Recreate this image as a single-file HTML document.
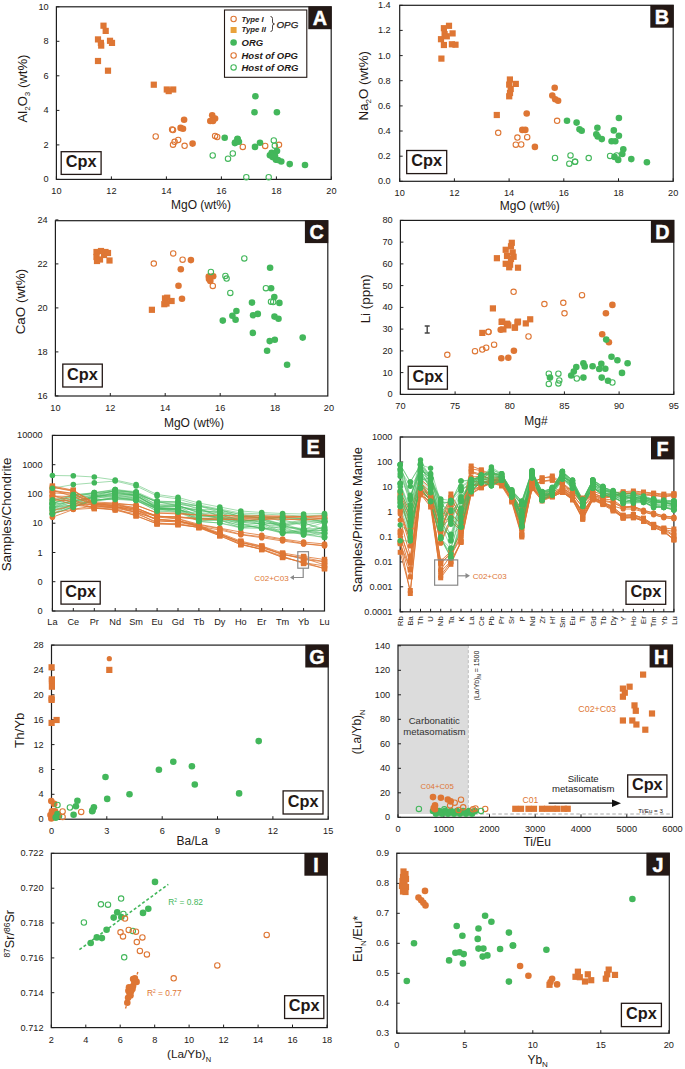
<!DOCTYPE html>
<html><head><meta charset="utf-8"><style>html,body{margin:0;padding:0;background:#fff;}svg{display:block;}</style></head>
<body><svg width="685" height="1069" viewBox="0 0 685 1069" font-family='"Liberation Sans", sans-serif'><rect width="685" height="1069" fill="#fff"/><rect x="56.4" y="6.8" width="274.8" height="172.6" fill="none" stroke="#1e1e1e" stroke-width="1.2"/><line x1="56.4" y1="179.4" x2="56.4" y2="176.4" stroke="#1e1e1e" stroke-width="1"/><text transform="translate(56.4,194.3) scale(1,1.08)" font-size="9.2" text-anchor="middle" fill="#231815">10</text><line x1="111.4" y1="179.4" x2="111.4" y2="176.4" stroke="#1e1e1e" stroke-width="1"/><text transform="translate(111.4,194.3) scale(1,1.08)" font-size="9.2" text-anchor="middle" fill="#231815">12</text><line x1="166.4" y1="179.4" x2="166.4" y2="176.4" stroke="#1e1e1e" stroke-width="1"/><text transform="translate(166.4,194.3) scale(1,1.08)" font-size="9.2" text-anchor="middle" fill="#231815">14</text><line x1="221.4" y1="179.4" x2="221.4" y2="176.4" stroke="#1e1e1e" stroke-width="1"/><text transform="translate(221.4,194.3) scale(1,1.08)" font-size="9.2" text-anchor="middle" fill="#231815">16</text><line x1="276.4" y1="179.4" x2="276.4" y2="176.4" stroke="#1e1e1e" stroke-width="1"/><text transform="translate(276.4,194.3) scale(1,1.08)" font-size="9.2" text-anchor="middle" fill="#231815">18</text><line x1="331.4" y1="179.4" x2="331.4" y2="176.4" stroke="#1e1e1e" stroke-width="1"/><text transform="translate(331.4,194.3) scale(1,1.08)" font-size="9.2" text-anchor="middle" fill="#231815">20</text><line x1="56.4" y1="179.4" x2="59.4" y2="179.4" stroke="#1e1e1e" stroke-width="1"/><text transform="translate(48.6,182.4) scale(1,1.08)" font-size="9.2" text-anchor="end" fill="#231815">0</text><line x1="56.4" y1="144.9" x2="59.4" y2="144.9" stroke="#1e1e1e" stroke-width="1"/><text transform="translate(48.6,147.9) scale(1,1.08)" font-size="9.2" text-anchor="end" fill="#231815">2</text><line x1="56.4" y1="110.4" x2="59.4" y2="110.4" stroke="#1e1e1e" stroke-width="1"/><text transform="translate(48.6,113.4) scale(1,1.08)" font-size="9.2" text-anchor="end" fill="#231815">4</text><line x1="56.4" y1="75.8" x2="59.4" y2="75.8" stroke="#1e1e1e" stroke-width="1"/><text transform="translate(48.6,78.8) scale(1,1.08)" font-size="9.2" text-anchor="end" fill="#231815">6</text><line x1="56.4" y1="41.3" x2="59.4" y2="41.3" stroke="#1e1e1e" stroke-width="1"/><text transform="translate(48.6,44.3) scale(1,1.08)" font-size="9.2" text-anchor="end" fill="#231815">8</text><line x1="56.4" y1="6.8" x2="59.4" y2="6.8" stroke="#1e1e1e" stroke-width="1"/><text transform="translate(48.6,9.8) scale(1,1.08)" font-size="9.2" text-anchor="end" fill="#231815">10</text><text transform="translate(26.5,88.5) rotate(-90)" font-size="13.1" text-anchor="middle" fill="#231815">Al<tspan font-size="8" dy="3">2</tspan><tspan dy="-3">O</tspan><tspan font-size="8" dy="3">3</tspan><tspan dy="-3"> (wt%)</tspan></text><text x="201.0" y="208.8" font-size="12" text-anchor="middle" font-weight="normal" fill="#231815" >MgO (wt%)</text><rect x="100.4" y="22.6" width="6.2" height="6.2" fill="#DE7634"/><rect x="102.6" y="27.8" width="6.2" height="6.2" fill="#DE7634"/><rect x="94.9" y="36.3" width="6.2" height="6.2" fill="#DE7634"/><rect x="97.8" y="39.8" width="6.2" height="6.2" fill="#DE7634"/><rect x="98.1" y="42.5" width="6.2" height="6.2" fill="#DE7634"/><rect x="106.9" y="37.7" width="6.2" height="6.2" fill="#DE7634"/><rect x="108.9" y="39.8" width="6.2" height="6.2" fill="#DE7634"/><rect x="94.9" y="57.9" width="6.2" height="6.2" fill="#DE7634"/><rect x="104.9" y="67.6" width="6.2" height="6.2" fill="#DE7634"/><rect x="150.7" y="81.6" width="6.2" height="6.2" fill="#DE7634"/><rect x="163.7" y="86.4" width="6.2" height="6.2" fill="#DE7634"/><rect x="170.1" y="86.4" width="6.2" height="6.2" fill="#DE7634"/><rect x="165.6" y="88.0" width="6.2" height="6.2" fill="#DE7634"/><circle cx="184.1" cy="119.7" r="3.3" fill="#DE7634"/><circle cx="180.6" cy="127.9" r="3.3" fill="#DE7634"/><circle cx="183.0" cy="128.7" r="3.3" fill="#DE7634"/><circle cx="192.6" cy="143.6" r="3.3" fill="#DE7634"/><circle cx="212.2" cy="115.3" r="3.3" fill="#DE7634"/><circle cx="215.1" cy="118.5" r="3.3" fill="#DE7634"/><circle cx="210.3" cy="121.0" r="3.3" fill="#DE7634"/><circle cx="213.0" cy="121.0" r="3.3" fill="#DE7634"/><circle cx="155.7" cy="136.5" r="2.7" fill="none" stroke="#DE7634" stroke-width="1.1"/><circle cx="172.1" cy="129.5" r="2.7" fill="none" stroke="#DE7634" stroke-width="1.1"/><circle cx="173.0" cy="130.0" r="2.7" fill="none" stroke="#DE7634" stroke-width="1.1"/><circle cx="178.2" cy="139.9" r="2.7" fill="none" stroke="#DE7634" stroke-width="1.1"/><circle cx="174.6" cy="141.8" r="2.7" fill="none" stroke="#DE7634" stroke-width="1.1"/><circle cx="173.0" cy="144.7" r="2.7" fill="none" stroke="#DE7634" stroke-width="1.1"/><circle cx="184.6" cy="145.8" r="2.7" fill="none" stroke="#DE7634" stroke-width="1.1"/><circle cx="215.1" cy="135.9" r="2.7" fill="none" stroke="#DE7634" stroke-width="1.1"/><circle cx="217.2" cy="137.0" r="2.7" fill="none" stroke="#DE7634" stroke-width="1.1"/><circle cx="242.8" cy="146.9" r="2.7" fill="none" stroke="#DE7634" stroke-width="1.1"/><circle cx="265.2" cy="145.9" r="2.7" fill="none" stroke="#DE7634" stroke-width="1.1"/><circle cx="279.0" cy="144.8" r="2.7" fill="none" stroke="#DE7634" stroke-width="1.1"/><circle cx="224.7" cy="137.8" r="3.3" fill="#43B75B"/><circle cx="235.2" cy="142.6" r="3.3" fill="#43B75B"/><circle cx="237.6" cy="139.4" r="3.3" fill="#43B75B"/><circle cx="255.4" cy="96.3" r="3.3" fill="#43B75B"/><circle cx="254.5" cy="112.2" r="3.3" fill="#43B75B"/><circle cx="276.9" cy="112.2" r="3.3" fill="#43B75B"/><circle cx="237.5" cy="138.7" r="3.3" fill="#43B75B"/><circle cx="234.9" cy="143.1" r="3.3" fill="#43B75B"/><circle cx="238.9" cy="141.7" r="3.3" fill="#43B75B"/><circle cx="255.0" cy="146.9" r="3.3" fill="#43B75B"/><circle cx="260.0" cy="142.7" r="3.3" fill="#43B75B"/><circle cx="271.7" cy="152.7" r="3.3" fill="#43B75B"/><circle cx="269.9" cy="155.3" r="3.3" fill="#43B75B"/><circle cx="272.6" cy="157.1" r="3.3" fill="#43B75B"/><circle cx="277.0" cy="151.0" r="3.3" fill="#43B75B"/><circle cx="276.0" cy="159.7" r="3.3" fill="#43B75B"/><circle cx="281.3" cy="161.5" r="3.3" fill="#43B75B"/><circle cx="289.7" cy="164.1" r="3.3" fill="#43B75B"/><circle cx="305.0" cy="165.0" r="3.3" fill="#43B75B"/><circle cx="274.0" cy="154.0" r="3.3" fill="#43B75B"/><circle cx="275.0" cy="156.0" r="3.3" fill="#43B75B"/><circle cx="278.0" cy="160.0" r="3.3" fill="#43B75B"/><circle cx="212.7" cy="155.5" r="2.7" fill="none" stroke="#43B75B" stroke-width="1.1"/><circle cx="228.0" cy="158.7" r="2.7" fill="none" stroke="#43B75B" stroke-width="1.1"/><circle cx="232.8" cy="153.5" r="2.7" fill="none" stroke="#43B75B" stroke-width="1.1"/><circle cx="273.8" cy="140.4" r="2.7" fill="none" stroke="#43B75B" stroke-width="1.1"/><circle cx="274.8" cy="145.7" r="2.7" fill="none" stroke="#43B75B" stroke-width="1.1"/><circle cx="246.3" cy="177.2" r="2.7" fill="none" stroke="#43B75B" stroke-width="1.1"/><circle cx="268.7" cy="177.2" r="2.7" fill="none" stroke="#43B75B" stroke-width="1.1"/><rect x="61.2" y="151.7" width="39.89999999999999" height="22.700000000000017" fill="#fff" stroke="#231815" stroke-width="1.3"/><text x="81.2" y="167.4" font-size="16.3" text-anchor="middle" font-weight="bold" fill="#231815" >Cpx</text><rect x="308.3" y="6.4" width="23.3" height="22.8" fill="#231815"/><text x="319.9" y="25.3" font-size="19.8" text-anchor="middle" font-weight="bold" fill="#fff" stroke="#fff" stroke-width="0.45">A</text><rect x="224.5" y="10" width="82.3" height="67.3" fill="#fff" stroke="#231815" stroke-width="1.1"/><circle cx="233.6" cy="19.0" r="2.7" fill="none" stroke="#DE7634" stroke-width="1.1"/><rect x="230.6" y="27" width="6" height="6" fill="#E9A23B"/><circle cx="233.6" cy="42.5" r="3.3" fill="#43B75B"/><circle cx="233.6" cy="55.5" r="2.7" fill="none" stroke="#DE7634" stroke-width="1.1"/><circle cx="233.6" cy="67.4" r="2.7" fill="none" stroke="#43B75B" stroke-width="1.1"/><text x="241.5" y="22.4" font-size="7.8" text-anchor="start" font-weight="bold" fill="#231815" font-style="italic" >Type I</text><text x="241.5" y="32.0" font-size="7.8" text-anchor="start" font-weight="bold" fill="#231815" font-style="italic" >Type II</text><text x="276.5" y="27.6" font-size="9.8" text-anchor="start" font-weight="normal" fill="#231815" font-style="italic" stroke="#231815" stroke-width="0.25">OPG</text><path d="M270.5,16.5 q2,0 2,2 v3.5 q0,2 2,2 q-2,0 -2,2 v3.5 q0,2 -2,2" fill="none" stroke="#231815" stroke-width="0.8"/><text x="241.5" y="46.0" font-size="9.5" text-anchor="start" font-weight="bold" fill="#231815" font-style="italic" >ORG</text><text x="241.5" y="59.0" font-size="9.5" text-anchor="start" font-weight="bold" fill="#231815" font-style="italic" >Host of OPG</text><text x="241.5" y="71.0" font-size="9.5" text-anchor="start" font-weight="bold" fill="#231815" font-style="italic" >Host of ORG</text><rect x="399.7" y="5.3" width="273.50000000000006" height="176.0" fill="none" stroke="#1e1e1e" stroke-width="1.2"/><line x1="399.7" y1="181.3" x2="399.7" y2="178.3" stroke="#1e1e1e" stroke-width="1"/><text transform="translate(399.7,196.2) scale(1,1.08)" font-size="9.2" text-anchor="middle" fill="#231815">10</text><line x1="454.4" y1="181.3" x2="454.4" y2="178.3" stroke="#1e1e1e" stroke-width="1"/><text transform="translate(454.4,196.2) scale(1,1.08)" font-size="9.2" text-anchor="middle" fill="#231815">12</text><line x1="509.1" y1="181.3" x2="509.1" y2="178.3" stroke="#1e1e1e" stroke-width="1"/><text transform="translate(509.1,196.2) scale(1,1.08)" font-size="9.2" text-anchor="middle" fill="#231815">14</text><line x1="563.8" y1="181.3" x2="563.8" y2="178.3" stroke="#1e1e1e" stroke-width="1"/><text transform="translate(563.8,196.2) scale(1,1.08)" font-size="9.2" text-anchor="middle" fill="#231815">16</text><line x1="618.5" y1="181.3" x2="618.5" y2="178.3" stroke="#1e1e1e" stroke-width="1"/><text transform="translate(618.5,196.2) scale(1,1.08)" font-size="9.2" text-anchor="middle" fill="#231815">18</text><line x1="673.2" y1="181.3" x2="673.2" y2="178.3" stroke="#1e1e1e" stroke-width="1"/><text transform="translate(673.2,196.2) scale(1,1.08)" font-size="9.2" text-anchor="middle" fill="#231815">20</text><line x1="399.7" y1="181.3" x2="402.7" y2="181.3" stroke="#1e1e1e" stroke-width="1"/><text transform="translate(390.7,184.3) scale(1,1.08)" font-size="9.2" text-anchor="end" fill="#231815">0.0</text><line x1="399.7" y1="156.2" x2="402.7" y2="156.2" stroke="#1e1e1e" stroke-width="1"/><text transform="translate(390.7,159.2) scale(1,1.08)" font-size="9.2" text-anchor="end" fill="#231815">0.2</text><line x1="399.7" y1="131.0" x2="402.7" y2="131.0" stroke="#1e1e1e" stroke-width="1"/><text transform="translate(390.7,134.0) scale(1,1.08)" font-size="9.2" text-anchor="end" fill="#231815">0.4</text><line x1="399.7" y1="105.9" x2="402.7" y2="105.9" stroke="#1e1e1e" stroke-width="1"/><text transform="translate(390.7,108.9) scale(1,1.08)" font-size="9.2" text-anchor="end" fill="#231815">0.6</text><line x1="399.7" y1="80.7" x2="402.7" y2="80.7" stroke="#1e1e1e" stroke-width="1"/><text transform="translate(390.7,83.7) scale(1,1.08)" font-size="9.2" text-anchor="end" fill="#231815">0.8</text><line x1="399.7" y1="55.6" x2="402.7" y2="55.6" stroke="#1e1e1e" stroke-width="1"/><text transform="translate(390.7,58.6) scale(1,1.08)" font-size="9.2" text-anchor="end" fill="#231815">1.0</text><line x1="399.7" y1="30.4" x2="402.7" y2="30.4" stroke="#1e1e1e" stroke-width="1"/><text transform="translate(390.7,33.4) scale(1,1.08)" font-size="9.2" text-anchor="end" fill="#231815">1.2</text><line x1="399.7" y1="5.3" x2="402.7" y2="5.3" stroke="#1e1e1e" stroke-width="1"/><text transform="translate(390.7,8.3) scale(1,1.08)" font-size="9.2" text-anchor="end" fill="#231815">1.4</text><text transform="translate(367.8,85.7) rotate(-90)" font-size="13.3" text-anchor="middle" fill="#231815">Na<tspan font-size="8" dy="3">2</tspan><tspan dy="-3">O (wt%)</tspan></text><text x="529.8" y="209.5" font-size="12" text-anchor="middle" font-weight="normal" fill="#231815" >MgO (wt%)</text><rect x="445.9" y="22.7" width="6.2" height="6.2" fill="#DE7634"/><rect x="440.8" y="25.1" width="6.2" height="6.2" fill="#DE7634"/><rect x="449.5" y="30.3" width="6.2" height="6.2" fill="#DE7634"/><rect x="441.5" y="31.0" width="6.2" height="6.2" fill="#DE7634"/><rect x="437.9" y="36.1" width="6.2" height="6.2" fill="#DE7634"/><rect x="440.8" y="41.9" width="6.2" height="6.2" fill="#DE7634"/><rect x="443.7" y="33.2" width="6.2" height="6.2" fill="#DE7634"/><rect x="448.8" y="41.2" width="6.2" height="6.2" fill="#DE7634"/><rect x="452.4" y="41.6" width="6.2" height="6.2" fill="#DE7634"/><rect x="438.3" y="55.5" width="6.2" height="6.2" fill="#DE7634"/><rect x="506.8" y="76.4" width="6.2" height="6.2" fill="#DE7634"/><rect x="512.7" y="80.8" width="6.2" height="6.2" fill="#DE7634"/><rect x="506.1" y="81.5" width="6.2" height="6.2" fill="#DE7634"/><rect x="507.6" y="85.9" width="6.2" height="6.2" fill="#DE7634"/><rect x="506.1" y="93.2" width="6.2" height="6.2" fill="#DE7634"/><rect x="506.9" y="89.9" width="6.2" height="6.2" fill="#DE7634"/><rect x="493.7" y="111.9" width="6.2" height="6.2" fill="#DE7634"/><circle cx="554.7" cy="87.8" r="3.3" fill="#DE7634"/><circle cx="552.3" cy="95.5" r="3.3" fill="#DE7634"/><circle cx="555.2" cy="99.2" r="3.3" fill="#DE7634"/><circle cx="558.1" cy="100.7" r="3.3" fill="#DE7634"/><circle cx="526.7" cy="113.5" r="3.3" fill="#DE7634"/><circle cx="522.3" cy="129.9" r="3.3" fill="#DE7634"/><circle cx="525.3" cy="129.9" r="3.3" fill="#DE7634"/><circle cx="534.9" cy="146.9" r="3.3" fill="#DE7634"/><circle cx="498.2" cy="132.8" r="2.7" fill="none" stroke="#DE7634" stroke-width="1.1"/><circle cx="517.4" cy="137.6" r="2.7" fill="none" stroke="#DE7634" stroke-width="1.1"/><circle cx="527.2" cy="137.2" r="2.7" fill="none" stroke="#DE7634" stroke-width="1.1"/><circle cx="515.8" cy="144.7" r="2.7" fill="none" stroke="#DE7634" stroke-width="1.1"/><circle cx="521.2" cy="144.5" r="2.7" fill="none" stroke="#DE7634" stroke-width="1.1"/><circle cx="557.1" cy="120.8" r="2.7" fill="none" stroke="#DE7634" stroke-width="1.1"/><circle cx="567.0" cy="120.8" r="3.3" fill="#43B75B"/><circle cx="576.6" cy="122.6" r="3.3" fill="#43B75B"/><circle cx="579.5" cy="129.2" r="3.3" fill="#43B75B"/><circle cx="581.7" cy="130.7" r="3.3" fill="#43B75B"/><circle cx="618.9" cy="118.0" r="3.3" fill="#43B75B"/><circle cx="597.4" cy="127.7" r="3.3" fill="#43B75B"/><circle cx="596.3" cy="134.3" r="3.3" fill="#43B75B"/><circle cx="597.7" cy="136.5" r="3.3" fill="#43B75B"/><circle cx="601.8" cy="139.1" r="3.3" fill="#43B75B"/><circle cx="613.8" cy="130.4" r="3.3" fill="#43B75B"/><circle cx="618.9" cy="135.8" r="3.3" fill="#43B75B"/><circle cx="611.6" cy="141.3" r="3.3" fill="#43B75B"/><circle cx="615.3" cy="141.3" r="3.3" fill="#43B75B"/><circle cx="623.3" cy="149.2" r="3.3" fill="#43B75B"/><circle cx="622.3" cy="154.0" r="3.3" fill="#43B75B"/><circle cx="614.5" cy="156.9" r="3.3" fill="#43B75B"/><circle cx="618.2" cy="159.9" r="3.3" fill="#43B75B"/><circle cx="631.3" cy="159.1" r="3.3" fill="#43B75B"/><circle cx="646.9" cy="162.3" r="3.3" fill="#43B75B"/><circle cx="555.0" cy="158.0" r="2.7" fill="none" stroke="#43B75B" stroke-width="1.1"/><circle cx="570.5" cy="155.4" r="2.7" fill="none" stroke="#43B75B" stroke-width="1.1"/><circle cx="569.3" cy="163.7" r="2.7" fill="none" stroke="#43B75B" stroke-width="1.1"/><circle cx="575.0" cy="161.7" r="2.7" fill="none" stroke="#43B75B" stroke-width="1.1"/><circle cx="575.1" cy="161.8" r="2.7" fill="none" stroke="#43B75B" stroke-width="1.1"/><circle cx="588.7" cy="158.1" r="2.7" fill="none" stroke="#43B75B" stroke-width="1.1"/><circle cx="610.1" cy="155.9" r="2.7" fill="none" stroke="#43B75B" stroke-width="1.1"/><circle cx="616.7" cy="155.5" r="2.7" fill="none" stroke="#43B75B" stroke-width="1.1"/><rect x="406.7" y="150.5" width="40.0" height="23.099999999999994" fill="#fff" stroke="#231815" stroke-width="1.3"/><text x="426.7" y="166.4" font-size="16.3" text-anchor="middle" font-weight="bold" fill="#231815" >Cpx</text><rect x="650.3" y="4.9" width="23.3" height="22.8" fill="#231815"/><text x="662.0" y="23.8" font-size="19.8" text-anchor="middle" font-weight="bold" fill="#fff" stroke="#fff" stroke-width="0.45">B</text><rect x="55.4" y="220.7" width="272.40000000000003" height="175.3" fill="none" stroke="#1e1e1e" stroke-width="1.2"/><line x1="55.4" y1="396.0" x2="55.4" y2="393.0" stroke="#1e1e1e" stroke-width="1"/><text transform="translate(55.4,410.9) scale(1,1.08)" font-size="9.2" text-anchor="middle" fill="#231815">10</text><line x1="110.3" y1="396.0" x2="110.3" y2="393.0" stroke="#1e1e1e" stroke-width="1"/><text transform="translate(110.3,410.9) scale(1,1.08)" font-size="9.2" text-anchor="middle" fill="#231815">12</text><line x1="165.2" y1="396.0" x2="165.2" y2="393.0" stroke="#1e1e1e" stroke-width="1"/><text transform="translate(165.2,410.9) scale(1,1.08)" font-size="9.2" text-anchor="middle" fill="#231815">14</text><line x1="220.2" y1="396.0" x2="220.2" y2="393.0" stroke="#1e1e1e" stroke-width="1"/><text transform="translate(220.2,410.9) scale(1,1.08)" font-size="9.2" text-anchor="middle" fill="#231815">16</text><line x1="275.1" y1="396.0" x2="275.1" y2="393.0" stroke="#1e1e1e" stroke-width="1"/><text transform="translate(275.1,410.9) scale(1,1.08)" font-size="9.2" text-anchor="middle" fill="#231815">18</text><text transform="translate(328.9,410.9) scale(1,1.08)" font-size="9.2" text-anchor="middle" fill="#231815">20</text><line x1="55.4" y1="395.9" x2="58.4" y2="395.9" stroke="#1e1e1e" stroke-width="1"/><text transform="translate(47.6,398.9) scale(1,1.08)" font-size="9.2" text-anchor="end" fill="#231815">16</text><line x1="55.4" y1="351.9" x2="58.4" y2="351.9" stroke="#1e1e1e" stroke-width="1"/><text transform="translate(47.6,354.9) scale(1,1.08)" font-size="9.2" text-anchor="end" fill="#231815">18</text><line x1="55.4" y1="307.9" x2="58.4" y2="307.9" stroke="#1e1e1e" stroke-width="1"/><text transform="translate(47.6,310.9) scale(1,1.08)" font-size="9.2" text-anchor="end" fill="#231815">20</text><line x1="55.4" y1="263.9" x2="58.4" y2="263.9" stroke="#1e1e1e" stroke-width="1"/><text transform="translate(47.6,266.9) scale(1,1.08)" font-size="9.2" text-anchor="end" fill="#231815">22</text><line x1="55.4" y1="219.9" x2="58.4" y2="219.9" stroke="#1e1e1e" stroke-width="1"/><text transform="translate(47.6,222.9) scale(1,1.08)" font-size="9.2" text-anchor="end" fill="#231815">24</text><text transform="translate(25.1,301.6) rotate(-90)" font-size="13.4" text-anchor="middle" fill="#231815">CaO (wt%)</text><text x="193.9" y="426.5" font-size="12" text-anchor="middle" font-weight="normal" fill="#231815" >MgO (wt%)</text><rect x="93.4" y="248.9" width="6.2" height="6.2" fill="#DE7634"/><rect x="97.9" y="247.9" width="6.2" height="6.2" fill="#DE7634"/><rect x="102.4" y="248.9" width="6.2" height="6.2" fill="#DE7634"/><rect x="93.4" y="253.9" width="6.2" height="6.2" fill="#DE7634"/><rect x="96.9" y="256.4" width="6.2" height="6.2" fill="#DE7634"/><rect x="100.9" y="251.9" width="6.2" height="6.2" fill="#DE7634"/><rect x="104.9" y="249.9" width="6.2" height="6.2" fill="#DE7634"/><rect x="106.4" y="257.4" width="6.2" height="6.2" fill="#DE7634"/><rect x="93.9" y="257.9" width="6.2" height="6.2" fill="#DE7634"/><rect x="148.8" y="306.7" width="6.2" height="6.2" fill="#DE7634"/><rect x="161.9" y="295.3" width="6.2" height="6.2" fill="#DE7634"/><rect x="164.1" y="294.6" width="6.2" height="6.2" fill="#DE7634"/><rect x="168.5" y="297.9" width="6.2" height="6.2" fill="#DE7634"/><rect x="161.2" y="301.1" width="6.2" height="6.2" fill="#DE7634"/><rect x="163.4" y="300.4" width="6.2" height="6.2" fill="#DE7634"/><circle cx="190.9" cy="260.1" r="3.3" fill="#DE7634"/><circle cx="180.8" cy="269.2" r="3.3" fill="#DE7634"/><circle cx="178.5" cy="285.7" r="3.3" fill="#DE7634"/><circle cx="182.0" cy="298.7" r="3.3" fill="#DE7634"/><circle cx="208.8" cy="276.5" r="3.3" fill="#DE7634"/><circle cx="213.2" cy="276.2" r="3.3" fill="#DE7634"/><circle cx="210.3" cy="280.9" r="3.3" fill="#DE7634"/><circle cx="209.0" cy="279.0" r="3.3" fill="#DE7634"/><circle cx="153.8" cy="263.6" r="2.7" fill="none" stroke="#DE7634" stroke-width="1.1"/><circle cx="173.2" cy="253.4" r="2.7" fill="none" stroke="#DE7634" stroke-width="1.1"/><circle cx="182.6" cy="259.7" r="2.7" fill="none" stroke="#DE7634" stroke-width="1.1"/><circle cx="212.8" cy="285.9" r="2.7" fill="none" stroke="#DE7634" stroke-width="1.1"/><circle cx="270.1" cy="267.7" r="3.3" fill="#43B75B"/><circle cx="271.1" cy="288.2" r="3.3" fill="#43B75B"/><circle cx="274.3" cy="297.0" r="3.3" fill="#43B75B"/><circle cx="279.4" cy="302.9" r="3.3" fill="#43B75B"/><circle cx="252.0" cy="302.6" r="3.3" fill="#43B75B"/><circle cx="236.4" cy="311.0" r="3.3" fill="#43B75B"/><circle cx="232.4" cy="315.7" r="3.3" fill="#43B75B"/><circle cx="235.6" cy="319.7" r="3.3" fill="#43B75B"/><circle cx="222.8" cy="320.6" r="3.3" fill="#43B75B"/><circle cx="253.1" cy="315.3" r="3.3" fill="#43B75B"/><circle cx="257.8" cy="313.9" r="3.3" fill="#43B75B"/><circle cx="274.5" cy="316.6" r="3.3" fill="#43B75B"/><circle cx="278.5" cy="318.7" r="3.3" fill="#43B75B"/><circle cx="252.9" cy="332.9" r="3.3" fill="#43B75B"/><circle cx="269.7" cy="341.1" r="3.3" fill="#43B75B"/><circle cx="274.8" cy="339.7" r="3.3" fill="#43B75B"/><circle cx="267.1" cy="350.7" r="3.3" fill="#43B75B"/><circle cx="302.7" cy="337.6" r="3.3" fill="#43B75B"/><circle cx="287.1" cy="364.8" r="3.3" fill="#43B75B"/><circle cx="210.9" cy="271.9" r="2.7" fill="none" stroke="#43B75B" stroke-width="1.1"/><circle cx="225.4" cy="275.9" r="2.7" fill="none" stroke="#43B75B" stroke-width="1.1"/><circle cx="226.6" cy="278.6" r="2.7" fill="none" stroke="#43B75B" stroke-width="1.1"/><circle cx="230.3" cy="292.9" r="2.7" fill="none" stroke="#43B75B" stroke-width="1.1"/><circle cx="244.3" cy="258.4" r="2.7" fill="none" stroke="#43B75B" stroke-width="1.1"/><circle cx="265.9" cy="288.2" r="2.7" fill="none" stroke="#43B75B" stroke-width="1.1"/><circle cx="271.0" cy="301.7" r="2.7" fill="none" stroke="#43B75B" stroke-width="1.1"/><circle cx="273.2" cy="302.0" r="2.7" fill="none" stroke="#43B75B" stroke-width="1.1"/><rect x="62.8" y="364.1" width="39.5" height="22.899999999999977" fill="#fff" stroke="#231815" stroke-width="1.3"/><text x="82.5" y="379.9" font-size="16.3" text-anchor="middle" font-weight="bold" fill="#231815" >Cpx</text><rect x="304.9" y="220.3" width="23.3" height="22.8" fill="#231815"/><text x="316.6" y="239.2" font-size="19.8" text-anchor="middle" font-weight="bold" fill="#fff" stroke="#fff" stroke-width="0.45">C</text><rect x="400.4" y="220.4" width="273.4" height="173.99999999999997" fill="none" stroke="#1e1e1e" stroke-width="1.2"/><line x1="400.4" y1="394.4" x2="400.4" y2="391.4" stroke="#1e1e1e" stroke-width="1"/><text transform="translate(400.4,409.3) scale(1,1.08)" font-size="9.2" text-anchor="middle" fill="#231815">70</text><line x1="455.1" y1="394.4" x2="455.1" y2="391.4" stroke="#1e1e1e" stroke-width="1"/><text transform="translate(455.1,409.3) scale(1,1.08)" font-size="9.2" text-anchor="middle" fill="#231815">75</text><line x1="509.8" y1="394.4" x2="509.8" y2="391.4" stroke="#1e1e1e" stroke-width="1"/><text transform="translate(509.8,409.3) scale(1,1.08)" font-size="9.2" text-anchor="middle" fill="#231815">80</text><line x1="564.4" y1="394.4" x2="564.4" y2="391.4" stroke="#1e1e1e" stroke-width="1"/><text transform="translate(564.4,409.3) scale(1,1.08)" font-size="9.2" text-anchor="middle" fill="#231815">85</text><line x1="619.1" y1="394.4" x2="619.1" y2="391.4" stroke="#1e1e1e" stroke-width="1"/><text transform="translate(619.1,409.3) scale(1,1.08)" font-size="9.2" text-anchor="middle" fill="#231815">90</text><line x1="673.8" y1="394.4" x2="673.8" y2="391.4" stroke="#1e1e1e" stroke-width="1"/><text transform="translate(673.8,409.3) scale(1,1.08)" font-size="9.2" text-anchor="middle" fill="#231815">95</text><line x1="400.4" y1="394.4" x2="403.4" y2="394.4" stroke="#1e1e1e" stroke-width="1"/><text transform="translate(392.6,397.4) scale(1,1.08)" font-size="9.2" text-anchor="end" fill="#231815">0</text><line x1="400.4" y1="372.6" x2="403.4" y2="372.6" stroke="#1e1e1e" stroke-width="1"/><text transform="translate(392.6,375.6) scale(1,1.08)" font-size="9.2" text-anchor="end" fill="#231815">10</text><line x1="400.4" y1="350.9" x2="403.4" y2="350.9" stroke="#1e1e1e" stroke-width="1"/><text transform="translate(392.6,353.9) scale(1,1.08)" font-size="9.2" text-anchor="end" fill="#231815">20</text><line x1="400.4" y1="329.1" x2="403.4" y2="329.1" stroke="#1e1e1e" stroke-width="1"/><text transform="translate(392.6,332.1) scale(1,1.08)" font-size="9.2" text-anchor="end" fill="#231815">30</text><line x1="400.4" y1="307.4" x2="403.4" y2="307.4" stroke="#1e1e1e" stroke-width="1"/><text transform="translate(392.6,310.4) scale(1,1.08)" font-size="9.2" text-anchor="end" fill="#231815">40</text><line x1="400.4" y1="285.6" x2="403.4" y2="285.6" stroke="#1e1e1e" stroke-width="1"/><text transform="translate(392.6,288.6) scale(1,1.08)" font-size="9.2" text-anchor="end" fill="#231815">50</text><line x1="400.4" y1="263.9" x2="403.4" y2="263.9" stroke="#1e1e1e" stroke-width="1"/><text transform="translate(392.6,266.9) scale(1,1.08)" font-size="9.2" text-anchor="end" fill="#231815">60</text><line x1="400.4" y1="242.1" x2="403.4" y2="242.1" stroke="#1e1e1e" stroke-width="1"/><text transform="translate(392.6,245.1) scale(1,1.08)" font-size="9.2" text-anchor="end" fill="#231815">70</text><line x1="400.4" y1="220.4" x2="403.4" y2="220.4" stroke="#1e1e1e" stroke-width="1"/><text transform="translate(392.6,223.4) scale(1,1.08)" font-size="9.2" text-anchor="end" fill="#231815">80</text><text transform="translate(370,298.8) rotate(-90)" font-size="13.4" text-anchor="middle" fill="#231815">Li (ppm)</text><text x="536.0" y="425.0" font-size="12" text-anchor="middle" font-weight="normal" fill="#231815" >Mg#</text><rect x="508.7" y="239.7" width="6.2" height="6.2" fill="#DE7634"/><rect x="507.9" y="243.2" width="6.2" height="6.2" fill="#DE7634"/><rect x="502.6" y="246.7" width="6.2" height="6.2" fill="#DE7634"/><rect x="509.6" y="249.3" width="6.2" height="6.2" fill="#DE7634"/><rect x="510.5" y="253.7" width="6.2" height="6.2" fill="#DE7634"/><rect x="493.8" y="255.1" width="6.2" height="6.2" fill="#DE7634"/><rect x="502.6" y="260.7" width="6.2" height="6.2" fill="#DE7634"/><rect x="507.0" y="261.6" width="6.2" height="6.2" fill="#DE7634"/><rect x="506.1" y="264.2" width="6.2" height="6.2" fill="#DE7634"/><rect x="514.9" y="264.6" width="6.2" height="6.2" fill="#DE7634"/><rect x="507.9" y="255.9" width="6.2" height="6.2" fill="#DE7634"/><rect x="503.9" y="252.9" width="6.2" height="6.2" fill="#DE7634"/><rect x="489.8" y="305.3" width="6.2" height="6.2" fill="#DE7634"/><rect x="479.2" y="329.8" width="6.2" height="6.2" fill="#DE7634"/><rect x="498.5" y="318.8" width="6.2" height="6.2" fill="#DE7634"/><rect x="503.8" y="320.6" width="6.2" height="6.2" fill="#DE7634"/><rect x="505.2" y="322.3" width="6.2" height="6.2" fill="#DE7634"/><rect x="511.7" y="324.6" width="6.2" height="6.2" fill="#DE7634"/><rect x="514.3" y="319.3" width="6.2" height="6.2" fill="#DE7634"/><rect x="499.1" y="318.5" width="6.2" height="6.2" fill="#DE7634"/><rect x="504.3" y="321.1" width="6.2" height="6.2" fill="#DE7634"/><rect x="514.9" y="318.5" width="6.2" height="6.2" fill="#DE7634"/><rect x="511.9" y="324.3" width="6.2" height="6.2" fill="#DE7634"/><rect x="522.7" y="320.3" width="6.2" height="6.2" fill="#DE7634"/><rect x="527.1" y="316.2" width="6.2" height="6.2" fill="#DE7634"/><rect x="500.3" y="326.3" width="6.2" height="6.2" fill="#DE7634"/><circle cx="500.7" cy="329.8" r="3.3" fill="#DE7634"/><circle cx="513.9" cy="350.8" r="3.3" fill="#DE7634"/><circle cx="501.3" cy="358.3" r="3.3" fill="#DE7634"/><circle cx="508.3" cy="357.8" r="3.3" fill="#DE7634"/><circle cx="612.4" cy="304.9" r="3.3" fill="#DE7634"/><circle cx="605.9" cy="313.3" r="3.3" fill="#DE7634"/><circle cx="602.2" cy="334.3" r="3.3" fill="#DE7634"/><circle cx="608.9" cy="342.2" r="3.3" fill="#DE7634"/><circle cx="513.6" cy="291.8" r="2.7" fill="none" stroke="#DE7634" stroke-width="1.1"/><circle cx="544.4" cy="304.1" r="2.7" fill="none" stroke="#DE7634" stroke-width="1.1"/><circle cx="488.4" cy="331.8" r="2.7" fill="none" stroke="#DE7634" stroke-width="1.1"/><circle cx="528.5" cy="336.5" r="2.7" fill="none" stroke="#DE7634" stroke-width="1.1"/><circle cx="447.3" cy="354.8" r="2.7" fill="none" stroke="#DE7634" stroke-width="1.1"/><circle cx="475.0" cy="351.2" r="2.7" fill="none" stroke="#DE7634" stroke-width="1.1"/><circle cx="482.3" cy="349.6" r="2.7" fill="none" stroke="#DE7634" stroke-width="1.1"/><circle cx="486.2" cy="347.7" r="2.7" fill="none" stroke="#DE7634" stroke-width="1.1"/><circle cx="494.1" cy="344.7" r="2.7" fill="none" stroke="#DE7634" stroke-width="1.1"/><circle cx="488.5" cy="331.9" r="2.7" fill="none" stroke="#DE7634" stroke-width="1.1"/><circle cx="563.3" cy="302.8" r="2.7" fill="none" stroke="#DE7634" stroke-width="1.1"/><circle cx="564.5" cy="313.3" r="2.7" fill="none" stroke="#DE7634" stroke-width="1.1"/><circle cx="582.0" cy="295.2" r="2.7" fill="none" stroke="#DE7634" stroke-width="1.1"/><circle cx="606.2" cy="339.6" r="3.3" fill="#43B75B"/><circle cx="611.5" cy="356.7" r="3.3" fill="#43B75B"/><circle cx="617.4" cy="360.2" r="3.3" fill="#43B75B"/><circle cx="627.6" cy="363.2" r="3.3" fill="#43B75B"/><circle cx="583.4" cy="363.2" r="3.3" fill="#43B75B"/><circle cx="584.7" cy="366.4" r="3.3" fill="#43B75B"/><circle cx="576.3" cy="367.1" r="3.3" fill="#43B75B"/><circle cx="573.8" cy="371.5" r="3.3" fill="#43B75B"/><circle cx="571.2" cy="375.5" r="3.3" fill="#43B75B"/><circle cx="592.6" cy="366.2" r="3.3" fill="#43B75B"/><circle cx="601.3" cy="363.7" r="3.3" fill="#43B75B"/><circle cx="599.2" cy="369.0" r="3.3" fill="#43B75B"/><circle cx="605.3" cy="368.8" r="3.3" fill="#43B75B"/><circle cx="622.0" cy="372.9" r="3.3" fill="#43B75B"/><circle cx="583.4" cy="377.6" r="3.3" fill="#43B75B"/><circle cx="601.7" cy="377.6" r="3.3" fill="#43B75B"/><circle cx="608.0" cy="380.7" r="3.3" fill="#43B75B"/><circle cx="550.0" cy="377.6" r="3.3" fill="#43B75B"/><circle cx="548.8" cy="373.7" r="2.7" fill="none" stroke="#43B75B" stroke-width="1.1"/><circle cx="558.4" cy="373.7" r="2.7" fill="none" stroke="#43B75B" stroke-width="1.1"/><circle cx="559.3" cy="380.4" r="2.7" fill="none" stroke="#43B75B" stroke-width="1.1"/><circle cx="548.8" cy="383.9" r="2.7" fill="none" stroke="#43B75B" stroke-width="1.1"/><circle cx="558.4" cy="383.4" r="2.7" fill="none" stroke="#43B75B" stroke-width="1.1"/><circle cx="576.8" cy="378.5" r="2.7" fill="none" stroke="#43B75B" stroke-width="1.1"/><circle cx="612.4" cy="382.5" r="2.7" fill="none" stroke="#43B75B" stroke-width="1.1"/><path d="M424.7,326 h5 M427.2,326 v7 M424.7,333 h5" stroke="#444" stroke-width="1.4" fill="none"/><rect x="408.2" y="366.3" width="39.19999999999999" height="22.899999999999977" fill="#fff" stroke="#231815" stroke-width="1.3"/><text x="427.8" y="382.1" font-size="16.3" text-anchor="middle" font-weight="bold" fill="#231815" >Cpx</text><rect x="650.9" y="220.0" width="23.3" height="22.8" fill="#231815"/><text x="662.5" y="238.9" font-size="19.8" text-anchor="middle" font-weight="bold" fill="#fff" stroke="#fff" stroke-width="0.45">D</text><rect x="52.4" y="435.4" width="272.1" height="175.60000000000002" fill="none" stroke="#1e1e1e" stroke-width="1.2"/><line x1="52.4" y1="611.0" x2="55.4" y2="611.0" stroke="#1e1e1e" stroke-width="1"/><text transform="translate(42.6,614.0) scale(1,1.08)" font-size="9.2" text-anchor="end" fill="#231815">0</text><line x1="52.4" y1="581.7" x2="55.4" y2="581.7" stroke="#1e1e1e" stroke-width="1"/><text transform="translate(42.6,584.7) scale(1,1.08)" font-size="9.2" text-anchor="end" fill="#231815">0</text><line x1="52.4" y1="552.5" x2="55.4" y2="552.5" stroke="#1e1e1e" stroke-width="1"/><text transform="translate(42.6,555.5) scale(1,1.08)" font-size="9.2" text-anchor="end" fill="#231815">1</text><line x1="52.4" y1="523.2" x2="55.4" y2="523.2" stroke="#1e1e1e" stroke-width="1"/><text transform="translate(42.6,526.2) scale(1,1.08)" font-size="9.2" text-anchor="end" fill="#231815">10</text><line x1="52.4" y1="493.9" x2="55.4" y2="493.9" stroke="#1e1e1e" stroke-width="1"/><text transform="translate(42.6,496.9) scale(1,1.08)" font-size="9.2" text-anchor="end" fill="#231815">100</text><line x1="52.4" y1="464.7" x2="55.4" y2="464.7" stroke="#1e1e1e" stroke-width="1"/><text transform="translate(42.6,467.7) scale(1,1.08)" font-size="9.2" text-anchor="end" fill="#231815">1000</text><line x1="52.4" y1="435.4" x2="55.4" y2="435.4" stroke="#1e1e1e" stroke-width="1"/><text transform="translate(42.6,438.4) scale(1,1.08)" font-size="9.2" text-anchor="end" fill="#231815">10000</text><line x1="52.4" y1="611.0" x2="52.4" y2="608.0" stroke="#1e1e1e" stroke-width="1"/><text transform="translate(52.4,625.0) scale(1,1.08)" font-size="9.2" text-anchor="middle" fill="#231815">La</text><line x1="73.3" y1="611.0" x2="73.3" y2="608.0" stroke="#1e1e1e" stroke-width="1"/><text transform="translate(73.3,625.0) scale(1,1.08)" font-size="9.2" text-anchor="middle" fill="#231815">Ce</text><line x1="94.3" y1="611.0" x2="94.3" y2="608.0" stroke="#1e1e1e" stroke-width="1"/><text transform="translate(94.3,625.0) scale(1,1.08)" font-size="9.2" text-anchor="middle" fill="#231815">Pr</text><line x1="115.2" y1="611.0" x2="115.2" y2="608.0" stroke="#1e1e1e" stroke-width="1"/><text transform="translate(115.2,625.0) scale(1,1.08)" font-size="9.2" text-anchor="middle" fill="#231815">Nd</text><line x1="136.1" y1="611.0" x2="136.1" y2="608.0" stroke="#1e1e1e" stroke-width="1"/><text transform="translate(136.1,625.0) scale(1,1.08)" font-size="9.2" text-anchor="middle" fill="#231815">Sm</text><line x1="157.1" y1="611.0" x2="157.1" y2="608.0" stroke="#1e1e1e" stroke-width="1"/><text transform="translate(157.1,625.0) scale(1,1.08)" font-size="9.2" text-anchor="middle" fill="#231815">Eu</text><line x1="178.0" y1="611.0" x2="178.0" y2="608.0" stroke="#1e1e1e" stroke-width="1"/><text transform="translate(178.0,625.0) scale(1,1.08)" font-size="9.2" text-anchor="middle" fill="#231815">Gd</text><line x1="198.9" y1="611.0" x2="198.9" y2="608.0" stroke="#1e1e1e" stroke-width="1"/><text transform="translate(198.9,625.0) scale(1,1.08)" font-size="9.2" text-anchor="middle" fill="#231815">Tb</text><line x1="219.8" y1="611.0" x2="219.8" y2="608.0" stroke="#1e1e1e" stroke-width="1"/><text transform="translate(219.8,625.0) scale(1,1.08)" font-size="9.2" text-anchor="middle" fill="#231815">Dy</text><line x1="240.8" y1="611.0" x2="240.8" y2="608.0" stroke="#1e1e1e" stroke-width="1"/><text transform="translate(240.8,625.0) scale(1,1.08)" font-size="9.2" text-anchor="middle" fill="#231815">Ho</text><line x1="261.7" y1="611.0" x2="261.7" y2="608.0" stroke="#1e1e1e" stroke-width="1"/><text transform="translate(261.7,625.0) scale(1,1.08)" font-size="9.2" text-anchor="middle" fill="#231815">Er</text><line x1="282.6" y1="611.0" x2="282.6" y2="608.0" stroke="#1e1e1e" stroke-width="1"/><text transform="translate(282.6,625.0) scale(1,1.08)" font-size="9.2" text-anchor="middle" fill="#231815">Tm</text><line x1="303.6" y1="611.0" x2="303.6" y2="608.0" stroke="#1e1e1e" stroke-width="1"/><text transform="translate(303.6,625.0) scale(1,1.08)" font-size="9.2" text-anchor="middle" fill="#231815">Yb</text><line x1="324.5" y1="611.0" x2="324.5" y2="608.0" stroke="#1e1e1e" stroke-width="1"/><text transform="translate(324.5,625.0) scale(1,1.08)" font-size="9.2" text-anchor="middle" fill="#231815">Lu</text><text transform="translate(10.6,514.4) rotate(-90)" font-size="13.4" text-anchor="middle" fill="#231815">Samples/Chondrite</text><polyline points="52.4,501.3 73.3,495.3 94.3,492.5 115.2,489.5 136.1,492.8 157.1,502.5 178.0,502.1 198.9,506.0 219.8,510.0 240.8,514.5 261.7,515.5 282.6,518.2 303.6,518.5 324.5,521.3" fill="none" stroke="#43B75B" stroke-width="0.55" stroke-opacity="0.9"/><polyline points="52.4,500.0 73.3,494.5 94.3,495.0 115.2,490.7 136.1,493.2 157.1,501.6 178.0,502.0 198.9,506.0 219.8,510.0 240.8,514.5 261.7,518.5 282.6,517.5 303.6,518.5 324.5,521.6" fill="none" stroke="#43B75B" stroke-width="0.55" stroke-opacity="0.9"/><polyline points="52.4,503.5 73.3,494.6 94.3,493.1 115.2,489.5 136.1,491.7 157.1,501.0 178.0,502.0 198.9,509.4 219.8,510.0 240.8,516.9 261.7,515.5 282.6,521.8 303.6,522.3 324.5,521.6" fill="none" stroke="#43B75B" stroke-width="0.55" stroke-opacity="0.9"/><polyline points="52.4,503.2 73.3,498.2 94.3,492.5 115.2,491.2 136.1,494.6 157.1,501.4 178.0,506.0 198.9,511.9 219.8,511.8 240.8,516.1 261.7,517.6 282.6,519.5 303.6,525.6 324.5,520.9" fill="none" stroke="#43B75B" stroke-width="0.55" stroke-opacity="0.9"/><polyline points="52.4,500.0 73.3,497.3 94.3,496.1 115.2,490.6 136.1,492.5 157.1,502.4 178.0,504.4 198.9,506.0 219.8,512.2 240.8,516.4 261.7,517.8 282.6,517.5 303.6,518.5 324.5,519.2" fill="none" stroke="#43B75B" stroke-width="0.55" stroke-opacity="0.9"/><polyline points="52.4,503.2 73.3,498.9 94.3,494.6 115.2,490.6 136.1,492.3 157.1,505.6 178.0,506.4 198.9,509.8 219.8,515.2 240.8,519.8 261.7,522.1 282.6,526.1 303.6,522.8 324.5,529.0" fill="none" stroke="#43B75B" stroke-width="0.55" stroke-opacity="0.9"/><polyline points="52.4,505.7 73.3,501.4 94.3,496.0 115.2,492.5 136.1,493.6 157.1,506.5 178.0,503.9 198.9,508.2 219.8,516.7 240.8,521.2 261.7,520.1 282.6,525.9 303.6,520.7 324.5,523.0" fill="none" stroke="#43B75B" stroke-width="0.55" stroke-opacity="0.9"/><polyline points="52.4,503.6 73.3,496.2 94.3,493.3 115.2,491.7 136.1,496.0 157.1,506.4 178.0,506.2 198.9,510.5 219.8,512.3 240.8,521.6 261.7,519.6 282.6,524.1 303.6,519.6 324.5,521.5" fill="none" stroke="#43B75B" stroke-width="0.55" stroke-opacity="0.9"/><polyline points="52.4,508.2 73.3,502.3 94.3,497.4 115.2,493.5 136.1,495.8 157.1,507.1 178.0,505.4 198.9,513.0 219.8,514.2 240.8,522.2 261.7,518.0 282.6,525.9 303.6,529.4 324.5,522.2" fill="none" stroke="#43B75B" stroke-width="0.55" stroke-opacity="0.9"/><polyline points="52.4,507.2 73.3,502.2 94.3,497.4 115.2,492.7 136.1,495.1 157.1,507.7 178.0,508.5 198.9,510.0 219.8,513.1 240.8,517.7 261.7,518.2 282.6,524.2 303.6,522.9 324.5,530.4" fill="none" stroke="#43B75B" stroke-width="0.55" stroke-opacity="0.9"/><polyline points="52.4,504.4 73.3,501.0 94.3,496.6 115.2,494.5 136.1,494.7 157.1,504.3 178.0,505.4 198.9,512.8 219.8,517.9 240.8,521.6 261.7,519.1 282.6,527.2 303.6,529.9 324.5,530.6" fill="none" stroke="#43B75B" stroke-width="0.55" stroke-opacity="0.9"/><polyline points="52.4,504.5 73.3,501.4 94.3,496.0 115.2,496.5 136.1,495.2 157.1,507.8 178.0,506.5 198.9,516.4 219.8,516.2 240.8,519.1 261.7,522.2 282.6,525.1 303.6,531.2 324.5,527.4" fill="none" stroke="#43B75B" stroke-width="0.55" stroke-opacity="0.9"/><polyline points="52.4,508.4 73.3,504.5 94.3,496.2 115.2,495.7 136.1,496.7 157.1,507.9 178.0,510.1 198.9,513.4 219.8,518.7 240.8,522.4 261.7,523.3 282.6,523.2 303.6,530.5 324.5,533.9" fill="none" stroke="#43B75B" stroke-width="0.55" stroke-opacity="0.9"/><polyline points="52.4,507.1 73.3,505.0 94.3,496.5 115.2,493.3 136.1,494.9 157.1,508.5 178.0,509.3 198.9,514.8 219.8,518.5 240.8,519.3 261.7,524.2 282.6,526.6 303.6,528.5 324.5,528.8" fill="none" stroke="#43B75B" stroke-width="0.55" stroke-opacity="0.9"/><polyline points="52.4,507.2 73.3,499.8 94.3,498.7 115.2,494.7 136.1,498.3 157.1,509.1 178.0,509.6 198.9,515.7 219.8,516.7 240.8,522.5 261.7,523.9 282.6,529.0 303.6,533.1 324.5,526.9" fill="none" stroke="#43B75B" stroke-width="0.55" stroke-opacity="0.9"/><polyline points="52.4,509.9 73.3,504.7 94.3,501.6 115.2,498.0 136.1,498.5 157.1,509.4 178.0,510.0 198.9,519.8 219.8,520.5 240.8,525.3 261.7,523.1 282.6,532.2 303.6,529.3 324.5,533.1" fill="none" stroke="#43B75B" stroke-width="0.55" stroke-opacity="0.9"/><polyline points="52.4,514.0 73.3,507.0 94.3,498.2 115.2,496.7 136.1,498.0 157.1,508.6 178.0,508.4 198.9,519.0 219.8,517.8 240.8,524.2 261.7,528.5 282.6,532.5 303.6,531.6 324.5,530.2" fill="none" stroke="#43B75B" stroke-width="0.55" stroke-opacity="0.9"/><polyline points="52.4,513.8 73.3,503.7 94.3,500.5 115.2,499.0 136.1,500.3 157.1,508.6 178.0,512.0 198.9,518.3 219.8,519.9 240.8,528.0 261.7,524.7 282.6,533.1 303.6,530.6 324.5,536.2" fill="none" stroke="#43B75B" stroke-width="0.55" stroke-opacity="0.9"/><polyline points="52.4,510.7 73.3,507.0 94.3,500.6 115.2,497.4 136.1,499.4 157.1,508.1 178.0,508.6 198.9,517.8 219.8,519.2 240.8,523.5 261.7,528.5 282.6,526.9 303.6,534.6 324.5,537.5" fill="none" stroke="#43B75B" stroke-width="0.55" stroke-opacity="0.9"/><polyline points="52.4,509.8 73.3,506.2 94.3,499.6 115.2,499.4 136.1,500.5 157.1,509.1 178.0,508.9 198.9,520.9 219.8,519.6 240.8,525.9 261.7,527.4 282.6,533.5 303.6,532.9 324.5,532.8" fill="none" stroke="#43B75B" stroke-width="0.55" stroke-opacity="0.9"/><polyline points="52.4,514.0 73.3,507.0 94.3,500.2 115.2,497.9 136.1,500.1 157.1,511.0 178.0,510.6 198.9,521.5 219.8,523.0 240.8,528.0 261.7,528.5 282.6,529.6 303.6,535.0 324.5,533.5" fill="none" stroke="#43B75B" stroke-width="0.55" stroke-opacity="0.9"/><polyline points="52.4,514.0 73.3,507.0 94.3,500.9 115.2,497.3 136.1,500.5 157.1,511.0 178.0,512.0 198.9,521.3 219.8,523.0 240.8,526.9 261.7,527.0 282.6,532.3 303.6,533.3 324.5,537.5" fill="none" stroke="#43B75B" stroke-width="0.55" stroke-opacity="0.9"/><polyline points="52.4,475.5 73.3,475.8 94.3,477.0 115.2,480.0 136.1,484.6 157.1,494.5 178.0,497.4 198.9,503.0 219.8,507.0 240.8,511.0 261.7,512.5 282.6,513.5 303.6,514.0 324.5,513.5" fill="none" stroke="#43B75B" stroke-width="0.55" stroke-opacity="0.9"/><polyline points="52.4,488.2 73.3,484.6 94.3,482.8 115.2,481.0 136.1,486.0 157.1,496.0 178.0,499.0 198.9,505.0 219.8,509.0 240.8,513.0 261.7,514.0 282.6,515.0 303.6,516.0 324.5,515.0" fill="none" stroke="#43B75B" stroke-width="0.55" stroke-opacity="0.9"/><polyline points="52.4,487.3 73.3,491.3 94.3,502.0 115.2,503.0 136.1,505.3 157.1,513.0 178.0,513.0 198.9,515.3 219.8,515.7 240.8,516.0 261.7,516.0 282.6,516.0 303.6,516.6 324.5,515.5" fill="none" stroke="#DE7634" stroke-width="0.8" stroke-opacity="1.0"/><polyline points="52.4,491.2 73.3,493.5 94.3,503.0 115.2,504.2 136.1,505.0 157.1,513.0 178.0,514.0 198.9,515.0 219.8,515.1 240.8,516.2 261.7,516.0 282.6,516.6 303.6,516.6 324.5,516.7" fill="none" stroke="#DE7634" stroke-width="0.8" stroke-opacity="1.0"/><polyline points="52.4,492.7 73.3,494.5 94.3,504.3 115.2,505.4 136.1,507.7 157.1,516.8 178.0,516.8 198.9,518.4 219.8,518.0 240.8,517.6 261.7,517.5 282.6,517.6 303.6,517.2 324.5,518.2" fill="none" stroke="#DE7634" stroke-width="0.8" stroke-opacity="1.0"/><polyline points="52.4,496.1 73.3,496.5 94.3,505.9 115.2,507.5 136.1,508.4 157.1,515.9 178.0,517.7 198.9,518.6 219.8,519.9 240.8,518.7 261.7,518.1 282.6,519.2 303.6,519.5 324.5,518.1" fill="none" stroke="#DE7634" stroke-width="0.8" stroke-opacity="1.0"/><polyline points="52.4,495.5 73.3,500.0 94.3,506.0 115.2,506.7 136.1,510.6 157.1,516.7 178.0,516.6 198.9,520.0 219.8,518.9 240.8,519.9 261.7,519.6 282.6,519.1 303.6,520.0 324.5,518.7" fill="none" stroke="#DE7634" stroke-width="0.8" stroke-opacity="1.0"/><polyline points="52.4,510.6 73.3,505.5 94.3,504.0 115.2,504.0 136.1,510.0 157.1,516.0 178.0,518.6 198.9,524.3 219.8,528.1 240.8,532.1 261.7,535.2 282.6,539.0 303.6,542.0 324.5,544.0" fill="none" stroke="#DE7634" stroke-width="0.8" stroke-opacity="1.0"/><polyline points="52.4,512.8 73.3,509.3 94.3,505.8 115.2,508.0 136.1,512.4 157.1,519.1 178.0,520.9 198.9,525.0 219.8,528.7 240.8,534.3 261.7,536.7 282.6,539.7 303.6,543.6 324.5,545.6" fill="none" stroke="#DE7634" stroke-width="0.8" stroke-opacity="1.0"/><polyline points="52.4,517.2 73.3,509.5 94.3,508.2 115.2,510.0 136.1,513.8 157.1,522.0 178.0,520.9 198.9,526.3 219.8,530.0 240.8,534.7 261.7,537.7 282.6,541.0 303.6,543.9 324.5,545.8" fill="none" stroke="#DE7634" stroke-width="0.8" stroke-opacity="1.0"/><polyline points="52.4,487.3 73.3,490.5 94.3,504.0 115.2,504.0 136.1,508.0 157.1,517.0 178.0,519.0 198.9,525.4 219.8,533.0 240.8,541.1 261.7,546.0 282.6,553.0 303.6,556.5 324.5,559.5" fill="none" stroke="#DE7634" stroke-width="0.8" stroke-opacity="1.0"/><polyline points="52.4,486.0 73.3,490.2 94.3,503.0 115.2,506.2 136.1,510.7 157.1,519.4 178.0,521.1 198.9,525.9 219.8,534.2 240.8,542.3 261.7,546.2 282.6,554.6 303.6,557.7 324.5,561.7" fill="none" stroke="#DE7634" stroke-width="0.8" stroke-opacity="1.0"/><polyline points="52.4,490.3 73.3,493.4 94.3,504.9 115.2,505.5 136.1,509.2 157.1,520.5 178.0,522.0 198.9,526.8 219.8,534.3 240.8,542.5 261.7,547.9 282.6,553.7 303.6,559.5 324.5,561.7" fill="none" stroke="#DE7634" stroke-width="0.8" stroke-opacity="1.0"/><polyline points="52.4,490.2 73.3,496.4 94.3,504.9 115.2,506.6 136.1,512.0 157.1,519.8 178.0,520.6 198.9,526.3 219.8,533.9 240.8,542.3 261.7,547.2 282.6,554.7 303.6,558.1 324.5,564.9" fill="none" stroke="#DE7634" stroke-width="0.8" stroke-opacity="1.0"/><polyline points="52.4,495.6 73.3,502.6 94.3,508.7 115.2,507.1 136.1,512.5 157.1,523.2 178.0,524.4 198.9,527.4 219.8,534.7 240.8,543.8 261.7,549.7 282.6,557.2 303.6,562.7 324.5,565.9" fill="none" stroke="#DE7634" stroke-width="0.8" stroke-opacity="1.0"/><polyline points="52.4,497.6 73.3,505.0 94.3,507.3 115.2,510.0 136.1,515.5 157.1,524.0 178.0,523.5 198.9,527.8 219.8,535.8 240.8,544.7 261.7,549.3 282.6,557.5 303.6,562.2 324.5,568.8" fill="none" stroke="#DE7634" stroke-width="0.8" stroke-opacity="1.0"/><polyline points="52.4,500.0 73.3,501.0 94.3,507.9 115.2,508.4 136.1,516.0 157.1,523.8 178.0,524.8 198.9,527.1 219.8,535.7 240.8,544.5 261.7,549.0 282.6,556.1 303.6,563.5 324.5,568.4" fill="none" stroke="#DE7634" stroke-width="0.8" stroke-opacity="1.0"/><circle cx="52.4" cy="487.3" r="2.8" fill="#DE7634"/><circle cx="73.3" cy="491.3" r="2.8" fill="#DE7634"/><circle cx="94.3" cy="502.0" r="2.8" fill="#DE7634"/><circle cx="115.2" cy="503.0" r="2.8" fill="#DE7634"/><circle cx="136.1" cy="505.3" r="2.8" fill="#DE7634"/><circle cx="157.1" cy="513.0" r="2.8" fill="#DE7634"/><circle cx="178.0" cy="513.0" r="2.8" fill="#DE7634"/><circle cx="198.9" cy="515.3" r="2.8" fill="#DE7634"/><circle cx="219.8" cy="515.7" r="2.8" fill="#DE7634"/><circle cx="240.8" cy="516.0" r="2.8" fill="#DE7634"/><circle cx="261.7" cy="516.0" r="2.8" fill="#DE7634"/><circle cx="282.6" cy="516.0" r="2.8" fill="#DE7634"/><circle cx="303.6" cy="516.6" r="2.8" fill="#DE7634"/><circle cx="324.5" cy="515.5" r="2.8" fill="#DE7634"/><circle cx="52.4" cy="491.2" r="2.8" fill="#DE7634"/><circle cx="73.3" cy="493.5" r="2.8" fill="#DE7634"/><circle cx="94.3" cy="503.0" r="2.8" fill="#DE7634"/><circle cx="115.2" cy="504.2" r="2.8" fill="#DE7634"/><circle cx="136.1" cy="505.0" r="2.8" fill="#DE7634"/><circle cx="157.1" cy="513.0" r="2.8" fill="#DE7634"/><circle cx="178.0" cy="514.0" r="2.8" fill="#DE7634"/><circle cx="198.9" cy="515.0" r="2.8" fill="#DE7634"/><circle cx="219.8" cy="515.1" r="2.8" fill="#DE7634"/><circle cx="240.8" cy="516.2" r="2.8" fill="#DE7634"/><circle cx="261.7" cy="516.0" r="2.8" fill="#DE7634"/><circle cx="282.6" cy="516.6" r="2.8" fill="#DE7634"/><circle cx="303.6" cy="516.6" r="2.8" fill="#DE7634"/><circle cx="324.5" cy="516.7" r="2.8" fill="#DE7634"/><circle cx="52.4" cy="492.7" r="2.8" fill="#DE7634"/><circle cx="73.3" cy="494.5" r="2.8" fill="#DE7634"/><circle cx="94.3" cy="504.3" r="2.8" fill="#DE7634"/><circle cx="115.2" cy="505.4" r="2.8" fill="#DE7634"/><circle cx="136.1" cy="507.7" r="2.8" fill="#DE7634"/><circle cx="157.1" cy="516.8" r="2.8" fill="#DE7634"/><circle cx="178.0" cy="516.8" r="2.8" fill="#DE7634"/><circle cx="198.9" cy="518.4" r="2.8" fill="#DE7634"/><circle cx="219.8" cy="518.0" r="2.8" fill="#DE7634"/><circle cx="240.8" cy="517.6" r="2.8" fill="#DE7634"/><circle cx="261.7" cy="517.5" r="2.8" fill="#DE7634"/><circle cx="282.6" cy="517.6" r="2.8" fill="#DE7634"/><circle cx="303.6" cy="517.2" r="2.8" fill="#DE7634"/><circle cx="324.5" cy="518.2" r="2.8" fill="#DE7634"/><circle cx="52.4" cy="496.1" r="2.8" fill="#DE7634"/><circle cx="73.3" cy="496.5" r="2.8" fill="#DE7634"/><circle cx="94.3" cy="505.9" r="2.8" fill="#DE7634"/><circle cx="115.2" cy="507.5" r="2.8" fill="#DE7634"/><circle cx="136.1" cy="508.4" r="2.8" fill="#DE7634"/><circle cx="157.1" cy="515.9" r="2.8" fill="#DE7634"/><circle cx="178.0" cy="517.7" r="2.8" fill="#DE7634"/><circle cx="198.9" cy="518.6" r="2.8" fill="#DE7634"/><circle cx="219.8" cy="519.9" r="2.8" fill="#DE7634"/><circle cx="240.8" cy="518.7" r="2.8" fill="#DE7634"/><circle cx="261.7" cy="518.1" r="2.8" fill="#DE7634"/><circle cx="282.6" cy="519.2" r="2.8" fill="#DE7634"/><circle cx="303.6" cy="519.5" r="2.8" fill="#DE7634"/><circle cx="324.5" cy="518.1" r="2.8" fill="#DE7634"/><circle cx="52.4" cy="495.5" r="2.8" fill="#DE7634"/><circle cx="73.3" cy="500.0" r="2.8" fill="#DE7634"/><circle cx="94.3" cy="506.0" r="2.8" fill="#DE7634"/><circle cx="115.2" cy="506.7" r="2.8" fill="#DE7634"/><circle cx="136.1" cy="510.6" r="2.8" fill="#DE7634"/><circle cx="157.1" cy="516.7" r="2.8" fill="#DE7634"/><circle cx="178.0" cy="516.6" r="2.8" fill="#DE7634"/><circle cx="198.9" cy="520.0" r="2.8" fill="#DE7634"/><circle cx="219.8" cy="518.9" r="2.8" fill="#DE7634"/><circle cx="240.8" cy="519.9" r="2.8" fill="#DE7634"/><circle cx="261.7" cy="519.6" r="2.8" fill="#DE7634"/><circle cx="282.6" cy="519.1" r="2.8" fill="#DE7634"/><circle cx="303.6" cy="520.0" r="2.8" fill="#DE7634"/><circle cx="324.5" cy="518.7" r="2.8" fill="#DE7634"/><circle cx="52.4" cy="510.6" r="2.8" fill="#DE7634"/><circle cx="73.3" cy="505.5" r="2.8" fill="#DE7634"/><circle cx="94.3" cy="504.0" r="2.8" fill="#DE7634"/><circle cx="115.2" cy="504.0" r="2.8" fill="#DE7634"/><circle cx="136.1" cy="510.0" r="2.8" fill="#DE7634"/><circle cx="157.1" cy="516.0" r="2.8" fill="#DE7634"/><circle cx="178.0" cy="518.6" r="2.8" fill="#DE7634"/><circle cx="198.9" cy="524.3" r="2.8" fill="#DE7634"/><circle cx="219.8" cy="528.1" r="2.8" fill="#DE7634"/><circle cx="240.8" cy="532.1" r="2.8" fill="#DE7634"/><circle cx="261.7" cy="535.2" r="2.8" fill="#DE7634"/><circle cx="282.6" cy="539.0" r="2.8" fill="#DE7634"/><circle cx="303.6" cy="542.0" r="2.8" fill="#DE7634"/><circle cx="324.5" cy="544.0" r="2.8" fill="#DE7634"/><circle cx="52.4" cy="512.8" r="2.8" fill="#DE7634"/><circle cx="73.3" cy="509.3" r="2.8" fill="#DE7634"/><circle cx="94.3" cy="505.8" r="2.8" fill="#DE7634"/><circle cx="115.2" cy="508.0" r="2.8" fill="#DE7634"/><circle cx="136.1" cy="512.4" r="2.8" fill="#DE7634"/><circle cx="157.1" cy="519.1" r="2.8" fill="#DE7634"/><circle cx="178.0" cy="520.9" r="2.8" fill="#DE7634"/><circle cx="198.9" cy="525.0" r="2.8" fill="#DE7634"/><circle cx="219.8" cy="528.7" r="2.8" fill="#DE7634"/><circle cx="240.8" cy="534.3" r="2.8" fill="#DE7634"/><circle cx="261.7" cy="536.7" r="2.8" fill="#DE7634"/><circle cx="282.6" cy="539.7" r="2.8" fill="#DE7634"/><circle cx="303.6" cy="543.6" r="2.8" fill="#DE7634"/><circle cx="324.5" cy="545.6" r="2.8" fill="#DE7634"/><circle cx="52.4" cy="517.2" r="2.8" fill="#DE7634"/><circle cx="73.3" cy="509.5" r="2.8" fill="#DE7634"/><circle cx="94.3" cy="508.2" r="2.8" fill="#DE7634"/><circle cx="115.2" cy="510.0" r="2.8" fill="#DE7634"/><circle cx="136.1" cy="513.8" r="2.8" fill="#DE7634"/><circle cx="157.1" cy="522.0" r="2.8" fill="#DE7634"/><circle cx="178.0" cy="520.9" r="2.8" fill="#DE7634"/><circle cx="198.9" cy="526.3" r="2.8" fill="#DE7634"/><circle cx="219.8" cy="530.0" r="2.8" fill="#DE7634"/><circle cx="240.8" cy="534.7" r="2.8" fill="#DE7634"/><circle cx="261.7" cy="537.7" r="2.8" fill="#DE7634"/><circle cx="282.6" cy="541.0" r="2.8" fill="#DE7634"/><circle cx="303.6" cy="543.9" r="2.8" fill="#DE7634"/><circle cx="324.5" cy="545.8" r="2.8" fill="#DE7634"/><rect x="49.7" y="484.6" width="5.4" height="5.4" fill="#DE7634"/><rect x="70.6" y="487.8" width="5.4" height="5.4" fill="#DE7634"/><rect x="91.6" y="501.3" width="5.4" height="5.4" fill="#DE7634"/><rect x="112.5" y="501.3" width="5.4" height="5.4" fill="#DE7634"/><rect x="133.4" y="505.3" width="5.4" height="5.4" fill="#DE7634"/><rect x="154.4" y="514.3" width="5.4" height="5.4" fill="#DE7634"/><rect x="175.3" y="516.3" width="5.4" height="5.4" fill="#DE7634"/><rect x="196.2" y="522.7" width="5.4" height="5.4" fill="#DE7634"/><rect x="217.1" y="530.3" width="5.4" height="5.4" fill="#DE7634"/><rect x="238.1" y="538.4" width="5.4" height="5.4" fill="#DE7634"/><rect x="259.0" y="543.3" width="5.4" height="5.4" fill="#DE7634"/><rect x="279.9" y="550.3" width="5.4" height="5.4" fill="#DE7634"/><rect x="300.9" y="553.8" width="5.4" height="5.4" fill="#DE7634"/><rect x="321.8" y="556.8" width="5.4" height="5.4" fill="#DE7634"/><rect x="49.7" y="483.3" width="5.4" height="5.4" fill="#DE7634"/><rect x="70.6" y="487.5" width="5.4" height="5.4" fill="#DE7634"/><rect x="91.6" y="500.3" width="5.4" height="5.4" fill="#DE7634"/><rect x="112.5" y="503.5" width="5.4" height="5.4" fill="#DE7634"/><rect x="133.4" y="508.0" width="5.4" height="5.4" fill="#DE7634"/><rect x="154.4" y="516.7" width="5.4" height="5.4" fill="#DE7634"/><rect x="175.3" y="518.4" width="5.4" height="5.4" fill="#DE7634"/><rect x="196.2" y="523.2" width="5.4" height="5.4" fill="#DE7634"/><rect x="217.1" y="531.5" width="5.4" height="5.4" fill="#DE7634"/><rect x="238.1" y="539.6" width="5.4" height="5.4" fill="#DE7634"/><rect x="259.0" y="543.5" width="5.4" height="5.4" fill="#DE7634"/><rect x="279.9" y="551.9" width="5.4" height="5.4" fill="#DE7634"/><rect x="300.9" y="555.0" width="5.4" height="5.4" fill="#DE7634"/><rect x="321.8" y="559.0" width="5.4" height="5.4" fill="#DE7634"/><rect x="49.7" y="487.6" width="5.4" height="5.4" fill="#DE7634"/><rect x="70.6" y="490.7" width="5.4" height="5.4" fill="#DE7634"/><rect x="91.6" y="502.2" width="5.4" height="5.4" fill="#DE7634"/><rect x="112.5" y="502.8" width="5.4" height="5.4" fill="#DE7634"/><rect x="133.4" y="506.5" width="5.4" height="5.4" fill="#DE7634"/><rect x="154.4" y="517.8" width="5.4" height="5.4" fill="#DE7634"/><rect x="175.3" y="519.3" width="5.4" height="5.4" fill="#DE7634"/><rect x="196.2" y="524.1" width="5.4" height="5.4" fill="#DE7634"/><rect x="217.1" y="531.6" width="5.4" height="5.4" fill="#DE7634"/><rect x="238.1" y="539.8" width="5.4" height="5.4" fill="#DE7634"/><rect x="259.0" y="545.2" width="5.4" height="5.4" fill="#DE7634"/><rect x="279.9" y="551.0" width="5.4" height="5.4" fill="#DE7634"/><rect x="300.9" y="556.8" width="5.4" height="5.4" fill="#DE7634"/><rect x="321.8" y="559.0" width="5.4" height="5.4" fill="#DE7634"/><rect x="49.7" y="487.5" width="5.4" height="5.4" fill="#DE7634"/><rect x="70.6" y="493.7" width="5.4" height="5.4" fill="#DE7634"/><rect x="91.6" y="502.2" width="5.4" height="5.4" fill="#DE7634"/><rect x="112.5" y="503.9" width="5.4" height="5.4" fill="#DE7634"/><rect x="133.4" y="509.3" width="5.4" height="5.4" fill="#DE7634"/><rect x="154.4" y="517.1" width="5.4" height="5.4" fill="#DE7634"/><rect x="175.3" y="517.9" width="5.4" height="5.4" fill="#DE7634"/><rect x="196.2" y="523.6" width="5.4" height="5.4" fill="#DE7634"/><rect x="217.1" y="531.2" width="5.4" height="5.4" fill="#DE7634"/><rect x="238.1" y="539.6" width="5.4" height="5.4" fill="#DE7634"/><rect x="259.0" y="544.5" width="5.4" height="5.4" fill="#DE7634"/><rect x="279.9" y="552.0" width="5.4" height="5.4" fill="#DE7634"/><rect x="300.9" y="555.4" width="5.4" height="5.4" fill="#DE7634"/><rect x="321.8" y="562.2" width="5.4" height="5.4" fill="#DE7634"/><rect x="49.7" y="492.9" width="5.4" height="5.4" fill="#DE7634"/><rect x="70.6" y="499.9" width="5.4" height="5.4" fill="#DE7634"/><rect x="91.6" y="506.0" width="5.4" height="5.4" fill="#DE7634"/><rect x="112.5" y="504.4" width="5.4" height="5.4" fill="#DE7634"/><rect x="133.4" y="509.8" width="5.4" height="5.4" fill="#DE7634"/><rect x="154.4" y="520.5" width="5.4" height="5.4" fill="#DE7634"/><rect x="175.3" y="521.7" width="5.4" height="5.4" fill="#DE7634"/><rect x="196.2" y="524.7" width="5.4" height="5.4" fill="#DE7634"/><rect x="217.1" y="532.0" width="5.4" height="5.4" fill="#DE7634"/><rect x="238.1" y="541.1" width="5.4" height="5.4" fill="#DE7634"/><rect x="259.0" y="547.0" width="5.4" height="5.4" fill="#DE7634"/><rect x="279.9" y="554.5" width="5.4" height="5.4" fill="#DE7634"/><rect x="300.9" y="560.0" width="5.4" height="5.4" fill="#DE7634"/><rect x="321.8" y="563.2" width="5.4" height="5.4" fill="#DE7634"/><rect x="49.7" y="494.9" width="5.4" height="5.4" fill="#DE7634"/><rect x="70.6" y="502.3" width="5.4" height="5.4" fill="#DE7634"/><rect x="91.6" y="504.6" width="5.4" height="5.4" fill="#DE7634"/><rect x="112.5" y="507.3" width="5.4" height="5.4" fill="#DE7634"/><rect x="133.4" y="512.8" width="5.4" height="5.4" fill="#DE7634"/><rect x="154.4" y="521.3" width="5.4" height="5.4" fill="#DE7634"/><rect x="175.3" y="520.8" width="5.4" height="5.4" fill="#DE7634"/><rect x="196.2" y="525.1" width="5.4" height="5.4" fill="#DE7634"/><rect x="217.1" y="533.1" width="5.4" height="5.4" fill="#DE7634"/><rect x="238.1" y="542.0" width="5.4" height="5.4" fill="#DE7634"/><rect x="259.0" y="546.6" width="5.4" height="5.4" fill="#DE7634"/><rect x="279.9" y="554.8" width="5.4" height="5.4" fill="#DE7634"/><rect x="300.9" y="559.5" width="5.4" height="5.4" fill="#DE7634"/><rect x="321.8" y="566.1" width="5.4" height="5.4" fill="#DE7634"/><rect x="49.7" y="497.3" width="5.4" height="5.4" fill="#DE7634"/><rect x="70.6" y="498.3" width="5.4" height="5.4" fill="#DE7634"/><rect x="91.6" y="505.2" width="5.4" height="5.4" fill="#DE7634"/><rect x="112.5" y="505.7" width="5.4" height="5.4" fill="#DE7634"/><rect x="133.4" y="513.3" width="5.4" height="5.4" fill="#DE7634"/><rect x="154.4" y="521.1" width="5.4" height="5.4" fill="#DE7634"/><rect x="175.3" y="522.1" width="5.4" height="5.4" fill="#DE7634"/><rect x="196.2" y="524.4" width="5.4" height="5.4" fill="#DE7634"/><rect x="217.1" y="533.0" width="5.4" height="5.4" fill="#DE7634"/><rect x="238.1" y="541.8" width="5.4" height="5.4" fill="#DE7634"/><rect x="259.0" y="546.3" width="5.4" height="5.4" fill="#DE7634"/><rect x="279.9" y="553.4" width="5.4" height="5.4" fill="#DE7634"/><rect x="300.9" y="560.8" width="5.4" height="5.4" fill="#DE7634"/><rect x="321.8" y="565.7" width="5.4" height="5.4" fill="#DE7634"/><circle cx="52.4" cy="501.3" r="2.8" fill="#43B75B"/><circle cx="73.3" cy="495.3" r="2.8" fill="#43B75B"/><circle cx="94.3" cy="492.5" r="2.8" fill="#43B75B"/><circle cx="115.2" cy="489.5" r="2.8" fill="#43B75B"/><circle cx="136.1" cy="492.8" r="2.8" fill="#43B75B"/><circle cx="157.1" cy="502.5" r="2.8" fill="#43B75B"/><circle cx="178.0" cy="502.1" r="2.8" fill="#43B75B"/><circle cx="198.9" cy="506.0" r="2.8" fill="#43B75B"/><circle cx="219.8" cy="510.0" r="2.8" fill="#43B75B"/><circle cx="240.8" cy="514.5" r="2.8" fill="#43B75B"/><circle cx="261.7" cy="515.5" r="2.8" fill="#43B75B"/><circle cx="282.6" cy="518.2" r="2.8" fill="#43B75B"/><circle cx="303.6" cy="518.5" r="2.8" fill="#43B75B"/><circle cx="324.5" cy="521.3" r="2.8" fill="#43B75B"/><circle cx="52.4" cy="500.0" r="2.8" fill="#43B75B"/><circle cx="73.3" cy="494.5" r="2.8" fill="#43B75B"/><circle cx="94.3" cy="495.0" r="2.8" fill="#43B75B"/><circle cx="115.2" cy="490.7" r="2.8" fill="#43B75B"/><circle cx="136.1" cy="493.2" r="2.8" fill="#43B75B"/><circle cx="157.1" cy="501.6" r="2.8" fill="#43B75B"/><circle cx="178.0" cy="502.0" r="2.8" fill="#43B75B"/><circle cx="198.9" cy="506.0" r="2.8" fill="#43B75B"/><circle cx="219.8" cy="510.0" r="2.8" fill="#43B75B"/><circle cx="240.8" cy="514.5" r="2.8" fill="#43B75B"/><circle cx="261.7" cy="518.5" r="2.8" fill="#43B75B"/><circle cx="282.6" cy="517.5" r="2.8" fill="#43B75B"/><circle cx="303.6" cy="518.5" r="2.8" fill="#43B75B"/><circle cx="324.5" cy="521.6" r="2.8" fill="#43B75B"/><circle cx="52.4" cy="503.5" r="2.8" fill="#43B75B"/><circle cx="73.3" cy="494.6" r="2.8" fill="#43B75B"/><circle cx="94.3" cy="493.1" r="2.8" fill="#43B75B"/><circle cx="115.2" cy="489.5" r="2.8" fill="#43B75B"/><circle cx="136.1" cy="491.7" r="2.8" fill="#43B75B"/><circle cx="157.1" cy="501.0" r="2.8" fill="#43B75B"/><circle cx="178.0" cy="502.0" r="2.8" fill="#43B75B"/><circle cx="198.9" cy="509.4" r="2.8" fill="#43B75B"/><circle cx="219.8" cy="510.0" r="2.8" fill="#43B75B"/><circle cx="240.8" cy="516.9" r="2.8" fill="#43B75B"/><circle cx="261.7" cy="515.5" r="2.8" fill="#43B75B"/><circle cx="282.6" cy="521.8" r="2.8" fill="#43B75B"/><circle cx="303.6" cy="522.3" r="2.8" fill="#43B75B"/><circle cx="324.5" cy="521.6" r="2.8" fill="#43B75B"/><circle cx="52.4" cy="503.2" r="2.8" fill="#43B75B"/><circle cx="73.3" cy="498.2" r="2.8" fill="#43B75B"/><circle cx="94.3" cy="492.5" r="2.8" fill="#43B75B"/><circle cx="115.2" cy="491.2" r="2.8" fill="#43B75B"/><circle cx="136.1" cy="494.6" r="2.8" fill="#43B75B"/><circle cx="157.1" cy="501.4" r="2.8" fill="#43B75B"/><circle cx="178.0" cy="506.0" r="2.8" fill="#43B75B"/><circle cx="198.9" cy="511.9" r="2.8" fill="#43B75B"/><circle cx="219.8" cy="511.8" r="2.8" fill="#43B75B"/><circle cx="240.8" cy="516.1" r="2.8" fill="#43B75B"/><circle cx="261.7" cy="517.6" r="2.8" fill="#43B75B"/><circle cx="282.6" cy="519.5" r="2.8" fill="#43B75B"/><circle cx="303.6" cy="525.6" r="2.8" fill="#43B75B"/><circle cx="324.5" cy="520.9" r="2.8" fill="#43B75B"/><circle cx="52.4" cy="500.0" r="2.8" fill="#43B75B"/><circle cx="73.3" cy="497.3" r="2.8" fill="#43B75B"/><circle cx="94.3" cy="496.1" r="2.8" fill="#43B75B"/><circle cx="115.2" cy="490.6" r="2.8" fill="#43B75B"/><circle cx="136.1" cy="492.5" r="2.8" fill="#43B75B"/><circle cx="157.1" cy="502.4" r="2.8" fill="#43B75B"/><circle cx="178.0" cy="504.4" r="2.8" fill="#43B75B"/><circle cx="198.9" cy="506.0" r="2.8" fill="#43B75B"/><circle cx="219.8" cy="512.2" r="2.8" fill="#43B75B"/><circle cx="240.8" cy="516.4" r="2.8" fill="#43B75B"/><circle cx="261.7" cy="517.8" r="2.8" fill="#43B75B"/><circle cx="282.6" cy="517.5" r="2.8" fill="#43B75B"/><circle cx="303.6" cy="518.5" r="2.8" fill="#43B75B"/><circle cx="324.5" cy="519.2" r="2.8" fill="#43B75B"/><circle cx="52.4" cy="503.2" r="2.8" fill="#43B75B"/><circle cx="73.3" cy="498.9" r="2.8" fill="#43B75B"/><circle cx="94.3" cy="494.6" r="2.8" fill="#43B75B"/><circle cx="115.2" cy="490.6" r="2.8" fill="#43B75B"/><circle cx="136.1" cy="492.3" r="2.8" fill="#43B75B"/><circle cx="157.1" cy="505.6" r="2.8" fill="#43B75B"/><circle cx="178.0" cy="506.4" r="2.8" fill="#43B75B"/><circle cx="198.9" cy="509.8" r="2.8" fill="#43B75B"/><circle cx="219.8" cy="515.2" r="2.8" fill="#43B75B"/><circle cx="240.8" cy="519.8" r="2.8" fill="#43B75B"/><circle cx="261.7" cy="522.1" r="2.8" fill="#43B75B"/><circle cx="282.6" cy="526.1" r="2.8" fill="#43B75B"/><circle cx="303.6" cy="522.8" r="2.8" fill="#43B75B"/><circle cx="324.5" cy="529.0" r="2.8" fill="#43B75B"/><circle cx="52.4" cy="505.7" r="2.8" fill="#43B75B"/><circle cx="73.3" cy="501.4" r="2.8" fill="#43B75B"/><circle cx="94.3" cy="496.0" r="2.8" fill="#43B75B"/><circle cx="115.2" cy="492.5" r="2.8" fill="#43B75B"/><circle cx="136.1" cy="493.6" r="2.8" fill="#43B75B"/><circle cx="157.1" cy="506.5" r="2.8" fill="#43B75B"/><circle cx="178.0" cy="503.9" r="2.8" fill="#43B75B"/><circle cx="198.9" cy="508.2" r="2.8" fill="#43B75B"/><circle cx="219.8" cy="516.7" r="2.8" fill="#43B75B"/><circle cx="240.8" cy="521.2" r="2.8" fill="#43B75B"/><circle cx="261.7" cy="520.1" r="2.8" fill="#43B75B"/><circle cx="282.6" cy="525.9" r="2.8" fill="#43B75B"/><circle cx="303.6" cy="520.7" r="2.8" fill="#43B75B"/><circle cx="324.5" cy="523.0" r="2.8" fill="#43B75B"/><circle cx="52.4" cy="503.6" r="2.8" fill="#43B75B"/><circle cx="73.3" cy="496.2" r="2.8" fill="#43B75B"/><circle cx="94.3" cy="493.3" r="2.8" fill="#43B75B"/><circle cx="115.2" cy="491.7" r="2.8" fill="#43B75B"/><circle cx="136.1" cy="496.0" r="2.8" fill="#43B75B"/><circle cx="157.1" cy="506.4" r="2.8" fill="#43B75B"/><circle cx="178.0" cy="506.2" r="2.8" fill="#43B75B"/><circle cx="198.9" cy="510.5" r="2.8" fill="#43B75B"/><circle cx="219.8" cy="512.3" r="2.8" fill="#43B75B"/><circle cx="240.8" cy="521.6" r="2.8" fill="#43B75B"/><circle cx="261.7" cy="519.6" r="2.8" fill="#43B75B"/><circle cx="282.6" cy="524.1" r="2.8" fill="#43B75B"/><circle cx="303.6" cy="519.6" r="2.8" fill="#43B75B"/><circle cx="324.5" cy="521.5" r="2.8" fill="#43B75B"/><circle cx="52.4" cy="508.2" r="2.8" fill="#43B75B"/><circle cx="73.3" cy="502.3" r="2.8" fill="#43B75B"/><circle cx="94.3" cy="497.4" r="2.8" fill="#43B75B"/><circle cx="115.2" cy="493.5" r="2.8" fill="#43B75B"/><circle cx="136.1" cy="495.8" r="2.8" fill="#43B75B"/><circle cx="157.1" cy="507.1" r="2.8" fill="#43B75B"/><circle cx="178.0" cy="505.4" r="2.8" fill="#43B75B"/><circle cx="198.9" cy="513.0" r="2.8" fill="#43B75B"/><circle cx="219.8" cy="514.2" r="2.8" fill="#43B75B"/><circle cx="240.8" cy="522.2" r="2.8" fill="#43B75B"/><circle cx="261.7" cy="518.0" r="2.8" fill="#43B75B"/><circle cx="282.6" cy="525.9" r="2.8" fill="#43B75B"/><circle cx="303.6" cy="529.4" r="2.8" fill="#43B75B"/><circle cx="324.5" cy="522.2" r="2.8" fill="#43B75B"/><circle cx="52.4" cy="507.2" r="2.8" fill="#43B75B"/><circle cx="73.3" cy="502.2" r="2.8" fill="#43B75B"/><circle cx="94.3" cy="497.4" r="2.8" fill="#43B75B"/><circle cx="115.2" cy="492.7" r="2.8" fill="#43B75B"/><circle cx="136.1" cy="495.1" r="2.8" fill="#43B75B"/><circle cx="157.1" cy="507.7" r="2.8" fill="#43B75B"/><circle cx="178.0" cy="508.5" r="2.8" fill="#43B75B"/><circle cx="198.9" cy="510.0" r="2.8" fill="#43B75B"/><circle cx="219.8" cy="513.1" r="2.8" fill="#43B75B"/><circle cx="240.8" cy="517.7" r="2.8" fill="#43B75B"/><circle cx="261.7" cy="518.2" r="2.8" fill="#43B75B"/><circle cx="282.6" cy="524.2" r="2.8" fill="#43B75B"/><circle cx="303.6" cy="522.9" r="2.8" fill="#43B75B"/><circle cx="324.5" cy="530.4" r="2.8" fill="#43B75B"/><circle cx="52.4" cy="504.4" r="2.8" fill="#43B75B"/><circle cx="73.3" cy="501.0" r="2.8" fill="#43B75B"/><circle cx="94.3" cy="496.6" r="2.8" fill="#43B75B"/><circle cx="115.2" cy="494.5" r="2.8" fill="#43B75B"/><circle cx="136.1" cy="494.7" r="2.8" fill="#43B75B"/><circle cx="157.1" cy="504.3" r="2.8" fill="#43B75B"/><circle cx="178.0" cy="505.4" r="2.8" fill="#43B75B"/><circle cx="198.9" cy="512.8" r="2.8" fill="#43B75B"/><circle cx="219.8" cy="517.9" r="2.8" fill="#43B75B"/><circle cx="240.8" cy="521.6" r="2.8" fill="#43B75B"/><circle cx="261.7" cy="519.1" r="2.8" fill="#43B75B"/><circle cx="282.6" cy="527.2" r="2.8" fill="#43B75B"/><circle cx="303.6" cy="529.9" r="2.8" fill="#43B75B"/><circle cx="324.5" cy="530.6" r="2.8" fill="#43B75B"/><circle cx="52.4" cy="504.5" r="2.8" fill="#43B75B"/><circle cx="73.3" cy="501.4" r="2.8" fill="#43B75B"/><circle cx="94.3" cy="496.0" r="2.8" fill="#43B75B"/><circle cx="115.2" cy="496.5" r="2.8" fill="#43B75B"/><circle cx="136.1" cy="495.2" r="2.8" fill="#43B75B"/><circle cx="157.1" cy="507.8" r="2.8" fill="#43B75B"/><circle cx="178.0" cy="506.5" r="2.8" fill="#43B75B"/><circle cx="198.9" cy="516.4" r="2.8" fill="#43B75B"/><circle cx="219.8" cy="516.2" r="2.8" fill="#43B75B"/><circle cx="240.8" cy="519.1" r="2.8" fill="#43B75B"/><circle cx="261.7" cy="522.2" r="2.8" fill="#43B75B"/><circle cx="282.6" cy="525.1" r="2.8" fill="#43B75B"/><circle cx="303.6" cy="531.2" r="2.8" fill="#43B75B"/><circle cx="324.5" cy="527.4" r="2.8" fill="#43B75B"/><circle cx="52.4" cy="508.4" r="2.8" fill="#43B75B"/><circle cx="73.3" cy="504.5" r="2.8" fill="#43B75B"/><circle cx="94.3" cy="496.2" r="2.8" fill="#43B75B"/><circle cx="115.2" cy="495.7" r="2.8" fill="#43B75B"/><circle cx="136.1" cy="496.7" r="2.8" fill="#43B75B"/><circle cx="157.1" cy="507.9" r="2.8" fill="#43B75B"/><circle cx="178.0" cy="510.1" r="2.8" fill="#43B75B"/><circle cx="198.9" cy="513.4" r="2.8" fill="#43B75B"/><circle cx="219.8" cy="518.7" r="2.8" fill="#43B75B"/><circle cx="240.8" cy="522.4" r="2.8" fill="#43B75B"/><circle cx="261.7" cy="523.3" r="2.8" fill="#43B75B"/><circle cx="282.6" cy="523.2" r="2.8" fill="#43B75B"/><circle cx="303.6" cy="530.5" r="2.8" fill="#43B75B"/><circle cx="324.5" cy="533.9" r="2.8" fill="#43B75B"/><circle cx="52.4" cy="507.1" r="2.8" fill="#43B75B"/><circle cx="73.3" cy="505.0" r="2.8" fill="#43B75B"/><circle cx="94.3" cy="496.5" r="2.8" fill="#43B75B"/><circle cx="115.2" cy="493.3" r="2.8" fill="#43B75B"/><circle cx="136.1" cy="494.9" r="2.8" fill="#43B75B"/><circle cx="157.1" cy="508.5" r="2.8" fill="#43B75B"/><circle cx="178.0" cy="509.3" r="2.8" fill="#43B75B"/><circle cx="198.9" cy="514.8" r="2.8" fill="#43B75B"/><circle cx="219.8" cy="518.5" r="2.8" fill="#43B75B"/><circle cx="240.8" cy="519.3" r="2.8" fill="#43B75B"/><circle cx="261.7" cy="524.2" r="2.8" fill="#43B75B"/><circle cx="282.6" cy="526.6" r="2.8" fill="#43B75B"/><circle cx="303.6" cy="528.5" r="2.8" fill="#43B75B"/><circle cx="324.5" cy="528.8" r="2.8" fill="#43B75B"/><circle cx="52.4" cy="507.2" r="2.8" fill="#43B75B"/><circle cx="73.3" cy="499.8" r="2.8" fill="#43B75B"/><circle cx="94.3" cy="498.7" r="2.8" fill="#43B75B"/><circle cx="115.2" cy="494.7" r="2.8" fill="#43B75B"/><circle cx="136.1" cy="498.3" r="2.8" fill="#43B75B"/><circle cx="157.1" cy="509.1" r="2.8" fill="#43B75B"/><circle cx="178.0" cy="509.6" r="2.8" fill="#43B75B"/><circle cx="198.9" cy="515.7" r="2.8" fill="#43B75B"/><circle cx="219.8" cy="516.7" r="2.8" fill="#43B75B"/><circle cx="240.8" cy="522.5" r="2.8" fill="#43B75B"/><circle cx="261.7" cy="523.9" r="2.8" fill="#43B75B"/><circle cx="282.6" cy="529.0" r="2.8" fill="#43B75B"/><circle cx="303.6" cy="533.1" r="2.8" fill="#43B75B"/><circle cx="324.5" cy="526.9" r="2.8" fill="#43B75B"/><circle cx="52.4" cy="509.9" r="2.8" fill="#43B75B"/><circle cx="73.3" cy="504.7" r="2.8" fill="#43B75B"/><circle cx="94.3" cy="501.6" r="2.8" fill="#43B75B"/><circle cx="115.2" cy="498.0" r="2.8" fill="#43B75B"/><circle cx="136.1" cy="498.5" r="2.8" fill="#43B75B"/><circle cx="157.1" cy="509.4" r="2.8" fill="#43B75B"/><circle cx="178.0" cy="510.0" r="2.8" fill="#43B75B"/><circle cx="198.9" cy="519.8" r="2.8" fill="#43B75B"/><circle cx="219.8" cy="520.5" r="2.8" fill="#43B75B"/><circle cx="240.8" cy="525.3" r="2.8" fill="#43B75B"/><circle cx="261.7" cy="523.1" r="2.8" fill="#43B75B"/><circle cx="282.6" cy="532.2" r="2.8" fill="#43B75B"/><circle cx="303.6" cy="529.3" r="2.8" fill="#43B75B"/><circle cx="324.5" cy="533.1" r="2.8" fill="#43B75B"/><circle cx="52.4" cy="514.0" r="2.8" fill="#43B75B"/><circle cx="73.3" cy="507.0" r="2.8" fill="#43B75B"/><circle cx="94.3" cy="498.2" r="2.8" fill="#43B75B"/><circle cx="115.2" cy="496.7" r="2.8" fill="#43B75B"/><circle cx="136.1" cy="498.0" r="2.8" fill="#43B75B"/><circle cx="157.1" cy="508.6" r="2.8" fill="#43B75B"/><circle cx="178.0" cy="508.4" r="2.8" fill="#43B75B"/><circle cx="198.9" cy="519.0" r="2.8" fill="#43B75B"/><circle cx="219.8" cy="517.8" r="2.8" fill="#43B75B"/><circle cx="240.8" cy="524.2" r="2.8" fill="#43B75B"/><circle cx="261.7" cy="528.5" r="2.8" fill="#43B75B"/><circle cx="282.6" cy="532.5" r="2.8" fill="#43B75B"/><circle cx="303.6" cy="531.6" r="2.8" fill="#43B75B"/><circle cx="324.5" cy="530.2" r="2.8" fill="#43B75B"/><circle cx="52.4" cy="513.8" r="2.8" fill="#43B75B"/><circle cx="73.3" cy="503.7" r="2.8" fill="#43B75B"/><circle cx="94.3" cy="500.5" r="2.8" fill="#43B75B"/><circle cx="115.2" cy="499.0" r="2.8" fill="#43B75B"/><circle cx="136.1" cy="500.3" r="2.8" fill="#43B75B"/><circle cx="157.1" cy="508.6" r="2.8" fill="#43B75B"/><circle cx="178.0" cy="512.0" r="2.8" fill="#43B75B"/><circle cx="198.9" cy="518.3" r="2.8" fill="#43B75B"/><circle cx="219.8" cy="519.9" r="2.8" fill="#43B75B"/><circle cx="240.8" cy="528.0" r="2.8" fill="#43B75B"/><circle cx="261.7" cy="524.7" r="2.8" fill="#43B75B"/><circle cx="282.6" cy="533.1" r="2.8" fill="#43B75B"/><circle cx="303.6" cy="530.6" r="2.8" fill="#43B75B"/><circle cx="324.5" cy="536.2" r="2.8" fill="#43B75B"/><circle cx="52.4" cy="510.7" r="2.8" fill="#43B75B"/><circle cx="73.3" cy="507.0" r="2.8" fill="#43B75B"/><circle cx="94.3" cy="500.6" r="2.8" fill="#43B75B"/><circle cx="115.2" cy="497.4" r="2.8" fill="#43B75B"/><circle cx="136.1" cy="499.4" r="2.8" fill="#43B75B"/><circle cx="157.1" cy="508.1" r="2.8" fill="#43B75B"/><circle cx="178.0" cy="508.6" r="2.8" fill="#43B75B"/><circle cx="198.9" cy="517.8" r="2.8" fill="#43B75B"/><circle cx="219.8" cy="519.2" r="2.8" fill="#43B75B"/><circle cx="240.8" cy="523.5" r="2.8" fill="#43B75B"/><circle cx="261.7" cy="528.5" r="2.8" fill="#43B75B"/><circle cx="282.6" cy="526.9" r="2.8" fill="#43B75B"/><circle cx="303.6" cy="534.6" r="2.8" fill="#43B75B"/><circle cx="324.5" cy="537.5" r="2.8" fill="#43B75B"/><circle cx="52.4" cy="509.8" r="2.8" fill="#43B75B"/><circle cx="73.3" cy="506.2" r="2.8" fill="#43B75B"/><circle cx="94.3" cy="499.6" r="2.8" fill="#43B75B"/><circle cx="115.2" cy="499.4" r="2.8" fill="#43B75B"/><circle cx="136.1" cy="500.5" r="2.8" fill="#43B75B"/><circle cx="157.1" cy="509.1" r="2.8" fill="#43B75B"/><circle cx="178.0" cy="508.9" r="2.8" fill="#43B75B"/><circle cx="198.9" cy="520.9" r="2.8" fill="#43B75B"/><circle cx="219.8" cy="519.6" r="2.8" fill="#43B75B"/><circle cx="240.8" cy="525.9" r="2.8" fill="#43B75B"/><circle cx="261.7" cy="527.4" r="2.8" fill="#43B75B"/><circle cx="282.6" cy="533.5" r="2.8" fill="#43B75B"/><circle cx="303.6" cy="532.9" r="2.8" fill="#43B75B"/><circle cx="324.5" cy="532.8" r="2.8" fill="#43B75B"/><circle cx="52.4" cy="514.0" r="2.8" fill="#43B75B"/><circle cx="73.3" cy="507.0" r="2.8" fill="#43B75B"/><circle cx="94.3" cy="500.2" r="2.8" fill="#43B75B"/><circle cx="115.2" cy="497.9" r="2.8" fill="#43B75B"/><circle cx="136.1" cy="500.1" r="2.8" fill="#43B75B"/><circle cx="157.1" cy="511.0" r="2.8" fill="#43B75B"/><circle cx="178.0" cy="510.6" r="2.8" fill="#43B75B"/><circle cx="198.9" cy="521.5" r="2.8" fill="#43B75B"/><circle cx="219.8" cy="523.0" r="2.8" fill="#43B75B"/><circle cx="240.8" cy="528.0" r="2.8" fill="#43B75B"/><circle cx="261.7" cy="528.5" r="2.8" fill="#43B75B"/><circle cx="282.6" cy="529.6" r="2.8" fill="#43B75B"/><circle cx="303.6" cy="535.0" r="2.8" fill="#43B75B"/><circle cx="324.5" cy="533.5" r="2.8" fill="#43B75B"/><circle cx="52.4" cy="514.0" r="2.8" fill="#43B75B"/><circle cx="73.3" cy="507.0" r="2.8" fill="#43B75B"/><circle cx="94.3" cy="500.9" r="2.8" fill="#43B75B"/><circle cx="115.2" cy="497.3" r="2.8" fill="#43B75B"/><circle cx="136.1" cy="500.5" r="2.8" fill="#43B75B"/><circle cx="157.1" cy="511.0" r="2.8" fill="#43B75B"/><circle cx="178.0" cy="512.0" r="2.8" fill="#43B75B"/><circle cx="198.9" cy="521.3" r="2.8" fill="#43B75B"/><circle cx="219.8" cy="523.0" r="2.8" fill="#43B75B"/><circle cx="240.8" cy="526.9" r="2.8" fill="#43B75B"/><circle cx="261.7" cy="527.0" r="2.8" fill="#43B75B"/><circle cx="282.6" cy="532.3" r="2.8" fill="#43B75B"/><circle cx="303.6" cy="533.3" r="2.8" fill="#43B75B"/><circle cx="324.5" cy="537.5" r="2.8" fill="#43B75B"/><circle cx="52.4" cy="475.5" r="2.8" fill="#43B75B"/><circle cx="73.3" cy="475.8" r="2.8" fill="#43B75B"/><circle cx="94.3" cy="477.0" r="2.8" fill="#43B75B"/><circle cx="115.2" cy="480.0" r="2.8" fill="#43B75B"/><circle cx="136.1" cy="484.6" r="2.8" fill="#43B75B"/><circle cx="157.1" cy="494.5" r="2.8" fill="#43B75B"/><circle cx="178.0" cy="497.4" r="2.8" fill="#43B75B"/><circle cx="198.9" cy="503.0" r="2.8" fill="#43B75B"/><circle cx="219.8" cy="507.0" r="2.8" fill="#43B75B"/><circle cx="240.8" cy="511.0" r="2.8" fill="#43B75B"/><circle cx="261.7" cy="512.5" r="2.8" fill="#43B75B"/><circle cx="282.6" cy="513.5" r="2.8" fill="#43B75B"/><circle cx="303.6" cy="514.0" r="2.8" fill="#43B75B"/><circle cx="324.5" cy="513.5" r="2.8" fill="#43B75B"/><circle cx="52.4" cy="488.2" r="2.8" fill="#43B75B"/><circle cx="73.3" cy="484.6" r="2.8" fill="#43B75B"/><circle cx="94.3" cy="482.8" r="2.8" fill="#43B75B"/><circle cx="115.2" cy="481.0" r="2.8" fill="#43B75B"/><circle cx="136.1" cy="486.0" r="2.8" fill="#43B75B"/><circle cx="157.1" cy="496.0" r="2.8" fill="#43B75B"/><circle cx="178.0" cy="499.0" r="2.8" fill="#43B75B"/><circle cx="198.9" cy="505.0" r="2.8" fill="#43B75B"/><circle cx="219.8" cy="509.0" r="2.8" fill="#43B75B"/><circle cx="240.8" cy="513.0" r="2.8" fill="#43B75B"/><circle cx="261.7" cy="514.0" r="2.8" fill="#43B75B"/><circle cx="282.6" cy="515.0" r="2.8" fill="#43B75B"/><circle cx="303.6" cy="516.0" r="2.8" fill="#43B75B"/><circle cx="324.5" cy="515.0" r="2.8" fill="#43B75B"/><rect x="297.8" y="551.7" width="10.7" height="16.5" fill="none" stroke="#8a8a8a" stroke-width="1.2"/><path d="M303.2,568.2 V577.5 H292" fill="none" stroke="#8a8a8a" stroke-width="1.2"/><path d="M290,577.5 l4,-2.5 v5 z" fill="#8a8a8a"/><text x="271.5" y="580.5" font-size="8.1" text-anchor="middle" font-weight="normal" fill="#DE7634" >C02+C03</text><rect x="61" y="581.4" width="39.2" height="22.700000000000045" fill="#fff" stroke="#231815" stroke-width="1.3"/><text x="80.6" y="597.0" font-size="16.3" text-anchor="middle" font-weight="bold" fill="#231815" >Cpx</text><rect x="301.6" y="435.0" width="23.3" height="22.8" fill="#231815"/><text x="313.2" y="453.9" font-size="19.8" text-anchor="middle" font-weight="bold" fill="#fff" stroke="#fff" stroke-width="0.45">E</text><rect x="400.2" y="437.0" width="273.7" height="174.79999999999995" fill="none" stroke="#1e1e1e" stroke-width="1.2"/><line x1="400.2" y1="611.8" x2="403.2" y2="611.8" stroke="#1e1e1e" stroke-width="1"/><text transform="translate(392.4,614.8) scale(1,1.08)" font-size="9.2" text-anchor="end" fill="#231815">0.0001</text><line x1="400.2" y1="586.8" x2="403.2" y2="586.8" stroke="#1e1e1e" stroke-width="1"/><text transform="translate(392.4,589.8) scale(1,1.08)" font-size="9.2" text-anchor="end" fill="#231815">0.001</text><line x1="400.2" y1="561.9" x2="403.2" y2="561.9" stroke="#1e1e1e" stroke-width="1"/><text transform="translate(392.4,564.9) scale(1,1.08)" font-size="9.2" text-anchor="end" fill="#231815">0.01</text><line x1="400.2" y1="536.9" x2="403.2" y2="536.9" stroke="#1e1e1e" stroke-width="1"/><text transform="translate(392.4,539.9) scale(1,1.08)" font-size="9.2" text-anchor="end" fill="#231815">0.1</text><line x1="400.2" y1="511.9" x2="403.2" y2="511.9" stroke="#1e1e1e" stroke-width="1"/><text transform="translate(392.4,514.9) scale(1,1.08)" font-size="9.2" text-anchor="end" fill="#231815">1</text><line x1="400.2" y1="486.9" x2="403.2" y2="486.9" stroke="#1e1e1e" stroke-width="1"/><text transform="translate(392.4,489.9) scale(1,1.08)" font-size="9.2" text-anchor="end" fill="#231815">10</text><line x1="400.2" y1="462.0" x2="403.2" y2="462.0" stroke="#1e1e1e" stroke-width="1"/><text transform="translate(392.4,465.0) scale(1,1.08)" font-size="9.2" text-anchor="end" fill="#231815">100</text><line x1="400.2" y1="437.0" x2="403.2" y2="437.0" stroke="#1e1e1e" stroke-width="1"/><text transform="translate(392.4,440.0) scale(1,1.08)" font-size="9.2" text-anchor="end" fill="#231815">1000</text><line x1="400.2" y1="611.8" x2="400.2" y2="608.8" stroke="#1e1e1e" stroke-width="1"/><line x1="410.3" y1="611.8" x2="410.3" y2="608.8" stroke="#1e1e1e" stroke-width="1"/><line x1="420.5" y1="611.8" x2="420.5" y2="608.8" stroke="#1e1e1e" stroke-width="1"/><line x1="430.6" y1="611.8" x2="430.6" y2="608.8" stroke="#1e1e1e" stroke-width="1"/><line x1="440.7" y1="611.8" x2="440.7" y2="608.8" stroke="#1e1e1e" stroke-width="1"/><line x1="450.9" y1="611.8" x2="450.9" y2="608.8" stroke="#1e1e1e" stroke-width="1"/><line x1="461.0" y1="611.8" x2="461.0" y2="608.8" stroke="#1e1e1e" stroke-width="1"/><line x1="471.2" y1="611.8" x2="471.2" y2="608.8" stroke="#1e1e1e" stroke-width="1"/><line x1="481.3" y1="611.8" x2="481.3" y2="608.8" stroke="#1e1e1e" stroke-width="1"/><line x1="491.4" y1="611.8" x2="491.4" y2="608.8" stroke="#1e1e1e" stroke-width="1"/><line x1="501.6" y1="611.8" x2="501.6" y2="608.8" stroke="#1e1e1e" stroke-width="1"/><line x1="511.7" y1="611.8" x2="511.7" y2="608.8" stroke="#1e1e1e" stroke-width="1"/><line x1="521.8" y1="611.8" x2="521.8" y2="608.8" stroke="#1e1e1e" stroke-width="1"/><line x1="532.0" y1="611.8" x2="532.0" y2="608.8" stroke="#1e1e1e" stroke-width="1"/><line x1="542.1" y1="611.8" x2="542.1" y2="608.8" stroke="#1e1e1e" stroke-width="1"/><line x1="552.3" y1="611.8" x2="552.3" y2="608.8" stroke="#1e1e1e" stroke-width="1"/><line x1="562.4" y1="611.8" x2="562.4" y2="608.8" stroke="#1e1e1e" stroke-width="1"/><line x1="572.5" y1="611.8" x2="572.5" y2="608.8" stroke="#1e1e1e" stroke-width="1"/><line x1="582.7" y1="611.8" x2="582.7" y2="608.8" stroke="#1e1e1e" stroke-width="1"/><line x1="592.8" y1="611.8" x2="592.8" y2="608.8" stroke="#1e1e1e" stroke-width="1"/><line x1="602.9" y1="611.8" x2="602.9" y2="608.8" stroke="#1e1e1e" stroke-width="1"/><line x1="613.1" y1="611.8" x2="613.1" y2="608.8" stroke="#1e1e1e" stroke-width="1"/><line x1="623.2" y1="611.8" x2="623.2" y2="608.8" stroke="#1e1e1e" stroke-width="1"/><line x1="633.4" y1="611.8" x2="633.4" y2="608.8" stroke="#1e1e1e" stroke-width="1"/><line x1="643.5" y1="611.8" x2="643.5" y2="608.8" stroke="#1e1e1e" stroke-width="1"/><line x1="653.6" y1="611.8" x2="653.6" y2="608.8" stroke="#1e1e1e" stroke-width="1"/><line x1="663.8" y1="611.8" x2="663.8" y2="608.8" stroke="#1e1e1e" stroke-width="1"/><line x1="673.9" y1="611.8" x2="673.9" y2="608.8" stroke="#1e1e1e" stroke-width="1"/><text transform="translate(402.9,616.3) rotate(-90)" font-size="7.6" text-anchor="end" fill="#231815">Rb</text><text transform="translate(413.0,616.3) rotate(-90)" font-size="7.6" text-anchor="end" fill="#231815">Ba</text><text transform="translate(423.2,616.3) rotate(-90)" font-size="7.6" text-anchor="end" fill="#231815">Th</text><text transform="translate(433.3,616.3) rotate(-90)" font-size="7.6" text-anchor="end" fill="#231815">U</text><text transform="translate(443.4,616.3) rotate(-90)" font-size="7.6" text-anchor="end" fill="#231815">Nb</text><text transform="translate(453.6,616.3) rotate(-90)" font-size="7.6" text-anchor="end" fill="#231815">Ta</text><text transform="translate(463.7,616.3) rotate(-90)" font-size="7.6" text-anchor="end" fill="#231815">K</text><text transform="translate(473.9,616.3) rotate(-90)" font-size="7.6" text-anchor="end" fill="#231815">La</text><text transform="translate(484.0,616.3) rotate(-90)" font-size="7.6" text-anchor="end" fill="#231815">Ce</text><text transform="translate(494.1,616.3) rotate(-90)" font-size="7.6" text-anchor="end" fill="#231815">Pb</text><text transform="translate(504.3,616.3) rotate(-90)" font-size="7.6" text-anchor="end" fill="#231815">Pr</text><text transform="translate(514.4,616.3) rotate(-90)" font-size="7.6" text-anchor="end" fill="#231815">Sr</text><text transform="translate(524.5,616.3) rotate(-90)" font-size="7.6" text-anchor="end" fill="#231815">P</text><text transform="translate(534.7,616.3) rotate(-90)" font-size="7.6" text-anchor="end" fill="#231815">Nd</text><text transform="translate(544.8,616.3) rotate(-90)" font-size="7.6" text-anchor="end" fill="#231815">Zr</text><text transform="translate(555.0,616.3) rotate(-90)" font-size="7.6" text-anchor="end" fill="#231815">Hf</text><text transform="translate(565.1,616.3) rotate(-90)" font-size="7.6" text-anchor="end" fill="#231815">Sm</text><text transform="translate(575.2,616.3) rotate(-90)" font-size="7.6" text-anchor="end" fill="#231815">Eu</text><text transform="translate(585.4,616.3) rotate(-90)" font-size="7.6" text-anchor="end" fill="#231815">Ti</text><text transform="translate(595.5,616.3) rotate(-90)" font-size="7.6" text-anchor="end" fill="#231815">Gd</text><text transform="translate(605.6,616.3) rotate(-90)" font-size="7.6" text-anchor="end" fill="#231815">Tb</text><text transform="translate(615.8,616.3) rotate(-90)" font-size="7.6" text-anchor="end" fill="#231815">Dy</text><text transform="translate(625.9,616.3) rotate(-90)" font-size="7.6" text-anchor="end" fill="#231815">Y</text><text transform="translate(636.1,616.3) rotate(-90)" font-size="7.6" text-anchor="end" fill="#231815">Ho</text><text transform="translate(646.2,616.3) rotate(-90)" font-size="7.6" text-anchor="end" fill="#231815">Er</text><text transform="translate(656.3,616.3) rotate(-90)" font-size="7.6" text-anchor="end" fill="#231815">Tm</text><text transform="translate(666.5,616.3) rotate(-90)" font-size="7.6" text-anchor="end" fill="#231815">Yb</text><text transform="translate(676.6,616.3) rotate(-90)" font-size="7.6" text-anchor="end" fill="#231815">Lu</text><text transform="translate(362.2,519.9) rotate(-90)" font-size="12.9" text-anchor="middle" fill="#231815">Samples/Primitive Mantle</text><polyline points="400.2,492.0 410.3,512.0 420.5,479.1 430.6,488.0 440.7,521.0 450.9,494.0 461.0,513.0 471.2,466.0 481.3,469.8 491.4,474.5 501.6,475.0 511.7,493.1 521.8,510.0 532.0,482.0 542.1,478.2 552.3,476.0 562.4,483.0 572.5,490.9 582.7,498.0 592.8,491.0 602.9,495.0 613.1,493.0 623.2,491.7 633.4,491.0 643.5,492.0 653.6,493.1 663.8,494.1 673.9,493.7" fill="none" stroke="#DE7634" stroke-width="0.9" stroke-opacity="1.0"/><polyline points="400.2,494.5 410.3,516.3 420.5,484.7 430.6,495.6 440.7,523.1 450.9,498.0 461.0,516.6 471.2,468.8 481.3,470.7 491.4,477.2 501.6,477.5 511.7,493.9 521.8,512.7 532.0,483.0 542.1,477.8 552.3,477.5 562.4,484.2 572.5,491.3 582.7,500.8 592.8,493.2 602.9,497.5 613.1,495.5 623.2,492.9 633.4,492.6 643.5,492.9 653.6,493.7 663.8,495.3 673.9,494.2" fill="none" stroke="#DE7634" stroke-width="0.9" stroke-opacity="1.0"/><polyline points="400.2,495.9 410.3,521.7 420.5,488.9 430.6,496.9 440.7,532.1 450.9,497.9 461.0,517.2 471.2,471.4 481.3,474.4 491.4,479.6 501.6,477.7 511.7,495.7 521.8,515.1 532.0,484.7 542.1,481.2 552.3,479.6 562.4,485.0 572.5,492.0 582.7,503.6 592.8,493.0 602.9,497.2 613.1,495.4 623.2,493.4 633.4,493.6 643.5,494.0 653.6,495.1 663.8,496.5 673.9,494.8" fill="none" stroke="#DE7634" stroke-width="0.9" stroke-opacity="1.0"/><polyline points="400.2,500.0 410.3,530.0 420.5,487.0 430.6,497.4 440.7,532.2 450.9,502.0 461.0,520.0 471.2,472.0 481.3,476.0 491.4,479.1 501.6,480.0 511.7,497.0 521.8,515.4 532.0,484.9 542.1,481.6 552.3,480.4 562.4,486.3 572.5,493.0 582.7,502.8 592.8,495.0 602.9,498.0 613.1,497.0 623.2,493.5 633.4,493.5 643.5,495.0 653.6,495.6 663.8,496.5 673.9,495.9" fill="none" stroke="#DE7634" stroke-width="0.9" stroke-opacity="1.0"/><polyline points="400.2,510.0 410.3,540.0 420.5,482.4 430.6,492.0 440.7,531.7 450.9,505.0 461.0,520.1 471.2,477.2 481.3,476.1 491.4,479.3 501.6,480.1 511.7,495.0 521.8,515.0 532.0,484.6 542.1,492.0 552.3,492.0 562.4,487.6 572.5,494.9 582.7,506.7 592.8,495.1 602.9,499.0 613.1,500.0 623.2,507.0 633.4,506.7 643.5,510.0 653.6,513.0 663.8,516.0 673.9,517.0" fill="none" stroke="#DE7634" stroke-width="0.9" stroke-opacity="1.0"/><polyline points="400.2,511.9 410.3,541.5 420.5,482.0 430.6,496.7 440.7,531.4 450.9,513.3 461.0,524.5 471.2,478.8 481.3,479.0 491.4,480.4 501.6,480.8 511.7,495.6 521.8,517.3 532.0,484.7 542.1,493.7 552.3,494.5 562.4,488.1 572.5,494.2 582.7,507.5 592.8,496.1 602.9,500.2 613.1,502.2 623.2,507.1 633.4,506.1 643.5,510.7 653.6,513.1 663.8,516.3 673.9,517.4" fill="none" stroke="#DE7634" stroke-width="0.9" stroke-opacity="1.0"/><polyline points="400.2,513.9 410.3,545.9 420.5,490.1 430.6,499.1 440.7,542.7 450.9,517.3 461.0,530.1 471.2,485.4 481.3,482.8 491.4,481.8 501.6,482.7 511.7,497.4 521.8,522.2 532.0,487.6 542.1,495.7 552.3,496.0 562.4,490.1 572.5,497.3 582.7,512.8 592.8,497.5 602.9,501.2 613.1,502.9 623.2,507.7 633.4,507.1 643.5,511.7 653.6,514.3 663.8,517.7 673.9,518.5" fill="none" stroke="#DE7634" stroke-width="0.9" stroke-opacity="1.0"/><polyline points="400.2,520.0 410.3,556.0 420.5,491.4 430.6,499.6 440.7,543.2 450.9,521.1 461.0,530.8 471.2,484.9 481.3,486.0 491.4,484.0 501.6,484.0 511.7,500.0 521.8,528.0 532.0,488.8 542.1,500.0 552.3,496.5 562.4,492.0 572.5,497.7 582.7,515.0 592.8,498.1 602.9,502.6 613.1,506.0 623.2,509.0 633.4,509.0 643.5,512.0 653.6,514.8 663.8,517.6 673.9,518.8" fill="none" stroke="#DE7634" stroke-width="0.9" stroke-opacity="1.0"/><polyline points="400.2,531.0 410.3,562.8 420.5,485.0 430.6,497.9 440.7,564.1 450.9,552.3 461.0,532.0 471.2,481.2 481.3,482.5 491.4,480.1 501.6,481.5 511.7,497.1 521.8,525.0 532.0,485.9 542.1,495.5 552.3,494.0 562.4,488.0 572.5,496.0 582.7,512.0 592.8,497.2 602.9,502.4 613.1,507.0 623.2,515.7 633.4,514.9 643.5,518.2 653.6,524.4 663.8,528.0 673.9,529.0" fill="none" stroke="#DE7634" stroke-width="0.9" stroke-opacity="1.0"/><polyline points="400.2,532.5 410.3,560.0 420.5,489.9 430.6,500.7 440.7,561.1 450.9,551.1 461.0,533.6 471.2,481.8 481.3,482.0 491.4,481.0 501.6,480.9 511.7,498.0 521.8,526.0 532.0,485.2 542.1,495.1 552.3,495.7 562.4,489.8 572.5,497.1 582.7,512.4 592.8,497.2 602.9,502.2 613.1,507.6 623.2,515.1 633.4,514.5 643.5,518.4 653.6,524.4 663.8,529.3 673.9,531.7" fill="none" stroke="#DE7634" stroke-width="0.9" stroke-opacity="1.0"/><polyline points="400.2,535.7 410.3,569.9 420.5,490.2 430.6,499.3 440.7,562.3 450.9,554.4 461.0,535.8 471.2,486.6 481.3,482.9 491.4,482.1 501.6,480.5 511.7,498.8 521.8,528.6 532.0,485.9 542.1,498.1 552.3,495.7 562.4,488.8 572.5,497.3 582.7,515.1 592.8,497.3 602.9,502.4 613.1,508.5 623.2,516.8 633.4,515.2 643.5,519.2 653.6,525.3 663.8,528.8 673.9,535.2" fill="none" stroke="#DE7634" stroke-width="0.9" stroke-opacity="1.0"/><polyline points="400.2,543.7 410.3,569.4 420.5,490.7 430.6,504.3 440.7,569.7 450.9,555.5 461.0,537.8 471.2,489.5 481.3,486.4 491.4,481.9 501.6,483.8 511.7,500.5 521.8,534.7 532.0,488.0 542.1,498.2 552.3,496.9 562.4,491.9 572.5,499.0 582.7,517.6 592.8,498.9 602.9,503.7 613.1,510.0 623.2,517.5 633.4,516.7 643.5,519.8 653.6,525.5 663.8,529.8 673.9,536.4" fill="none" stroke="#DE7634" stroke-width="0.9" stroke-opacity="1.0"/><polyline points="400.2,542.7 410.3,576.9 420.5,494.9 430.6,501.6 440.7,577.8 450.9,564.3 461.0,542.0 471.2,493.0 481.3,487.4 491.4,481.7 501.6,485.4 511.7,500.2 521.8,535.6 532.0,488.3 542.1,498.0 552.3,495.8 562.4,490.2 572.5,499.3 582.7,518.6 592.8,498.6 602.9,503.5 613.1,509.4 623.2,518.3 633.4,517.2 643.5,521.4 653.6,527.6 663.8,531.2 673.9,539.2" fill="none" stroke="#DE7634" stroke-width="0.9" stroke-opacity="1.0"/><polyline points="400.2,542.2 410.3,593.5 420.5,494.0 430.6,503.7 440.7,571.4 450.9,561.4 461.0,541.5 471.2,490.6 481.3,487.1 491.4,482.4 501.6,483.3 511.7,500.0 521.8,531.8 532.0,487.2 542.1,499.3 552.3,496.3 562.4,492.5 572.5,499.1 582.7,517.9 592.8,499.5 602.9,503.9 613.1,509.1 623.2,517.2 633.4,516.7 643.5,520.7 653.6,526.5 663.8,530.6 673.9,540.1" fill="none" stroke="#DE7634" stroke-width="0.9" stroke-opacity="1.0"/><polyline points="400.2,552.3 410.3,590.5 420.5,493.9 430.6,507.0 440.7,575.7 450.9,561.9 461.0,542.5 471.2,494.0 481.3,487.9 491.4,482.9 501.6,486.0 511.7,502.0 521.8,537.0 532.0,488.3 542.1,501.0 552.3,496.8 562.4,492.0 572.5,500.0 582.7,519.4 592.8,500.0 602.9,504.6 613.1,511.0 623.2,517.8 633.4,517.9 643.5,521.1 653.6,527.1 663.8,532.0 673.9,539.6" fill="none" stroke="#DE7634" stroke-width="0.9" stroke-opacity="1.0"/><polyline points="400.2,464.5 410.3,482.0 420.5,464.6 430.6,468.3 440.7,502.8 450.9,502.0 461.0,481.0 471.2,480.7 481.3,475.2 491.4,469.6 501.6,473.8 511.7,491.0 521.8,501.2 532.0,470.5 542.1,491.5 552.3,488.1 562.4,471.3 572.5,480.6 582.7,499.7 592.8,480.0 602.9,487.5 613.1,490.5 623.2,495.8 633.4,495.5 643.5,496.5 653.6,500.2 663.8,501.0 673.9,501.0" fill="none" stroke="#43B75B" stroke-width="0.55" stroke-opacity="0.9"/><polyline points="400.2,464.5 410.3,497.9 420.5,463.5 430.6,477.9 440.7,499.0 450.9,500.5 461.0,487.2 471.2,480.9 481.3,474.9 491.4,472.0 501.6,475.0 511.7,489.8 521.8,501.2 532.0,471.7 542.1,491.8 552.3,488.5 562.4,471.9 572.5,480.2 582.7,499.3 592.8,480.0 602.9,486.7 613.1,491.9 623.2,494.4 633.4,495.8 643.5,497.1 653.6,501.5 663.8,501.3 673.9,501.0" fill="none" stroke="#43B75B" stroke-width="0.55" stroke-opacity="0.9"/><polyline points="400.2,464.5 410.3,482.0 420.5,465.0 430.6,474.8 440.7,505.4 450.9,500.5 461.0,486.4 471.2,479.3 481.3,476.8 491.4,469.2 501.6,474.4 511.7,490.5 521.8,501.2 532.0,472.0 542.1,493.9 552.3,487.2 562.4,471.4 572.5,481.3 582.7,500.2 592.8,480.0 602.9,486.3 613.1,492.5 623.2,494.0 633.4,494.0 643.5,497.3 653.6,499.3 663.8,501.9 673.9,501.0" fill="none" stroke="#43B75B" stroke-width="0.55" stroke-opacity="0.9"/><polyline points="400.2,470.8 410.3,504.8 420.5,468.4 430.6,478.3 440.7,501.7 450.9,503.0 461.0,481.0 471.2,479.9 481.3,477.3 491.4,467.0 501.6,473.8 511.7,491.6 521.8,502.2 532.0,471.4 542.1,492.2 552.3,489.6 562.4,471.5 572.5,483.8 582.7,501.2 592.8,483.1 602.9,488.3 613.1,492.0 623.2,498.4 633.4,497.7 643.5,498.7 653.6,499.3 663.8,502.1 673.9,504.9" fill="none" stroke="#43B75B" stroke-width="0.55" stroke-opacity="0.9"/><polyline points="400.2,473.7 410.3,498.2 420.5,460.0 430.6,478.3 440.7,513.0 450.9,500.5 461.0,491.0 471.2,482.6 481.3,476.0 491.4,472.7 501.6,476.2 511.7,492.8 521.8,504.2 532.0,470.8 542.1,495.0 552.3,489.4 562.4,474.7 572.5,483.3 582.7,500.0 592.8,482.5 602.9,487.2 613.1,493.1 623.2,497.1 633.4,494.7 643.5,497.8 653.6,501.4 663.8,500.8 673.9,501.5" fill="none" stroke="#43B75B" stroke-width="0.55" stroke-opacity="0.9"/><polyline points="400.2,465.3 410.3,495.1 420.5,471.9 430.6,480.7 440.7,499.4 450.9,523.3 461.0,496.7 471.2,483.5 481.3,474.9 491.4,473.8 501.6,473.8 511.7,492.6 521.8,504.9 532.0,471.7 542.1,492.1 552.3,490.6 562.4,472.2 572.5,483.4 582.7,501.0 592.8,480.6 602.9,489.0 613.1,492.3 623.2,494.0 633.4,497.6 643.5,497.2 653.6,499.3 663.8,502.9 673.9,504.2" fill="none" stroke="#43B75B" stroke-width="0.55" stroke-opacity="0.9"/><polyline points="400.2,469.1 410.3,497.9 420.5,467.7 430.6,479.5 440.7,509.4 450.9,517.8 461.0,498.4 471.2,480.7 481.3,475.8 491.4,471.9 501.6,476.0 511.7,492.9 521.8,512.6 532.0,472.2 542.1,494.9 552.3,487.8 562.4,473.2 572.5,480.4 582.7,502.4 592.8,485.1 602.9,489.4 613.1,493.4 623.2,496.0 633.4,497.7 643.5,496.9 653.6,501.0 663.8,501.6 673.9,505.1" fill="none" stroke="#43B75B" stroke-width="0.55" stroke-opacity="0.9"/><polyline points="400.2,469.1 410.3,486.3 420.5,471.8 430.6,473.5 440.7,518.1 450.9,511.3 461.0,501.7 471.2,480.9 481.3,478.8 491.4,476.7 501.6,476.6 511.7,492.6 521.8,513.5 532.0,474.1 542.1,496.1 552.3,488.6 562.4,475.4 572.5,483.5 582.7,500.8 592.8,481.1 602.9,490.5 613.1,492.5 623.2,496.9 633.4,498.3 643.5,498.1 653.6,500.6 663.8,502.9 673.9,503.7" fill="none" stroke="#43B75B" stroke-width="0.55" stroke-opacity="0.9"/><polyline points="400.2,483.0 410.3,512.9 420.5,464.9 430.6,484.3 440.7,517.6 450.9,521.0 461.0,489.8 471.2,484.6 481.3,476.8 491.4,471.1 501.6,477.0 511.7,491.5 521.8,504.8 532.0,474.3 542.1,496.8 552.3,489.2 562.4,474.0 572.5,483.0 582.7,502.7 592.8,481.0 602.9,490.0 613.1,492.0 623.2,499.5 633.4,496.7 643.5,499.9 653.6,501.9 663.8,503.3 673.9,502.0" fill="none" stroke="#43B75B" stroke-width="0.55" stroke-opacity="0.9"/><polyline points="400.2,476.2 410.3,499.8 420.5,464.9 430.6,478.8 440.7,505.9 450.9,524.3 461.0,509.2 471.2,486.3 481.3,478.5 491.4,478.6 501.6,476.8 511.7,493.1 521.8,510.4 532.0,471.8 542.1,496.7 552.3,491.9 562.4,476.1 572.5,483.9 582.7,503.2 592.8,486.0 602.9,491.8 613.1,494.3 623.2,495.4 633.4,499.4 643.5,499.0 653.6,502.2 663.8,502.7 673.9,503.4" fill="none" stroke="#43B75B" stroke-width="0.55" stroke-opacity="0.9"/><polyline points="400.2,483.9 410.3,508.0 420.5,464.2 430.6,488.2 440.7,522.8 450.9,534.1 461.0,500.3 471.2,483.6 481.3,478.0 491.4,473.3 501.6,477.7 511.7,494.3 521.8,516.6 532.0,473.5 542.1,495.2 552.3,491.2 562.4,474.0 572.5,482.0 582.7,503.9 592.8,482.8 602.9,488.8 613.1,493.4 623.2,495.9 633.4,497.7 643.5,497.9 653.6,503.9 663.8,501.6 673.9,506.0" fill="none" stroke="#43B75B" stroke-width="0.55" stroke-opacity="0.9"/><polyline points="400.2,491.0 410.3,518.0 420.5,479.6 430.6,478.2 440.7,527.8 450.9,518.4 461.0,500.0 471.2,482.3 481.3,478.8 491.4,472.2 501.6,476.9 511.7,494.9 521.8,517.3 532.0,474.6 542.1,494.0 552.3,493.1 562.4,475.1 572.5,485.8 582.7,501.5 592.8,483.8 602.9,492.6 613.1,495.0 623.2,497.3 633.4,498.2 643.5,499.5 653.6,502.3 663.8,502.7 673.9,503.5" fill="none" stroke="#43B75B" stroke-width="0.55" stroke-opacity="0.9"/><polyline points="400.2,486.8 410.3,510.1 420.5,475.1 430.6,484.1 440.7,519.4 450.9,541.0 461.0,499.3 471.2,483.9 481.3,479.3 491.4,475.7 501.6,477.2 511.7,495.3 521.8,521.6 532.0,475.8 542.1,498.5 552.3,490.7 562.4,475.8 572.5,483.1 582.7,502.7 592.8,484.5 602.9,490.2 613.1,494.1 623.2,501.9 633.4,499.2 643.5,501.1 653.6,504.1 663.8,505.3 673.9,507.0" fill="none" stroke="#43B75B" stroke-width="0.55" stroke-opacity="0.9"/><polyline points="400.2,500.0 410.3,520.5 420.5,477.3 430.6,484.2 440.7,516.1 450.9,534.9 461.0,508.0 471.2,484.9 481.3,481.9 491.4,474.3 501.6,477.6 511.7,493.5 521.8,516.3 532.0,476.4 542.1,499.3 552.3,491.9 562.4,478.0 572.5,486.8 582.7,503.1 592.8,485.8 602.9,491.6 613.1,496.4 623.2,499.3 633.4,501.5 643.5,499.4 653.6,505.2 663.8,505.3 673.9,504.6" fill="none" stroke="#43B75B" stroke-width="0.55" stroke-opacity="0.9"/><polyline points="400.2,498.4 410.3,515.3 420.5,470.8 430.6,488.5 440.7,525.0 450.9,536.4 461.0,508.6 471.2,490.0 481.3,480.8 491.4,478.4 501.6,477.6 511.7,495.4 521.8,514.2 532.0,475.1 542.1,498.4 552.3,490.7 562.4,475.5 572.5,483.4 582.7,504.5 592.8,487.8 602.9,492.7 613.1,495.6 623.2,498.0 633.4,499.1 643.5,500.2 653.6,503.9 663.8,504.0 673.9,506.2" fill="none" stroke="#43B75B" stroke-width="0.55" stroke-opacity="0.9"/><polyline points="400.2,483.6 410.3,521.9 420.5,471.3 430.6,489.0 440.7,523.5 450.9,548.0 461.0,516.6 471.2,487.4 481.3,478.3 491.4,481.5 501.6,478.8 511.7,495.2 521.8,524.6 532.0,475.4 542.1,497.1 552.3,492.8 562.4,475.6 572.5,486.0 582.7,502.8 592.8,487.5 602.9,492.7 613.1,496.1 623.2,499.1 633.4,501.0 643.5,501.9 653.6,506.8 663.8,506.1 673.9,505.5" fill="none" stroke="#43B75B" stroke-width="0.55" stroke-opacity="0.9"/><polyline points="400.2,491.6 410.3,538.5 420.5,475.4 430.6,486.5 440.7,528.9 450.9,534.7 461.0,527.0 471.2,491.8 481.3,480.5 491.4,485.5 501.6,478.5 511.7,496.8 521.8,517.0 532.0,477.8 542.1,498.5 552.3,492.7 562.4,478.3 572.5,484.6 582.7,503.4 592.8,487.9 602.9,493.9 613.1,497.8 623.2,502.1 633.4,500.5 643.5,500.6 653.6,503.9 663.8,507.5 673.9,509.2" fill="none" stroke="#43B75B" stroke-width="0.55" stroke-opacity="0.9"/><polyline points="400.2,502.3 410.3,531.0 420.5,483.3 430.6,492.8 440.7,536.8 450.9,557.1 461.0,522.4 471.2,487.0 481.3,480.9 491.4,482.8 501.6,480.4 511.7,495.5 521.8,520.7 532.0,474.6 542.1,496.5 552.3,492.5 562.4,479.0 572.5,485.2 582.7,505.8 592.8,488.3 602.9,492.2 613.1,496.2 623.2,503.3 633.4,498.8 643.5,501.5 653.6,506.7 663.8,507.5 673.9,507.3" fill="none" stroke="#43B75B" stroke-width="0.55" stroke-opacity="0.9"/><polyline points="400.2,506.5 410.3,526.1 420.5,488.0 430.6,501.5 440.7,538.5 450.9,548.6 461.0,512.5 471.2,490.4 481.3,482.7 491.4,485.7 501.6,480.4 511.7,496.4 521.8,526.8 532.0,477.8 542.1,499.9 552.3,493.4 562.4,477.0 572.5,487.6 582.7,503.9 592.8,488.0 602.9,495.2 613.1,496.0 623.2,503.6 633.4,503.0 643.5,501.2 653.6,506.9 663.8,507.5 673.9,510.0" fill="none" stroke="#43B75B" stroke-width="0.55" stroke-opacity="0.9"/><polyline points="400.2,506.5 410.3,536.5 420.5,480.6 430.6,501.5 440.7,538.5 450.9,558.0 461.0,527.0 471.2,491.8 481.3,481.6 491.4,485.7 501.6,480.4 511.7,497.1 521.8,520.0 532.0,477.8 542.1,499.7 552.3,495.3 562.4,479.3 572.5,488.2 582.7,506.0 592.8,487.7 602.9,494.1 613.1,497.8 623.2,501.6 633.4,503.0 643.5,502.5 653.6,507.5 663.8,506.7 673.9,509.9" fill="none" stroke="#43B75B" stroke-width="0.55" stroke-opacity="0.9"/><polyline points="400.2,503.6 410.3,523.0 420.5,488.0 430.6,501.5 440.7,538.5 450.9,553.6 461.0,526.9 471.2,489.0 481.3,483.0 491.4,481.2 501.6,478.9 511.7,495.4 521.8,526.8 532.0,477.8 542.1,500.5 552.3,495.3 562.4,478.8 572.5,488.2 582.7,506.2 592.8,487.7 602.9,495.2 613.1,496.2 623.2,502.6 633.4,501.2 643.5,501.6 653.6,507.5 663.8,507.3 673.9,510.1" fill="none" stroke="#43B75B" stroke-width="0.55" stroke-opacity="0.9"/><polyline points="400.2,496.8 410.3,524.1 420.5,488.0 430.6,500.9 440.7,538.5 450.9,557.2 461.0,518.7 471.2,490.5 481.3,482.0 491.4,485.7 501.6,480.4 511.7,497.1 521.8,526.8 532.0,477.8 542.1,500.5 552.3,492.8 562.4,477.9 572.5,485.8 582.7,506.5 592.8,487.9 602.9,494.5 613.1,497.7 623.2,502.0 633.4,501.5 643.5,502.5 653.6,505.7 663.8,507.5 673.9,509.4" fill="none" stroke="#43B75B" stroke-width="0.55" stroke-opacity="0.9"/><polyline points="400.2,525.0 410.3,533.0 420.5,470.0 430.6,478.0 440.7,505.0 450.9,510.0 461.0,490.0 471.2,482.0 481.3,476.0 491.4,474.0 501.6,474.0 511.7,490.0 521.8,505.0 532.0,472.0 542.1,492.0 552.3,488.0 562.4,472.0 572.5,480.0 582.7,500.0 592.8,480.0 602.9,487.0 613.1,491.0 623.2,494.0 633.4,494.0 643.5,496.0 653.6,499.0 663.8,500.0 673.9,501.0" fill="none" stroke="#43B75B" stroke-width="0.55" stroke-opacity="0.9"/><polyline points="400.2,540.7 410.3,541.0 420.5,480.0 430.6,490.0 440.7,520.0 450.9,540.0 461.0,510.0 471.2,488.0 481.3,480.0 491.4,480.0 501.6,478.0 511.7,494.0 521.8,515.0 532.0,476.0 542.1,496.0 552.3,492.0 562.4,476.0 572.5,484.0 582.7,504.0 592.8,484.0 602.9,490.0 613.1,494.0 623.2,498.0 633.4,497.0 643.5,499.0 653.6,502.0 663.8,503.0 673.9,504.0" fill="none" stroke="#43B75B" stroke-width="0.55" stroke-opacity="0.9"/><rect x="397.7" y="528.5" width="5.0" height="5.0" fill="#DE7634"/><rect x="407.8" y="560.3" width="5.0" height="5.0" fill="#DE7634"/><rect x="418.0" y="482.5" width="5.0" height="5.0" fill="#DE7634"/><rect x="428.1" y="495.4" width="5.0" height="5.0" fill="#DE7634"/><rect x="438.2" y="561.6" width="5.0" height="5.0" fill="#DE7634"/><rect x="448.4" y="549.8" width="5.0" height="5.0" fill="#DE7634"/><rect x="458.5" y="529.5" width="5.0" height="5.0" fill="#DE7634"/><rect x="468.7" y="478.7" width="5.0" height="5.0" fill="#DE7634"/><rect x="478.8" y="480.0" width="5.0" height="5.0" fill="#DE7634"/><rect x="488.9" y="477.6" width="5.0" height="5.0" fill="#DE7634"/><rect x="499.1" y="479.0" width="5.0" height="5.0" fill="#DE7634"/><rect x="509.2" y="494.6" width="5.0" height="5.0" fill="#DE7634"/><rect x="519.3" y="522.5" width="5.0" height="5.0" fill="#DE7634"/><rect x="529.5" y="483.4" width="5.0" height="5.0" fill="#DE7634"/><rect x="539.6" y="493.0" width="5.0" height="5.0" fill="#DE7634"/><rect x="549.8" y="491.5" width="5.0" height="5.0" fill="#DE7634"/><rect x="559.9" y="485.5" width="5.0" height="5.0" fill="#DE7634"/><rect x="570.0" y="493.5" width="5.0" height="5.0" fill="#DE7634"/><rect x="580.2" y="509.5" width="5.0" height="5.0" fill="#DE7634"/><rect x="590.3" y="494.7" width="5.0" height="5.0" fill="#DE7634"/><rect x="600.4" y="499.9" width="5.0" height="5.0" fill="#DE7634"/><rect x="610.6" y="504.5" width="5.0" height="5.0" fill="#DE7634"/><rect x="620.7" y="513.2" width="5.0" height="5.0" fill="#DE7634"/><rect x="630.9" y="512.4" width="5.0" height="5.0" fill="#DE7634"/><rect x="641.0" y="515.7" width="5.0" height="5.0" fill="#DE7634"/><rect x="651.1" y="521.9" width="5.0" height="5.0" fill="#DE7634"/><rect x="661.3" y="525.5" width="5.0" height="5.0" fill="#DE7634"/><rect x="671.4" y="526.5" width="5.0" height="5.0" fill="#DE7634"/><rect x="397.7" y="530.0" width="5.0" height="5.0" fill="#DE7634"/><rect x="407.8" y="557.5" width="5.0" height="5.0" fill="#DE7634"/><rect x="418.0" y="487.4" width="5.0" height="5.0" fill="#DE7634"/><rect x="428.1" y="498.2" width="5.0" height="5.0" fill="#DE7634"/><rect x="438.2" y="558.6" width="5.0" height="5.0" fill="#DE7634"/><rect x="448.4" y="548.6" width="5.0" height="5.0" fill="#DE7634"/><rect x="458.5" y="531.1" width="5.0" height="5.0" fill="#DE7634"/><rect x="468.7" y="479.3" width="5.0" height="5.0" fill="#DE7634"/><rect x="478.8" y="479.5" width="5.0" height="5.0" fill="#DE7634"/><rect x="488.9" y="478.5" width="5.0" height="5.0" fill="#DE7634"/><rect x="499.1" y="478.4" width="5.0" height="5.0" fill="#DE7634"/><rect x="509.2" y="495.5" width="5.0" height="5.0" fill="#DE7634"/><rect x="519.3" y="523.5" width="5.0" height="5.0" fill="#DE7634"/><rect x="529.5" y="482.7" width="5.0" height="5.0" fill="#DE7634"/><rect x="539.6" y="492.6" width="5.0" height="5.0" fill="#DE7634"/><rect x="549.8" y="493.2" width="5.0" height="5.0" fill="#DE7634"/><rect x="559.9" y="487.3" width="5.0" height="5.0" fill="#DE7634"/><rect x="570.0" y="494.6" width="5.0" height="5.0" fill="#DE7634"/><rect x="580.2" y="509.9" width="5.0" height="5.0" fill="#DE7634"/><rect x="590.3" y="494.7" width="5.0" height="5.0" fill="#DE7634"/><rect x="600.4" y="499.7" width="5.0" height="5.0" fill="#DE7634"/><rect x="610.6" y="505.1" width="5.0" height="5.0" fill="#DE7634"/><rect x="620.7" y="512.6" width="5.0" height="5.0" fill="#DE7634"/><rect x="630.9" y="512.0" width="5.0" height="5.0" fill="#DE7634"/><rect x="641.0" y="515.9" width="5.0" height="5.0" fill="#DE7634"/><rect x="651.1" y="521.9" width="5.0" height="5.0" fill="#DE7634"/><rect x="661.3" y="526.8" width="5.0" height="5.0" fill="#DE7634"/><rect x="671.4" y="529.2" width="5.0" height="5.0" fill="#DE7634"/><rect x="397.7" y="533.2" width="5.0" height="5.0" fill="#DE7634"/><rect x="407.8" y="567.4" width="5.0" height="5.0" fill="#DE7634"/><rect x="418.0" y="487.7" width="5.0" height="5.0" fill="#DE7634"/><rect x="428.1" y="496.8" width="5.0" height="5.0" fill="#DE7634"/><rect x="438.2" y="559.8" width="5.0" height="5.0" fill="#DE7634"/><rect x="448.4" y="551.9" width="5.0" height="5.0" fill="#DE7634"/><rect x="458.5" y="533.3" width="5.0" height="5.0" fill="#DE7634"/><rect x="468.7" y="484.1" width="5.0" height="5.0" fill="#DE7634"/><rect x="478.8" y="480.4" width="5.0" height="5.0" fill="#DE7634"/><rect x="488.9" y="479.6" width="5.0" height="5.0" fill="#DE7634"/><rect x="499.1" y="478.0" width="5.0" height="5.0" fill="#DE7634"/><rect x="509.2" y="496.3" width="5.0" height="5.0" fill="#DE7634"/><rect x="519.3" y="526.1" width="5.0" height="5.0" fill="#DE7634"/><rect x="529.5" y="483.4" width="5.0" height="5.0" fill="#DE7634"/><rect x="539.6" y="495.6" width="5.0" height="5.0" fill="#DE7634"/><rect x="549.8" y="493.2" width="5.0" height="5.0" fill="#DE7634"/><rect x="559.9" y="486.3" width="5.0" height="5.0" fill="#DE7634"/><rect x="570.0" y="494.8" width="5.0" height="5.0" fill="#DE7634"/><rect x="580.2" y="512.6" width="5.0" height="5.0" fill="#DE7634"/><rect x="590.3" y="494.8" width="5.0" height="5.0" fill="#DE7634"/><rect x="600.4" y="499.9" width="5.0" height="5.0" fill="#DE7634"/><rect x="610.6" y="506.0" width="5.0" height="5.0" fill="#DE7634"/><rect x="620.7" y="514.3" width="5.0" height="5.0" fill="#DE7634"/><rect x="630.9" y="512.7" width="5.0" height="5.0" fill="#DE7634"/><rect x="641.0" y="516.7" width="5.0" height="5.0" fill="#DE7634"/><rect x="651.1" y="522.8" width="5.0" height="5.0" fill="#DE7634"/><rect x="661.3" y="526.3" width="5.0" height="5.0" fill="#DE7634"/><rect x="671.4" y="532.7" width="5.0" height="5.0" fill="#DE7634"/><rect x="397.7" y="541.2" width="5.0" height="5.0" fill="#DE7634"/><rect x="407.8" y="566.9" width="5.0" height="5.0" fill="#DE7634"/><rect x="418.0" y="488.2" width="5.0" height="5.0" fill="#DE7634"/><rect x="428.1" y="501.8" width="5.0" height="5.0" fill="#DE7634"/><rect x="438.2" y="567.2" width="5.0" height="5.0" fill="#DE7634"/><rect x="448.4" y="553.0" width="5.0" height="5.0" fill="#DE7634"/><rect x="458.5" y="535.3" width="5.0" height="5.0" fill="#DE7634"/><rect x="468.7" y="487.0" width="5.0" height="5.0" fill="#DE7634"/><rect x="478.8" y="483.9" width="5.0" height="5.0" fill="#DE7634"/><rect x="488.9" y="479.4" width="5.0" height="5.0" fill="#DE7634"/><rect x="499.1" y="481.3" width="5.0" height="5.0" fill="#DE7634"/><rect x="509.2" y="498.0" width="5.0" height="5.0" fill="#DE7634"/><rect x="519.3" y="532.2" width="5.0" height="5.0" fill="#DE7634"/><rect x="529.5" y="485.5" width="5.0" height="5.0" fill="#DE7634"/><rect x="539.6" y="495.7" width="5.0" height="5.0" fill="#DE7634"/><rect x="549.8" y="494.4" width="5.0" height="5.0" fill="#DE7634"/><rect x="559.9" y="489.4" width="5.0" height="5.0" fill="#DE7634"/><rect x="570.0" y="496.5" width="5.0" height="5.0" fill="#DE7634"/><rect x="580.2" y="515.1" width="5.0" height="5.0" fill="#DE7634"/><rect x="590.3" y="496.4" width="5.0" height="5.0" fill="#DE7634"/><rect x="600.4" y="501.2" width="5.0" height="5.0" fill="#DE7634"/><rect x="610.6" y="507.5" width="5.0" height="5.0" fill="#DE7634"/><rect x="620.7" y="515.0" width="5.0" height="5.0" fill="#DE7634"/><rect x="630.9" y="514.2" width="5.0" height="5.0" fill="#DE7634"/><rect x="641.0" y="517.3" width="5.0" height="5.0" fill="#DE7634"/><rect x="651.1" y="523.0" width="5.0" height="5.0" fill="#DE7634"/><rect x="661.3" y="527.3" width="5.0" height="5.0" fill="#DE7634"/><rect x="671.4" y="533.9" width="5.0" height="5.0" fill="#DE7634"/><rect x="397.7" y="540.2" width="5.0" height="5.0" fill="#DE7634"/><rect x="407.8" y="574.4" width="5.0" height="5.0" fill="#DE7634"/><rect x="418.0" y="492.4" width="5.0" height="5.0" fill="#DE7634"/><rect x="428.1" y="499.1" width="5.0" height="5.0" fill="#DE7634"/><rect x="438.2" y="575.3" width="5.0" height="5.0" fill="#DE7634"/><rect x="448.4" y="561.8" width="5.0" height="5.0" fill="#DE7634"/><rect x="458.5" y="539.5" width="5.0" height="5.0" fill="#DE7634"/><rect x="468.7" y="490.5" width="5.0" height="5.0" fill="#DE7634"/><rect x="478.8" y="484.9" width="5.0" height="5.0" fill="#DE7634"/><rect x="488.9" y="479.2" width="5.0" height="5.0" fill="#DE7634"/><rect x="499.1" y="482.9" width="5.0" height="5.0" fill="#DE7634"/><rect x="509.2" y="497.7" width="5.0" height="5.0" fill="#DE7634"/><rect x="519.3" y="533.1" width="5.0" height="5.0" fill="#DE7634"/><rect x="529.5" y="485.8" width="5.0" height="5.0" fill="#DE7634"/><rect x="539.6" y="495.5" width="5.0" height="5.0" fill="#DE7634"/><rect x="549.8" y="493.3" width="5.0" height="5.0" fill="#DE7634"/><rect x="559.9" y="487.7" width="5.0" height="5.0" fill="#DE7634"/><rect x="570.0" y="496.8" width="5.0" height="5.0" fill="#DE7634"/><rect x="580.2" y="516.1" width="5.0" height="5.0" fill="#DE7634"/><rect x="590.3" y="496.1" width="5.0" height="5.0" fill="#DE7634"/><rect x="600.4" y="501.0" width="5.0" height="5.0" fill="#DE7634"/><rect x="610.6" y="506.9" width="5.0" height="5.0" fill="#DE7634"/><rect x="620.7" y="515.8" width="5.0" height="5.0" fill="#DE7634"/><rect x="630.9" y="514.7" width="5.0" height="5.0" fill="#DE7634"/><rect x="641.0" y="518.9" width="5.0" height="5.0" fill="#DE7634"/><rect x="651.1" y="525.1" width="5.0" height="5.0" fill="#DE7634"/><rect x="661.3" y="528.7" width="5.0" height="5.0" fill="#DE7634"/><rect x="671.4" y="536.7" width="5.0" height="5.0" fill="#DE7634"/><rect x="397.7" y="539.7" width="5.0" height="5.0" fill="#DE7634"/><rect x="407.8" y="591.0" width="5.0" height="5.0" fill="#DE7634"/><rect x="418.0" y="491.5" width="5.0" height="5.0" fill="#DE7634"/><rect x="428.1" y="501.2" width="5.0" height="5.0" fill="#DE7634"/><rect x="438.2" y="568.9" width="5.0" height="5.0" fill="#DE7634"/><rect x="448.4" y="558.9" width="5.0" height="5.0" fill="#DE7634"/><rect x="458.5" y="539.0" width="5.0" height="5.0" fill="#DE7634"/><rect x="468.7" y="488.1" width="5.0" height="5.0" fill="#DE7634"/><rect x="478.8" y="484.6" width="5.0" height="5.0" fill="#DE7634"/><rect x="488.9" y="479.9" width="5.0" height="5.0" fill="#DE7634"/><rect x="499.1" y="480.8" width="5.0" height="5.0" fill="#DE7634"/><rect x="509.2" y="497.5" width="5.0" height="5.0" fill="#DE7634"/><rect x="519.3" y="529.3" width="5.0" height="5.0" fill="#DE7634"/><rect x="529.5" y="484.7" width="5.0" height="5.0" fill="#DE7634"/><rect x="539.6" y="496.8" width="5.0" height="5.0" fill="#DE7634"/><rect x="549.8" y="493.8" width="5.0" height="5.0" fill="#DE7634"/><rect x="559.9" y="490.0" width="5.0" height="5.0" fill="#DE7634"/><rect x="570.0" y="496.6" width="5.0" height="5.0" fill="#DE7634"/><rect x="580.2" y="515.4" width="5.0" height="5.0" fill="#DE7634"/><rect x="590.3" y="497.0" width="5.0" height="5.0" fill="#DE7634"/><rect x="600.4" y="501.4" width="5.0" height="5.0" fill="#DE7634"/><rect x="610.6" y="506.6" width="5.0" height="5.0" fill="#DE7634"/><rect x="620.7" y="514.7" width="5.0" height="5.0" fill="#DE7634"/><rect x="630.9" y="514.2" width="5.0" height="5.0" fill="#DE7634"/><rect x="641.0" y="518.2" width="5.0" height="5.0" fill="#DE7634"/><rect x="651.1" y="524.0" width="5.0" height="5.0" fill="#DE7634"/><rect x="661.3" y="528.1" width="5.0" height="5.0" fill="#DE7634"/><rect x="671.4" y="537.6" width="5.0" height="5.0" fill="#DE7634"/><rect x="397.7" y="549.8" width="5.0" height="5.0" fill="#DE7634"/><rect x="407.8" y="588.0" width="5.0" height="5.0" fill="#DE7634"/><rect x="418.0" y="491.4" width="5.0" height="5.0" fill="#DE7634"/><rect x="428.1" y="504.5" width="5.0" height="5.0" fill="#DE7634"/><rect x="438.2" y="573.2" width="5.0" height="5.0" fill="#DE7634"/><rect x="448.4" y="559.4" width="5.0" height="5.0" fill="#DE7634"/><rect x="458.5" y="540.0" width="5.0" height="5.0" fill="#DE7634"/><rect x="468.7" y="491.5" width="5.0" height="5.0" fill="#DE7634"/><rect x="478.8" y="485.4" width="5.0" height="5.0" fill="#DE7634"/><rect x="488.9" y="480.4" width="5.0" height="5.0" fill="#DE7634"/><rect x="499.1" y="483.5" width="5.0" height="5.0" fill="#DE7634"/><rect x="509.2" y="499.5" width="5.0" height="5.0" fill="#DE7634"/><rect x="519.3" y="534.5" width="5.0" height="5.0" fill="#DE7634"/><rect x="529.5" y="485.8" width="5.0" height="5.0" fill="#DE7634"/><rect x="539.6" y="498.5" width="5.0" height="5.0" fill="#DE7634"/><rect x="549.8" y="494.3" width="5.0" height="5.0" fill="#DE7634"/><rect x="559.9" y="489.5" width="5.0" height="5.0" fill="#DE7634"/><rect x="570.0" y="497.5" width="5.0" height="5.0" fill="#DE7634"/><rect x="580.2" y="516.9" width="5.0" height="5.0" fill="#DE7634"/><rect x="590.3" y="497.5" width="5.0" height="5.0" fill="#DE7634"/><rect x="600.4" y="502.1" width="5.0" height="5.0" fill="#DE7634"/><rect x="610.6" y="508.5" width="5.0" height="5.0" fill="#DE7634"/><rect x="620.7" y="515.3" width="5.0" height="5.0" fill="#DE7634"/><rect x="630.9" y="515.4" width="5.0" height="5.0" fill="#DE7634"/><rect x="641.0" y="518.6" width="5.0" height="5.0" fill="#DE7634"/><rect x="651.1" y="524.6" width="5.0" height="5.0" fill="#DE7634"/><rect x="661.3" y="529.5" width="5.0" height="5.0" fill="#DE7634"/><rect x="671.4" y="537.1" width="5.0" height="5.0" fill="#DE7634"/><circle cx="400.2" cy="510.0" r="2.6" fill="#DE7634"/><circle cx="410.3" cy="540.0" r="2.6" fill="#DE7634"/><circle cx="420.5" cy="482.4" r="2.6" fill="#DE7634"/><circle cx="430.6" cy="492.0" r="2.6" fill="#DE7634"/><circle cx="440.7" cy="531.7" r="2.6" fill="#DE7634"/><circle cx="450.9" cy="505.0" r="2.6" fill="#DE7634"/><circle cx="461.0" cy="520.1" r="2.6" fill="#DE7634"/><circle cx="471.2" cy="477.2" r="2.6" fill="#DE7634"/><circle cx="481.3" cy="476.1" r="2.6" fill="#DE7634"/><circle cx="491.4" cy="479.3" r="2.6" fill="#DE7634"/><circle cx="501.6" cy="480.1" r="2.6" fill="#DE7634"/><circle cx="511.7" cy="495.0" r="2.6" fill="#DE7634"/><circle cx="521.8" cy="515.0" r="2.6" fill="#DE7634"/><circle cx="532.0" cy="484.6" r="2.6" fill="#DE7634"/><circle cx="542.1" cy="492.0" r="2.6" fill="#DE7634"/><circle cx="552.3" cy="492.0" r="2.6" fill="#DE7634"/><circle cx="562.4" cy="487.6" r="2.6" fill="#DE7634"/><circle cx="572.5" cy="494.9" r="2.6" fill="#DE7634"/><circle cx="582.7" cy="506.7" r="2.6" fill="#DE7634"/><circle cx="592.8" cy="495.1" r="2.6" fill="#DE7634"/><circle cx="602.9" cy="499.0" r="2.6" fill="#DE7634"/><circle cx="613.1" cy="500.0" r="2.6" fill="#DE7634"/><circle cx="623.2" cy="507.0" r="2.6" fill="#DE7634"/><circle cx="633.4" cy="506.7" r="2.6" fill="#DE7634"/><circle cx="643.5" cy="510.0" r="2.6" fill="#DE7634"/><circle cx="653.6" cy="513.0" r="2.6" fill="#DE7634"/><circle cx="663.8" cy="516.0" r="2.6" fill="#DE7634"/><circle cx="673.9" cy="517.0" r="2.6" fill="#DE7634"/><circle cx="400.2" cy="511.9" r="2.6" fill="#DE7634"/><circle cx="410.3" cy="541.5" r="2.6" fill="#DE7634"/><circle cx="420.5" cy="482.0" r="2.6" fill="#DE7634"/><circle cx="430.6" cy="496.7" r="2.6" fill="#DE7634"/><circle cx="440.7" cy="531.4" r="2.6" fill="#DE7634"/><circle cx="450.9" cy="513.3" r="2.6" fill="#DE7634"/><circle cx="461.0" cy="524.5" r="2.6" fill="#DE7634"/><circle cx="471.2" cy="478.8" r="2.6" fill="#DE7634"/><circle cx="481.3" cy="479.0" r="2.6" fill="#DE7634"/><circle cx="491.4" cy="480.4" r="2.6" fill="#DE7634"/><circle cx="501.6" cy="480.8" r="2.6" fill="#DE7634"/><circle cx="511.7" cy="495.6" r="2.6" fill="#DE7634"/><circle cx="521.8" cy="517.3" r="2.6" fill="#DE7634"/><circle cx="532.0" cy="484.7" r="2.6" fill="#DE7634"/><circle cx="542.1" cy="493.7" r="2.6" fill="#DE7634"/><circle cx="552.3" cy="494.5" r="2.6" fill="#DE7634"/><circle cx="562.4" cy="488.1" r="2.6" fill="#DE7634"/><circle cx="572.5" cy="494.2" r="2.6" fill="#DE7634"/><circle cx="582.7" cy="507.5" r="2.6" fill="#DE7634"/><circle cx="592.8" cy="496.1" r="2.6" fill="#DE7634"/><circle cx="602.9" cy="500.2" r="2.6" fill="#DE7634"/><circle cx="613.1" cy="502.2" r="2.6" fill="#DE7634"/><circle cx="623.2" cy="507.1" r="2.6" fill="#DE7634"/><circle cx="633.4" cy="506.1" r="2.6" fill="#DE7634"/><circle cx="643.5" cy="510.7" r="2.6" fill="#DE7634"/><circle cx="653.6" cy="513.1" r="2.6" fill="#DE7634"/><circle cx="663.8" cy="516.3" r="2.6" fill="#DE7634"/><circle cx="673.9" cy="517.4" r="2.6" fill="#DE7634"/><circle cx="400.2" cy="513.9" r="2.6" fill="#DE7634"/><circle cx="410.3" cy="545.9" r="2.6" fill="#DE7634"/><circle cx="420.5" cy="490.1" r="2.6" fill="#DE7634"/><circle cx="430.6" cy="499.1" r="2.6" fill="#DE7634"/><circle cx="440.7" cy="542.7" r="2.6" fill="#DE7634"/><circle cx="450.9" cy="517.3" r="2.6" fill="#DE7634"/><circle cx="461.0" cy="530.1" r="2.6" fill="#DE7634"/><circle cx="471.2" cy="485.4" r="2.6" fill="#DE7634"/><circle cx="481.3" cy="482.8" r="2.6" fill="#DE7634"/><circle cx="491.4" cy="481.8" r="2.6" fill="#DE7634"/><circle cx="501.6" cy="482.7" r="2.6" fill="#DE7634"/><circle cx="511.7" cy="497.4" r="2.6" fill="#DE7634"/><circle cx="521.8" cy="522.2" r="2.6" fill="#DE7634"/><circle cx="532.0" cy="487.6" r="2.6" fill="#DE7634"/><circle cx="542.1" cy="495.7" r="2.6" fill="#DE7634"/><circle cx="552.3" cy="496.0" r="2.6" fill="#DE7634"/><circle cx="562.4" cy="490.1" r="2.6" fill="#DE7634"/><circle cx="572.5" cy="497.3" r="2.6" fill="#DE7634"/><circle cx="582.7" cy="512.8" r="2.6" fill="#DE7634"/><circle cx="592.8" cy="497.5" r="2.6" fill="#DE7634"/><circle cx="602.9" cy="501.2" r="2.6" fill="#DE7634"/><circle cx="613.1" cy="502.9" r="2.6" fill="#DE7634"/><circle cx="623.2" cy="507.7" r="2.6" fill="#DE7634"/><circle cx="633.4" cy="507.1" r="2.6" fill="#DE7634"/><circle cx="643.5" cy="511.7" r="2.6" fill="#DE7634"/><circle cx="653.6" cy="514.3" r="2.6" fill="#DE7634"/><circle cx="663.8" cy="517.7" r="2.6" fill="#DE7634"/><circle cx="673.9" cy="518.5" r="2.6" fill="#DE7634"/><circle cx="400.2" cy="520.0" r="2.6" fill="#DE7634"/><circle cx="410.3" cy="556.0" r="2.6" fill="#DE7634"/><circle cx="420.5" cy="491.4" r="2.6" fill="#DE7634"/><circle cx="430.6" cy="499.6" r="2.6" fill="#DE7634"/><circle cx="440.7" cy="543.2" r="2.6" fill="#DE7634"/><circle cx="450.9" cy="521.1" r="2.6" fill="#DE7634"/><circle cx="461.0" cy="530.8" r="2.6" fill="#DE7634"/><circle cx="471.2" cy="484.9" r="2.6" fill="#DE7634"/><circle cx="481.3" cy="486.0" r="2.6" fill="#DE7634"/><circle cx="491.4" cy="484.0" r="2.6" fill="#DE7634"/><circle cx="501.6" cy="484.0" r="2.6" fill="#DE7634"/><circle cx="511.7" cy="500.0" r="2.6" fill="#DE7634"/><circle cx="521.8" cy="528.0" r="2.6" fill="#DE7634"/><circle cx="532.0" cy="488.8" r="2.6" fill="#DE7634"/><circle cx="542.1" cy="500.0" r="2.6" fill="#DE7634"/><circle cx="552.3" cy="496.5" r="2.6" fill="#DE7634"/><circle cx="562.4" cy="492.0" r="2.6" fill="#DE7634"/><circle cx="572.5" cy="497.7" r="2.6" fill="#DE7634"/><circle cx="582.7" cy="515.0" r="2.6" fill="#DE7634"/><circle cx="592.8" cy="498.1" r="2.6" fill="#DE7634"/><circle cx="602.9" cy="502.6" r="2.6" fill="#DE7634"/><circle cx="613.1" cy="506.0" r="2.6" fill="#DE7634"/><circle cx="623.2" cy="509.0" r="2.6" fill="#DE7634"/><circle cx="633.4" cy="509.0" r="2.6" fill="#DE7634"/><circle cx="643.5" cy="512.0" r="2.6" fill="#DE7634"/><circle cx="653.6" cy="514.8" r="2.6" fill="#DE7634"/><circle cx="663.8" cy="517.6" r="2.6" fill="#DE7634"/><circle cx="673.9" cy="518.8" r="2.6" fill="#DE7634"/><rect x="397.7" y="489.5" width="5.0" height="5.0" fill="#DE7634"/><rect x="407.8" y="509.5" width="5.0" height="5.0" fill="#DE7634"/><rect x="418.0" y="476.6" width="5.0" height="5.0" fill="#DE7634"/><rect x="428.1" y="485.5" width="5.0" height="5.0" fill="#DE7634"/><rect x="438.2" y="518.5" width="5.0" height="5.0" fill="#DE7634"/><rect x="448.4" y="491.5" width="5.0" height="5.0" fill="#DE7634"/><rect x="458.5" y="510.5" width="5.0" height="5.0" fill="#DE7634"/><rect x="468.7" y="463.5" width="5.0" height="5.0" fill="#DE7634"/><rect x="478.8" y="467.3" width="5.0" height="5.0" fill="#DE7634"/><rect x="488.9" y="472.0" width="5.0" height="5.0" fill="#DE7634"/><rect x="499.1" y="472.5" width="5.0" height="5.0" fill="#DE7634"/><rect x="509.2" y="490.6" width="5.0" height="5.0" fill="#DE7634"/><rect x="519.3" y="507.5" width="5.0" height="5.0" fill="#DE7634"/><rect x="529.5" y="479.5" width="5.0" height="5.0" fill="#DE7634"/><rect x="539.6" y="475.7" width="5.0" height="5.0" fill="#DE7634"/><rect x="549.8" y="473.5" width="5.0" height="5.0" fill="#DE7634"/><rect x="559.9" y="480.5" width="5.0" height="5.0" fill="#DE7634"/><rect x="570.0" y="488.4" width="5.0" height="5.0" fill="#DE7634"/><rect x="580.2" y="495.5" width="5.0" height="5.0" fill="#DE7634"/><rect x="590.3" y="488.5" width="5.0" height="5.0" fill="#DE7634"/><rect x="600.4" y="492.5" width="5.0" height="5.0" fill="#DE7634"/><rect x="610.6" y="490.5" width="5.0" height="5.0" fill="#DE7634"/><rect x="620.7" y="489.2" width="5.0" height="5.0" fill="#DE7634"/><rect x="630.9" y="488.5" width="5.0" height="5.0" fill="#DE7634"/><rect x="641.0" y="489.5" width="5.0" height="5.0" fill="#DE7634"/><rect x="651.1" y="490.6" width="5.0" height="5.0" fill="#DE7634"/><rect x="661.3" y="491.6" width="5.0" height="5.0" fill="#DE7634"/><rect x="671.4" y="491.2" width="5.0" height="5.0" fill="#DE7634"/><rect x="397.7" y="492.0" width="5.0" height="5.0" fill="#DE7634"/><rect x="407.8" y="513.8" width="5.0" height="5.0" fill="#DE7634"/><rect x="418.0" y="482.2" width="5.0" height="5.0" fill="#DE7634"/><rect x="428.1" y="493.1" width="5.0" height="5.0" fill="#DE7634"/><rect x="438.2" y="520.6" width="5.0" height="5.0" fill="#DE7634"/><rect x="448.4" y="495.5" width="5.0" height="5.0" fill="#DE7634"/><rect x="458.5" y="514.1" width="5.0" height="5.0" fill="#DE7634"/><rect x="468.7" y="466.3" width="5.0" height="5.0" fill="#DE7634"/><rect x="478.8" y="468.2" width="5.0" height="5.0" fill="#DE7634"/><rect x="488.9" y="474.7" width="5.0" height="5.0" fill="#DE7634"/><rect x="499.1" y="475.0" width="5.0" height="5.0" fill="#DE7634"/><rect x="509.2" y="491.4" width="5.0" height="5.0" fill="#DE7634"/><rect x="519.3" y="510.2" width="5.0" height="5.0" fill="#DE7634"/><rect x="529.5" y="480.5" width="5.0" height="5.0" fill="#DE7634"/><rect x="539.6" y="475.3" width="5.0" height="5.0" fill="#DE7634"/><rect x="549.8" y="475.0" width="5.0" height="5.0" fill="#DE7634"/><rect x="559.9" y="481.7" width="5.0" height="5.0" fill="#DE7634"/><rect x="570.0" y="488.8" width="5.0" height="5.0" fill="#DE7634"/><rect x="580.2" y="498.3" width="5.0" height="5.0" fill="#DE7634"/><rect x="590.3" y="490.7" width="5.0" height="5.0" fill="#DE7634"/><rect x="600.4" y="495.0" width="5.0" height="5.0" fill="#DE7634"/><rect x="610.6" y="493.0" width="5.0" height="5.0" fill="#DE7634"/><rect x="620.7" y="490.4" width="5.0" height="5.0" fill="#DE7634"/><rect x="630.9" y="490.1" width="5.0" height="5.0" fill="#DE7634"/><rect x="641.0" y="490.4" width="5.0" height="5.0" fill="#DE7634"/><rect x="651.1" y="491.2" width="5.0" height="5.0" fill="#DE7634"/><rect x="661.3" y="492.8" width="5.0" height="5.0" fill="#DE7634"/><rect x="671.4" y="491.7" width="5.0" height="5.0" fill="#DE7634"/><rect x="397.7" y="493.4" width="5.0" height="5.0" fill="#DE7634"/><rect x="407.8" y="519.2" width="5.0" height="5.0" fill="#DE7634"/><rect x="418.0" y="486.4" width="5.0" height="5.0" fill="#DE7634"/><rect x="428.1" y="494.4" width="5.0" height="5.0" fill="#DE7634"/><rect x="438.2" y="529.6" width="5.0" height="5.0" fill="#DE7634"/><rect x="448.4" y="495.4" width="5.0" height="5.0" fill="#DE7634"/><rect x="458.5" y="514.7" width="5.0" height="5.0" fill="#DE7634"/><rect x="468.7" y="468.9" width="5.0" height="5.0" fill="#DE7634"/><rect x="478.8" y="471.9" width="5.0" height="5.0" fill="#DE7634"/><rect x="488.9" y="477.1" width="5.0" height="5.0" fill="#DE7634"/><rect x="499.1" y="475.2" width="5.0" height="5.0" fill="#DE7634"/><rect x="509.2" y="493.2" width="5.0" height="5.0" fill="#DE7634"/><rect x="519.3" y="512.6" width="5.0" height="5.0" fill="#DE7634"/><rect x="529.5" y="482.2" width="5.0" height="5.0" fill="#DE7634"/><rect x="539.6" y="478.7" width="5.0" height="5.0" fill="#DE7634"/><rect x="549.8" y="477.1" width="5.0" height="5.0" fill="#DE7634"/><rect x="559.9" y="482.5" width="5.0" height="5.0" fill="#DE7634"/><rect x="570.0" y="489.5" width="5.0" height="5.0" fill="#DE7634"/><rect x="580.2" y="501.1" width="5.0" height="5.0" fill="#DE7634"/><rect x="590.3" y="490.5" width="5.0" height="5.0" fill="#DE7634"/><rect x="600.4" y="494.7" width="5.0" height="5.0" fill="#DE7634"/><rect x="610.6" y="492.9" width="5.0" height="5.0" fill="#DE7634"/><rect x="620.7" y="490.9" width="5.0" height="5.0" fill="#DE7634"/><rect x="630.9" y="491.1" width="5.0" height="5.0" fill="#DE7634"/><rect x="641.0" y="491.5" width="5.0" height="5.0" fill="#DE7634"/><rect x="651.1" y="492.6" width="5.0" height="5.0" fill="#DE7634"/><rect x="661.3" y="494.0" width="5.0" height="5.0" fill="#DE7634"/><rect x="671.4" y="492.3" width="5.0" height="5.0" fill="#DE7634"/><rect x="397.7" y="497.5" width="5.0" height="5.0" fill="#DE7634"/><rect x="407.8" y="527.5" width="5.0" height="5.0" fill="#DE7634"/><rect x="418.0" y="484.5" width="5.0" height="5.0" fill="#DE7634"/><rect x="428.1" y="494.9" width="5.0" height="5.0" fill="#DE7634"/><rect x="438.2" y="529.7" width="5.0" height="5.0" fill="#DE7634"/><rect x="448.4" y="499.5" width="5.0" height="5.0" fill="#DE7634"/><rect x="458.5" y="517.5" width="5.0" height="5.0" fill="#DE7634"/><rect x="468.7" y="469.5" width="5.0" height="5.0" fill="#DE7634"/><rect x="478.8" y="473.5" width="5.0" height="5.0" fill="#DE7634"/><rect x="488.9" y="476.6" width="5.0" height="5.0" fill="#DE7634"/><rect x="499.1" y="477.5" width="5.0" height="5.0" fill="#DE7634"/><rect x="509.2" y="494.5" width="5.0" height="5.0" fill="#DE7634"/><rect x="519.3" y="512.9" width="5.0" height="5.0" fill="#DE7634"/><rect x="529.5" y="482.4" width="5.0" height="5.0" fill="#DE7634"/><rect x="539.6" y="479.1" width="5.0" height="5.0" fill="#DE7634"/><rect x="549.8" y="477.9" width="5.0" height="5.0" fill="#DE7634"/><rect x="559.9" y="483.8" width="5.0" height="5.0" fill="#DE7634"/><rect x="570.0" y="490.5" width="5.0" height="5.0" fill="#DE7634"/><rect x="580.2" y="500.3" width="5.0" height="5.0" fill="#DE7634"/><rect x="590.3" y="492.5" width="5.0" height="5.0" fill="#DE7634"/><rect x="600.4" y="495.5" width="5.0" height="5.0" fill="#DE7634"/><rect x="610.6" y="494.5" width="5.0" height="5.0" fill="#DE7634"/><rect x="620.7" y="491.0" width="5.0" height="5.0" fill="#DE7634"/><rect x="630.9" y="491.0" width="5.0" height="5.0" fill="#DE7634"/><rect x="641.0" y="492.5" width="5.0" height="5.0" fill="#DE7634"/><rect x="651.1" y="493.1" width="5.0" height="5.0" fill="#DE7634"/><rect x="661.3" y="494.0" width="5.0" height="5.0" fill="#DE7634"/><rect x="671.4" y="493.4" width="5.0" height="5.0" fill="#DE7634"/><circle cx="400.2" cy="464.5" r="2.7" fill="#43B75B"/><circle cx="410.3" cy="482.0" r="2.7" fill="#43B75B"/><circle cx="420.5" cy="464.6" r="2.7" fill="#43B75B"/><circle cx="430.6" cy="468.3" r="2.7" fill="#43B75B"/><circle cx="440.7" cy="502.8" r="2.7" fill="#43B75B"/><circle cx="450.9" cy="502.0" r="2.7" fill="#43B75B"/><circle cx="461.0" cy="481.0" r="2.7" fill="#43B75B"/><circle cx="471.2" cy="480.7" r="2.7" fill="#43B75B"/><circle cx="481.3" cy="475.2" r="2.7" fill="#43B75B"/><circle cx="491.4" cy="469.6" r="2.7" fill="#43B75B"/><circle cx="501.6" cy="473.8" r="2.7" fill="#43B75B"/><circle cx="511.7" cy="491.0" r="2.7" fill="#43B75B"/><circle cx="521.8" cy="501.2" r="2.7" fill="#43B75B"/><circle cx="532.0" cy="470.5" r="2.7" fill="#43B75B"/><circle cx="542.1" cy="491.5" r="2.7" fill="#43B75B"/><circle cx="552.3" cy="488.1" r="2.7" fill="#43B75B"/><circle cx="562.4" cy="471.3" r="2.7" fill="#43B75B"/><circle cx="572.5" cy="480.6" r="2.7" fill="#43B75B"/><circle cx="582.7" cy="499.7" r="2.7" fill="#43B75B"/><circle cx="592.8" cy="480.0" r="2.7" fill="#43B75B"/><circle cx="602.9" cy="487.5" r="2.7" fill="#43B75B"/><circle cx="613.1" cy="490.5" r="2.7" fill="#43B75B"/><circle cx="623.2" cy="495.8" r="2.7" fill="#43B75B"/><circle cx="633.4" cy="495.5" r="2.7" fill="#43B75B"/><circle cx="643.5" cy="496.5" r="2.7" fill="#43B75B"/><circle cx="653.6" cy="500.2" r="2.7" fill="#43B75B"/><circle cx="663.8" cy="501.0" r="2.7" fill="#43B75B"/><circle cx="673.9" cy="501.0" r="2.7" fill="#43B75B"/><circle cx="400.2" cy="464.5" r="2.7" fill="#43B75B"/><circle cx="410.3" cy="497.9" r="2.7" fill="#43B75B"/><circle cx="420.5" cy="463.5" r="2.7" fill="#43B75B"/><circle cx="430.6" cy="477.9" r="2.7" fill="#43B75B"/><circle cx="440.7" cy="499.0" r="2.7" fill="#43B75B"/><circle cx="450.9" cy="500.5" r="2.7" fill="#43B75B"/><circle cx="461.0" cy="487.2" r="2.7" fill="#43B75B"/><circle cx="471.2" cy="480.9" r="2.7" fill="#43B75B"/><circle cx="481.3" cy="474.9" r="2.7" fill="#43B75B"/><circle cx="491.4" cy="472.0" r="2.7" fill="#43B75B"/><circle cx="501.6" cy="475.0" r="2.7" fill="#43B75B"/><circle cx="511.7" cy="489.8" r="2.7" fill="#43B75B"/><circle cx="521.8" cy="501.2" r="2.7" fill="#43B75B"/><circle cx="532.0" cy="471.7" r="2.7" fill="#43B75B"/><circle cx="542.1" cy="491.8" r="2.7" fill="#43B75B"/><circle cx="552.3" cy="488.5" r="2.7" fill="#43B75B"/><circle cx="562.4" cy="471.9" r="2.7" fill="#43B75B"/><circle cx="572.5" cy="480.2" r="2.7" fill="#43B75B"/><circle cx="582.7" cy="499.3" r="2.7" fill="#43B75B"/><circle cx="592.8" cy="480.0" r="2.7" fill="#43B75B"/><circle cx="602.9" cy="486.7" r="2.7" fill="#43B75B"/><circle cx="613.1" cy="491.9" r="2.7" fill="#43B75B"/><circle cx="623.2" cy="494.4" r="2.7" fill="#43B75B"/><circle cx="633.4" cy="495.8" r="2.7" fill="#43B75B"/><circle cx="643.5" cy="497.1" r="2.7" fill="#43B75B"/><circle cx="653.6" cy="501.5" r="2.7" fill="#43B75B"/><circle cx="663.8" cy="501.3" r="2.7" fill="#43B75B"/><circle cx="673.9" cy="501.0" r="2.7" fill="#43B75B"/><circle cx="400.2" cy="464.5" r="2.7" fill="#43B75B"/><circle cx="410.3" cy="482.0" r="2.7" fill="#43B75B"/><circle cx="420.5" cy="465.0" r="2.7" fill="#43B75B"/><circle cx="430.6" cy="474.8" r="2.7" fill="#43B75B"/><circle cx="440.7" cy="505.4" r="2.7" fill="#43B75B"/><circle cx="450.9" cy="500.5" r="2.7" fill="#43B75B"/><circle cx="461.0" cy="486.4" r="2.7" fill="#43B75B"/><circle cx="471.2" cy="479.3" r="2.7" fill="#43B75B"/><circle cx="481.3" cy="476.8" r="2.7" fill="#43B75B"/><circle cx="491.4" cy="469.2" r="2.7" fill="#43B75B"/><circle cx="501.6" cy="474.4" r="2.7" fill="#43B75B"/><circle cx="511.7" cy="490.5" r="2.7" fill="#43B75B"/><circle cx="521.8" cy="501.2" r="2.7" fill="#43B75B"/><circle cx="532.0" cy="472.0" r="2.7" fill="#43B75B"/><circle cx="542.1" cy="493.9" r="2.7" fill="#43B75B"/><circle cx="552.3" cy="487.2" r="2.7" fill="#43B75B"/><circle cx="562.4" cy="471.4" r="2.7" fill="#43B75B"/><circle cx="572.5" cy="481.3" r="2.7" fill="#43B75B"/><circle cx="582.7" cy="500.2" r="2.7" fill="#43B75B"/><circle cx="592.8" cy="480.0" r="2.7" fill="#43B75B"/><circle cx="602.9" cy="486.3" r="2.7" fill="#43B75B"/><circle cx="613.1" cy="492.5" r="2.7" fill="#43B75B"/><circle cx="623.2" cy="494.0" r="2.7" fill="#43B75B"/><circle cx="633.4" cy="494.0" r="2.7" fill="#43B75B"/><circle cx="643.5" cy="497.3" r="2.7" fill="#43B75B"/><circle cx="653.6" cy="499.3" r="2.7" fill="#43B75B"/><circle cx="663.8" cy="501.9" r="2.7" fill="#43B75B"/><circle cx="673.9" cy="501.0" r="2.7" fill="#43B75B"/><circle cx="400.2" cy="470.8" r="2.7" fill="#43B75B"/><circle cx="410.3" cy="504.8" r="2.7" fill="#43B75B"/><circle cx="420.5" cy="468.4" r="2.7" fill="#43B75B"/><circle cx="430.6" cy="478.3" r="2.7" fill="#43B75B"/><circle cx="440.7" cy="501.7" r="2.7" fill="#43B75B"/><circle cx="450.9" cy="503.0" r="2.7" fill="#43B75B"/><circle cx="461.0" cy="481.0" r="2.7" fill="#43B75B"/><circle cx="471.2" cy="479.9" r="2.7" fill="#43B75B"/><circle cx="481.3" cy="477.3" r="2.7" fill="#43B75B"/><circle cx="491.4" cy="467.0" r="2.7" fill="#43B75B"/><circle cx="501.6" cy="473.8" r="2.7" fill="#43B75B"/><circle cx="511.7" cy="491.6" r="2.7" fill="#43B75B"/><circle cx="521.8" cy="502.2" r="2.7" fill="#43B75B"/><circle cx="532.0" cy="471.4" r="2.7" fill="#43B75B"/><circle cx="542.1" cy="492.2" r="2.7" fill="#43B75B"/><circle cx="552.3" cy="489.6" r="2.7" fill="#43B75B"/><circle cx="562.4" cy="471.5" r="2.7" fill="#43B75B"/><circle cx="572.5" cy="483.8" r="2.7" fill="#43B75B"/><circle cx="582.7" cy="501.2" r="2.7" fill="#43B75B"/><circle cx="592.8" cy="483.1" r="2.7" fill="#43B75B"/><circle cx="602.9" cy="488.3" r="2.7" fill="#43B75B"/><circle cx="613.1" cy="492.0" r="2.7" fill="#43B75B"/><circle cx="623.2" cy="498.4" r="2.7" fill="#43B75B"/><circle cx="633.4" cy="497.7" r="2.7" fill="#43B75B"/><circle cx="643.5" cy="498.7" r="2.7" fill="#43B75B"/><circle cx="653.6" cy="499.3" r="2.7" fill="#43B75B"/><circle cx="663.8" cy="502.1" r="2.7" fill="#43B75B"/><circle cx="673.9" cy="504.9" r="2.7" fill="#43B75B"/><circle cx="400.2" cy="473.7" r="2.7" fill="#43B75B"/><circle cx="410.3" cy="498.2" r="2.7" fill="#43B75B"/><circle cx="420.5" cy="460.0" r="2.7" fill="#43B75B"/><circle cx="430.6" cy="478.3" r="2.7" fill="#43B75B"/><circle cx="440.7" cy="513.0" r="2.7" fill="#43B75B"/><circle cx="450.9" cy="500.5" r="2.7" fill="#43B75B"/><circle cx="461.0" cy="491.0" r="2.7" fill="#43B75B"/><circle cx="471.2" cy="482.6" r="2.7" fill="#43B75B"/><circle cx="481.3" cy="476.0" r="2.7" fill="#43B75B"/><circle cx="491.4" cy="472.7" r="2.7" fill="#43B75B"/><circle cx="501.6" cy="476.2" r="2.7" fill="#43B75B"/><circle cx="511.7" cy="492.8" r="2.7" fill="#43B75B"/><circle cx="521.8" cy="504.2" r="2.7" fill="#43B75B"/><circle cx="532.0" cy="470.8" r="2.7" fill="#43B75B"/><circle cx="542.1" cy="495.0" r="2.7" fill="#43B75B"/><circle cx="552.3" cy="489.4" r="2.7" fill="#43B75B"/><circle cx="562.4" cy="474.7" r="2.7" fill="#43B75B"/><circle cx="572.5" cy="483.3" r="2.7" fill="#43B75B"/><circle cx="582.7" cy="500.0" r="2.7" fill="#43B75B"/><circle cx="592.8" cy="482.5" r="2.7" fill="#43B75B"/><circle cx="602.9" cy="487.2" r="2.7" fill="#43B75B"/><circle cx="613.1" cy="493.1" r="2.7" fill="#43B75B"/><circle cx="623.2" cy="497.1" r="2.7" fill="#43B75B"/><circle cx="633.4" cy="494.7" r="2.7" fill="#43B75B"/><circle cx="643.5" cy="497.8" r="2.7" fill="#43B75B"/><circle cx="653.6" cy="501.4" r="2.7" fill="#43B75B"/><circle cx="663.8" cy="500.8" r="2.7" fill="#43B75B"/><circle cx="673.9" cy="501.5" r="2.7" fill="#43B75B"/><circle cx="400.2" cy="465.3" r="2.7" fill="#43B75B"/><circle cx="410.3" cy="495.1" r="2.7" fill="#43B75B"/><circle cx="420.5" cy="471.9" r="2.7" fill="#43B75B"/><circle cx="430.6" cy="480.7" r="2.7" fill="#43B75B"/><circle cx="440.7" cy="499.4" r="2.7" fill="#43B75B"/><circle cx="450.9" cy="523.3" r="2.7" fill="#43B75B"/><circle cx="461.0" cy="496.7" r="2.7" fill="#43B75B"/><circle cx="471.2" cy="483.5" r="2.7" fill="#43B75B"/><circle cx="481.3" cy="474.9" r="2.7" fill="#43B75B"/><circle cx="491.4" cy="473.8" r="2.7" fill="#43B75B"/><circle cx="501.6" cy="473.8" r="2.7" fill="#43B75B"/><circle cx="511.7" cy="492.6" r="2.7" fill="#43B75B"/><circle cx="521.8" cy="504.9" r="2.7" fill="#43B75B"/><circle cx="532.0" cy="471.7" r="2.7" fill="#43B75B"/><circle cx="542.1" cy="492.1" r="2.7" fill="#43B75B"/><circle cx="552.3" cy="490.6" r="2.7" fill="#43B75B"/><circle cx="562.4" cy="472.2" r="2.7" fill="#43B75B"/><circle cx="572.5" cy="483.4" r="2.7" fill="#43B75B"/><circle cx="582.7" cy="501.0" r="2.7" fill="#43B75B"/><circle cx="592.8" cy="480.6" r="2.7" fill="#43B75B"/><circle cx="602.9" cy="489.0" r="2.7" fill="#43B75B"/><circle cx="613.1" cy="492.3" r="2.7" fill="#43B75B"/><circle cx="623.2" cy="494.0" r="2.7" fill="#43B75B"/><circle cx="633.4" cy="497.6" r="2.7" fill="#43B75B"/><circle cx="643.5" cy="497.2" r="2.7" fill="#43B75B"/><circle cx="653.6" cy="499.3" r="2.7" fill="#43B75B"/><circle cx="663.8" cy="502.9" r="2.7" fill="#43B75B"/><circle cx="673.9" cy="504.2" r="2.7" fill="#43B75B"/><circle cx="400.2" cy="469.1" r="2.7" fill="#43B75B"/><circle cx="410.3" cy="497.9" r="2.7" fill="#43B75B"/><circle cx="420.5" cy="467.7" r="2.7" fill="#43B75B"/><circle cx="430.6" cy="479.5" r="2.7" fill="#43B75B"/><circle cx="440.7" cy="509.4" r="2.7" fill="#43B75B"/><circle cx="450.9" cy="517.8" r="2.7" fill="#43B75B"/><circle cx="461.0" cy="498.4" r="2.7" fill="#43B75B"/><circle cx="471.2" cy="480.7" r="2.7" fill="#43B75B"/><circle cx="481.3" cy="475.8" r="2.7" fill="#43B75B"/><circle cx="491.4" cy="471.9" r="2.7" fill="#43B75B"/><circle cx="501.6" cy="476.0" r="2.7" fill="#43B75B"/><circle cx="511.7" cy="492.9" r="2.7" fill="#43B75B"/><circle cx="521.8" cy="512.6" r="2.7" fill="#43B75B"/><circle cx="532.0" cy="472.2" r="2.7" fill="#43B75B"/><circle cx="542.1" cy="494.9" r="2.7" fill="#43B75B"/><circle cx="552.3" cy="487.8" r="2.7" fill="#43B75B"/><circle cx="562.4" cy="473.2" r="2.7" fill="#43B75B"/><circle cx="572.5" cy="480.4" r="2.7" fill="#43B75B"/><circle cx="582.7" cy="502.4" r="2.7" fill="#43B75B"/><circle cx="592.8" cy="485.1" r="2.7" fill="#43B75B"/><circle cx="602.9" cy="489.4" r="2.7" fill="#43B75B"/><circle cx="613.1" cy="493.4" r="2.7" fill="#43B75B"/><circle cx="623.2" cy="496.0" r="2.7" fill="#43B75B"/><circle cx="633.4" cy="497.7" r="2.7" fill="#43B75B"/><circle cx="643.5" cy="496.9" r="2.7" fill="#43B75B"/><circle cx="653.6" cy="501.0" r="2.7" fill="#43B75B"/><circle cx="663.8" cy="501.6" r="2.7" fill="#43B75B"/><circle cx="673.9" cy="505.1" r="2.7" fill="#43B75B"/><circle cx="400.2" cy="469.1" r="2.7" fill="#43B75B"/><circle cx="410.3" cy="486.3" r="2.7" fill="#43B75B"/><circle cx="420.5" cy="471.8" r="2.7" fill="#43B75B"/><circle cx="430.6" cy="473.5" r="2.7" fill="#43B75B"/><circle cx="440.7" cy="518.1" r="2.7" fill="#43B75B"/><circle cx="450.9" cy="511.3" r="2.7" fill="#43B75B"/><circle cx="461.0" cy="501.7" r="2.7" fill="#43B75B"/><circle cx="471.2" cy="480.9" r="2.7" fill="#43B75B"/><circle cx="481.3" cy="478.8" r="2.7" fill="#43B75B"/><circle cx="491.4" cy="476.7" r="2.7" fill="#43B75B"/><circle cx="501.6" cy="476.6" r="2.7" fill="#43B75B"/><circle cx="511.7" cy="492.6" r="2.7" fill="#43B75B"/><circle cx="521.8" cy="513.5" r="2.7" fill="#43B75B"/><circle cx="532.0" cy="474.1" r="2.7" fill="#43B75B"/><circle cx="542.1" cy="496.1" r="2.7" fill="#43B75B"/><circle cx="552.3" cy="488.6" r="2.7" fill="#43B75B"/><circle cx="562.4" cy="475.4" r="2.7" fill="#43B75B"/><circle cx="572.5" cy="483.5" r="2.7" fill="#43B75B"/><circle cx="582.7" cy="500.8" r="2.7" fill="#43B75B"/><circle cx="592.8" cy="481.1" r="2.7" fill="#43B75B"/><circle cx="602.9" cy="490.5" r="2.7" fill="#43B75B"/><circle cx="613.1" cy="492.5" r="2.7" fill="#43B75B"/><circle cx="623.2" cy="496.9" r="2.7" fill="#43B75B"/><circle cx="633.4" cy="498.3" r="2.7" fill="#43B75B"/><circle cx="643.5" cy="498.1" r="2.7" fill="#43B75B"/><circle cx="653.6" cy="500.6" r="2.7" fill="#43B75B"/><circle cx="663.8" cy="502.9" r="2.7" fill="#43B75B"/><circle cx="673.9" cy="503.7" r="2.7" fill="#43B75B"/><circle cx="400.2" cy="483.0" r="2.7" fill="#43B75B"/><circle cx="410.3" cy="512.9" r="2.7" fill="#43B75B"/><circle cx="420.5" cy="464.9" r="2.7" fill="#43B75B"/><circle cx="430.6" cy="484.3" r="2.7" fill="#43B75B"/><circle cx="440.7" cy="517.6" r="2.7" fill="#43B75B"/><circle cx="450.9" cy="521.0" r="2.7" fill="#43B75B"/><circle cx="461.0" cy="489.8" r="2.7" fill="#43B75B"/><circle cx="471.2" cy="484.6" r="2.7" fill="#43B75B"/><circle cx="481.3" cy="476.8" r="2.7" fill="#43B75B"/><circle cx="491.4" cy="471.1" r="2.7" fill="#43B75B"/><circle cx="501.6" cy="477.0" r="2.7" fill="#43B75B"/><circle cx="511.7" cy="491.5" r="2.7" fill="#43B75B"/><circle cx="521.8" cy="504.8" r="2.7" fill="#43B75B"/><circle cx="532.0" cy="474.3" r="2.7" fill="#43B75B"/><circle cx="542.1" cy="496.8" r="2.7" fill="#43B75B"/><circle cx="552.3" cy="489.2" r="2.7" fill="#43B75B"/><circle cx="562.4" cy="474.0" r="2.7" fill="#43B75B"/><circle cx="572.5" cy="483.0" r="2.7" fill="#43B75B"/><circle cx="582.7" cy="502.7" r="2.7" fill="#43B75B"/><circle cx="592.8" cy="481.0" r="2.7" fill="#43B75B"/><circle cx="602.9" cy="490.0" r="2.7" fill="#43B75B"/><circle cx="613.1" cy="492.0" r="2.7" fill="#43B75B"/><circle cx="623.2" cy="499.5" r="2.7" fill="#43B75B"/><circle cx="633.4" cy="496.7" r="2.7" fill="#43B75B"/><circle cx="643.5" cy="499.9" r="2.7" fill="#43B75B"/><circle cx="653.6" cy="501.9" r="2.7" fill="#43B75B"/><circle cx="663.8" cy="503.3" r="2.7" fill="#43B75B"/><circle cx="673.9" cy="502.0" r="2.7" fill="#43B75B"/><circle cx="400.2" cy="476.2" r="2.7" fill="#43B75B"/><circle cx="410.3" cy="499.8" r="2.7" fill="#43B75B"/><circle cx="420.5" cy="464.9" r="2.7" fill="#43B75B"/><circle cx="430.6" cy="478.8" r="2.7" fill="#43B75B"/><circle cx="440.7" cy="505.9" r="2.7" fill="#43B75B"/><circle cx="450.9" cy="524.3" r="2.7" fill="#43B75B"/><circle cx="461.0" cy="509.2" r="2.7" fill="#43B75B"/><circle cx="471.2" cy="486.3" r="2.7" fill="#43B75B"/><circle cx="481.3" cy="478.5" r="2.7" fill="#43B75B"/><circle cx="491.4" cy="478.6" r="2.7" fill="#43B75B"/><circle cx="501.6" cy="476.8" r="2.7" fill="#43B75B"/><circle cx="511.7" cy="493.1" r="2.7" fill="#43B75B"/><circle cx="521.8" cy="510.4" r="2.7" fill="#43B75B"/><circle cx="532.0" cy="471.8" r="2.7" fill="#43B75B"/><circle cx="542.1" cy="496.7" r="2.7" fill="#43B75B"/><circle cx="552.3" cy="491.9" r="2.7" fill="#43B75B"/><circle cx="562.4" cy="476.1" r="2.7" fill="#43B75B"/><circle cx="572.5" cy="483.9" r="2.7" fill="#43B75B"/><circle cx="582.7" cy="503.2" r="2.7" fill="#43B75B"/><circle cx="592.8" cy="486.0" r="2.7" fill="#43B75B"/><circle cx="602.9" cy="491.8" r="2.7" fill="#43B75B"/><circle cx="613.1" cy="494.3" r="2.7" fill="#43B75B"/><circle cx="623.2" cy="495.4" r="2.7" fill="#43B75B"/><circle cx="633.4" cy="499.4" r="2.7" fill="#43B75B"/><circle cx="643.5" cy="499.0" r="2.7" fill="#43B75B"/><circle cx="653.6" cy="502.2" r="2.7" fill="#43B75B"/><circle cx="663.8" cy="502.7" r="2.7" fill="#43B75B"/><circle cx="673.9" cy="503.4" r="2.7" fill="#43B75B"/><circle cx="400.2" cy="483.9" r="2.7" fill="#43B75B"/><circle cx="410.3" cy="508.0" r="2.7" fill="#43B75B"/><circle cx="420.5" cy="464.2" r="2.7" fill="#43B75B"/><circle cx="430.6" cy="488.2" r="2.7" fill="#43B75B"/><circle cx="440.7" cy="522.8" r="2.7" fill="#43B75B"/><circle cx="450.9" cy="534.1" r="2.7" fill="#43B75B"/><circle cx="461.0" cy="500.3" r="2.7" fill="#43B75B"/><circle cx="471.2" cy="483.6" r="2.7" fill="#43B75B"/><circle cx="481.3" cy="478.0" r="2.7" fill="#43B75B"/><circle cx="491.4" cy="473.3" r="2.7" fill="#43B75B"/><circle cx="501.6" cy="477.7" r="2.7" fill="#43B75B"/><circle cx="511.7" cy="494.3" r="2.7" fill="#43B75B"/><circle cx="521.8" cy="516.6" r="2.7" fill="#43B75B"/><circle cx="532.0" cy="473.5" r="2.7" fill="#43B75B"/><circle cx="542.1" cy="495.2" r="2.7" fill="#43B75B"/><circle cx="552.3" cy="491.2" r="2.7" fill="#43B75B"/><circle cx="562.4" cy="474.0" r="2.7" fill="#43B75B"/><circle cx="572.5" cy="482.0" r="2.7" fill="#43B75B"/><circle cx="582.7" cy="503.9" r="2.7" fill="#43B75B"/><circle cx="592.8" cy="482.8" r="2.7" fill="#43B75B"/><circle cx="602.9" cy="488.8" r="2.7" fill="#43B75B"/><circle cx="613.1" cy="493.4" r="2.7" fill="#43B75B"/><circle cx="623.2" cy="495.9" r="2.7" fill="#43B75B"/><circle cx="633.4" cy="497.7" r="2.7" fill="#43B75B"/><circle cx="643.5" cy="497.9" r="2.7" fill="#43B75B"/><circle cx="653.6" cy="503.9" r="2.7" fill="#43B75B"/><circle cx="663.8" cy="501.6" r="2.7" fill="#43B75B"/><circle cx="673.9" cy="506.0" r="2.7" fill="#43B75B"/><circle cx="400.2" cy="491.0" r="2.7" fill="#43B75B"/><circle cx="410.3" cy="518.0" r="2.7" fill="#43B75B"/><circle cx="420.5" cy="479.6" r="2.7" fill="#43B75B"/><circle cx="430.6" cy="478.2" r="2.7" fill="#43B75B"/><circle cx="440.7" cy="527.8" r="2.7" fill="#43B75B"/><circle cx="450.9" cy="518.4" r="2.7" fill="#43B75B"/><circle cx="461.0" cy="500.0" r="2.7" fill="#43B75B"/><circle cx="471.2" cy="482.3" r="2.7" fill="#43B75B"/><circle cx="481.3" cy="478.8" r="2.7" fill="#43B75B"/><circle cx="491.4" cy="472.2" r="2.7" fill="#43B75B"/><circle cx="501.6" cy="476.9" r="2.7" fill="#43B75B"/><circle cx="511.7" cy="494.9" r="2.7" fill="#43B75B"/><circle cx="521.8" cy="517.3" r="2.7" fill="#43B75B"/><circle cx="532.0" cy="474.6" r="2.7" fill="#43B75B"/><circle cx="542.1" cy="494.0" r="2.7" fill="#43B75B"/><circle cx="552.3" cy="493.1" r="2.7" fill="#43B75B"/><circle cx="562.4" cy="475.1" r="2.7" fill="#43B75B"/><circle cx="572.5" cy="485.8" r="2.7" fill="#43B75B"/><circle cx="582.7" cy="501.5" r="2.7" fill="#43B75B"/><circle cx="592.8" cy="483.8" r="2.7" fill="#43B75B"/><circle cx="602.9" cy="492.6" r="2.7" fill="#43B75B"/><circle cx="613.1" cy="495.0" r="2.7" fill="#43B75B"/><circle cx="623.2" cy="497.3" r="2.7" fill="#43B75B"/><circle cx="633.4" cy="498.2" r="2.7" fill="#43B75B"/><circle cx="643.5" cy="499.5" r="2.7" fill="#43B75B"/><circle cx="653.6" cy="502.3" r="2.7" fill="#43B75B"/><circle cx="663.8" cy="502.7" r="2.7" fill="#43B75B"/><circle cx="673.9" cy="503.5" r="2.7" fill="#43B75B"/><circle cx="400.2" cy="486.8" r="2.7" fill="#43B75B"/><circle cx="410.3" cy="510.1" r="2.7" fill="#43B75B"/><circle cx="420.5" cy="475.1" r="2.7" fill="#43B75B"/><circle cx="430.6" cy="484.1" r="2.7" fill="#43B75B"/><circle cx="440.7" cy="519.4" r="2.7" fill="#43B75B"/><circle cx="450.9" cy="541.0" r="2.7" fill="#43B75B"/><circle cx="461.0" cy="499.3" r="2.7" fill="#43B75B"/><circle cx="471.2" cy="483.9" r="2.7" fill="#43B75B"/><circle cx="481.3" cy="479.3" r="2.7" fill="#43B75B"/><circle cx="491.4" cy="475.7" r="2.7" fill="#43B75B"/><circle cx="501.6" cy="477.2" r="2.7" fill="#43B75B"/><circle cx="511.7" cy="495.3" r="2.7" fill="#43B75B"/><circle cx="521.8" cy="521.6" r="2.7" fill="#43B75B"/><circle cx="532.0" cy="475.8" r="2.7" fill="#43B75B"/><circle cx="542.1" cy="498.5" r="2.7" fill="#43B75B"/><circle cx="552.3" cy="490.7" r="2.7" fill="#43B75B"/><circle cx="562.4" cy="475.8" r="2.7" fill="#43B75B"/><circle cx="572.5" cy="483.1" r="2.7" fill="#43B75B"/><circle cx="582.7" cy="502.7" r="2.7" fill="#43B75B"/><circle cx="592.8" cy="484.5" r="2.7" fill="#43B75B"/><circle cx="602.9" cy="490.2" r="2.7" fill="#43B75B"/><circle cx="613.1" cy="494.1" r="2.7" fill="#43B75B"/><circle cx="623.2" cy="501.9" r="2.7" fill="#43B75B"/><circle cx="633.4" cy="499.2" r="2.7" fill="#43B75B"/><circle cx="643.5" cy="501.1" r="2.7" fill="#43B75B"/><circle cx="653.6" cy="504.1" r="2.7" fill="#43B75B"/><circle cx="663.8" cy="505.3" r="2.7" fill="#43B75B"/><circle cx="673.9" cy="507.0" r="2.7" fill="#43B75B"/><circle cx="400.2" cy="500.0" r="2.7" fill="#43B75B"/><circle cx="410.3" cy="520.5" r="2.7" fill="#43B75B"/><circle cx="420.5" cy="477.3" r="2.7" fill="#43B75B"/><circle cx="430.6" cy="484.2" r="2.7" fill="#43B75B"/><circle cx="440.7" cy="516.1" r="2.7" fill="#43B75B"/><circle cx="450.9" cy="534.9" r="2.7" fill="#43B75B"/><circle cx="461.0" cy="508.0" r="2.7" fill="#43B75B"/><circle cx="471.2" cy="484.9" r="2.7" fill="#43B75B"/><circle cx="481.3" cy="481.9" r="2.7" fill="#43B75B"/><circle cx="491.4" cy="474.3" r="2.7" fill="#43B75B"/><circle cx="501.6" cy="477.6" r="2.7" fill="#43B75B"/><circle cx="511.7" cy="493.5" r="2.7" fill="#43B75B"/><circle cx="521.8" cy="516.3" r="2.7" fill="#43B75B"/><circle cx="532.0" cy="476.4" r="2.7" fill="#43B75B"/><circle cx="542.1" cy="499.3" r="2.7" fill="#43B75B"/><circle cx="552.3" cy="491.9" r="2.7" fill="#43B75B"/><circle cx="562.4" cy="478.0" r="2.7" fill="#43B75B"/><circle cx="572.5" cy="486.8" r="2.7" fill="#43B75B"/><circle cx="582.7" cy="503.1" r="2.7" fill="#43B75B"/><circle cx="592.8" cy="485.8" r="2.7" fill="#43B75B"/><circle cx="602.9" cy="491.6" r="2.7" fill="#43B75B"/><circle cx="613.1" cy="496.4" r="2.7" fill="#43B75B"/><circle cx="623.2" cy="499.3" r="2.7" fill="#43B75B"/><circle cx="633.4" cy="501.5" r="2.7" fill="#43B75B"/><circle cx="643.5" cy="499.4" r="2.7" fill="#43B75B"/><circle cx="653.6" cy="505.2" r="2.7" fill="#43B75B"/><circle cx="663.8" cy="505.3" r="2.7" fill="#43B75B"/><circle cx="673.9" cy="504.6" r="2.7" fill="#43B75B"/><circle cx="400.2" cy="498.4" r="2.7" fill="#43B75B"/><circle cx="410.3" cy="515.3" r="2.7" fill="#43B75B"/><circle cx="420.5" cy="470.8" r="2.7" fill="#43B75B"/><circle cx="430.6" cy="488.5" r="2.7" fill="#43B75B"/><circle cx="440.7" cy="525.0" r="2.7" fill="#43B75B"/><circle cx="450.9" cy="536.4" r="2.7" fill="#43B75B"/><circle cx="461.0" cy="508.6" r="2.7" fill="#43B75B"/><circle cx="471.2" cy="490.0" r="2.7" fill="#43B75B"/><circle cx="481.3" cy="480.8" r="2.7" fill="#43B75B"/><circle cx="491.4" cy="478.4" r="2.7" fill="#43B75B"/><circle cx="501.6" cy="477.6" r="2.7" fill="#43B75B"/><circle cx="511.7" cy="495.4" r="2.7" fill="#43B75B"/><circle cx="521.8" cy="514.2" r="2.7" fill="#43B75B"/><circle cx="532.0" cy="475.1" r="2.7" fill="#43B75B"/><circle cx="542.1" cy="498.4" r="2.7" fill="#43B75B"/><circle cx="552.3" cy="490.7" r="2.7" fill="#43B75B"/><circle cx="562.4" cy="475.5" r="2.7" fill="#43B75B"/><circle cx="572.5" cy="483.4" r="2.7" fill="#43B75B"/><circle cx="582.7" cy="504.5" r="2.7" fill="#43B75B"/><circle cx="592.8" cy="487.8" r="2.7" fill="#43B75B"/><circle cx="602.9" cy="492.7" r="2.7" fill="#43B75B"/><circle cx="613.1" cy="495.6" r="2.7" fill="#43B75B"/><circle cx="623.2" cy="498.0" r="2.7" fill="#43B75B"/><circle cx="633.4" cy="499.1" r="2.7" fill="#43B75B"/><circle cx="643.5" cy="500.2" r="2.7" fill="#43B75B"/><circle cx="653.6" cy="503.9" r="2.7" fill="#43B75B"/><circle cx="663.8" cy="504.0" r="2.7" fill="#43B75B"/><circle cx="673.9" cy="506.2" r="2.7" fill="#43B75B"/><circle cx="400.2" cy="483.6" r="2.7" fill="#43B75B"/><circle cx="410.3" cy="521.9" r="2.7" fill="#43B75B"/><circle cx="420.5" cy="471.3" r="2.7" fill="#43B75B"/><circle cx="430.6" cy="489.0" r="2.7" fill="#43B75B"/><circle cx="440.7" cy="523.5" r="2.7" fill="#43B75B"/><circle cx="450.9" cy="548.0" r="2.7" fill="#43B75B"/><circle cx="461.0" cy="516.6" r="2.7" fill="#43B75B"/><circle cx="471.2" cy="487.4" r="2.7" fill="#43B75B"/><circle cx="481.3" cy="478.3" r="2.7" fill="#43B75B"/><circle cx="491.4" cy="481.5" r="2.7" fill="#43B75B"/><circle cx="501.6" cy="478.8" r="2.7" fill="#43B75B"/><circle cx="511.7" cy="495.2" r="2.7" fill="#43B75B"/><circle cx="521.8" cy="524.6" r="2.7" fill="#43B75B"/><circle cx="532.0" cy="475.4" r="2.7" fill="#43B75B"/><circle cx="542.1" cy="497.1" r="2.7" fill="#43B75B"/><circle cx="552.3" cy="492.8" r="2.7" fill="#43B75B"/><circle cx="562.4" cy="475.6" r="2.7" fill="#43B75B"/><circle cx="572.5" cy="486.0" r="2.7" fill="#43B75B"/><circle cx="582.7" cy="502.8" r="2.7" fill="#43B75B"/><circle cx="592.8" cy="487.5" r="2.7" fill="#43B75B"/><circle cx="602.9" cy="492.7" r="2.7" fill="#43B75B"/><circle cx="613.1" cy="496.1" r="2.7" fill="#43B75B"/><circle cx="623.2" cy="499.1" r="2.7" fill="#43B75B"/><circle cx="633.4" cy="501.0" r="2.7" fill="#43B75B"/><circle cx="643.5" cy="501.9" r="2.7" fill="#43B75B"/><circle cx="653.6" cy="506.8" r="2.7" fill="#43B75B"/><circle cx="663.8" cy="506.1" r="2.7" fill="#43B75B"/><circle cx="673.9" cy="505.5" r="2.7" fill="#43B75B"/><circle cx="400.2" cy="491.6" r="2.7" fill="#43B75B"/><circle cx="410.3" cy="538.5" r="2.7" fill="#43B75B"/><circle cx="420.5" cy="475.4" r="2.7" fill="#43B75B"/><circle cx="430.6" cy="486.5" r="2.7" fill="#43B75B"/><circle cx="440.7" cy="528.9" r="2.7" fill="#43B75B"/><circle cx="450.9" cy="534.7" r="2.7" fill="#43B75B"/><circle cx="461.0" cy="527.0" r="2.7" fill="#43B75B"/><circle cx="471.2" cy="491.8" r="2.7" fill="#43B75B"/><circle cx="481.3" cy="480.5" r="2.7" fill="#43B75B"/><circle cx="491.4" cy="485.5" r="2.7" fill="#43B75B"/><circle cx="501.6" cy="478.5" r="2.7" fill="#43B75B"/><circle cx="511.7" cy="496.8" r="2.7" fill="#43B75B"/><circle cx="521.8" cy="517.0" r="2.7" fill="#43B75B"/><circle cx="532.0" cy="477.8" r="2.7" fill="#43B75B"/><circle cx="542.1" cy="498.5" r="2.7" fill="#43B75B"/><circle cx="552.3" cy="492.7" r="2.7" fill="#43B75B"/><circle cx="562.4" cy="478.3" r="2.7" fill="#43B75B"/><circle cx="572.5" cy="484.6" r="2.7" fill="#43B75B"/><circle cx="582.7" cy="503.4" r="2.7" fill="#43B75B"/><circle cx="592.8" cy="487.9" r="2.7" fill="#43B75B"/><circle cx="602.9" cy="493.9" r="2.7" fill="#43B75B"/><circle cx="613.1" cy="497.8" r="2.7" fill="#43B75B"/><circle cx="623.2" cy="502.1" r="2.7" fill="#43B75B"/><circle cx="633.4" cy="500.5" r="2.7" fill="#43B75B"/><circle cx="643.5" cy="500.6" r="2.7" fill="#43B75B"/><circle cx="653.6" cy="503.9" r="2.7" fill="#43B75B"/><circle cx="663.8" cy="507.5" r="2.7" fill="#43B75B"/><circle cx="673.9" cy="509.2" r="2.7" fill="#43B75B"/><circle cx="400.2" cy="502.3" r="2.7" fill="#43B75B"/><circle cx="410.3" cy="531.0" r="2.7" fill="#43B75B"/><circle cx="420.5" cy="483.3" r="2.7" fill="#43B75B"/><circle cx="430.6" cy="492.8" r="2.7" fill="#43B75B"/><circle cx="440.7" cy="536.8" r="2.7" fill="#43B75B"/><circle cx="450.9" cy="557.1" r="2.7" fill="#43B75B"/><circle cx="461.0" cy="522.4" r="2.7" fill="#43B75B"/><circle cx="471.2" cy="487.0" r="2.7" fill="#43B75B"/><circle cx="481.3" cy="480.9" r="2.7" fill="#43B75B"/><circle cx="491.4" cy="482.8" r="2.7" fill="#43B75B"/><circle cx="501.6" cy="480.4" r="2.7" fill="#43B75B"/><circle cx="511.7" cy="495.5" r="2.7" fill="#43B75B"/><circle cx="521.8" cy="520.7" r="2.7" fill="#43B75B"/><circle cx="532.0" cy="474.6" r="2.7" fill="#43B75B"/><circle cx="542.1" cy="496.5" r="2.7" fill="#43B75B"/><circle cx="552.3" cy="492.5" r="2.7" fill="#43B75B"/><circle cx="562.4" cy="479.0" r="2.7" fill="#43B75B"/><circle cx="572.5" cy="485.2" r="2.7" fill="#43B75B"/><circle cx="582.7" cy="505.8" r="2.7" fill="#43B75B"/><circle cx="592.8" cy="488.3" r="2.7" fill="#43B75B"/><circle cx="602.9" cy="492.2" r="2.7" fill="#43B75B"/><circle cx="613.1" cy="496.2" r="2.7" fill="#43B75B"/><circle cx="623.2" cy="503.3" r="2.7" fill="#43B75B"/><circle cx="633.4" cy="498.8" r="2.7" fill="#43B75B"/><circle cx="643.5" cy="501.5" r="2.7" fill="#43B75B"/><circle cx="653.6" cy="506.7" r="2.7" fill="#43B75B"/><circle cx="663.8" cy="507.5" r="2.7" fill="#43B75B"/><circle cx="673.9" cy="507.3" r="2.7" fill="#43B75B"/><circle cx="400.2" cy="506.5" r="2.7" fill="#43B75B"/><circle cx="410.3" cy="526.1" r="2.7" fill="#43B75B"/><circle cx="420.5" cy="488.0" r="2.7" fill="#43B75B"/><circle cx="430.6" cy="501.5" r="2.7" fill="#43B75B"/><circle cx="440.7" cy="538.5" r="2.7" fill="#43B75B"/><circle cx="450.9" cy="548.6" r="2.7" fill="#43B75B"/><circle cx="461.0" cy="512.5" r="2.7" fill="#43B75B"/><circle cx="471.2" cy="490.4" r="2.7" fill="#43B75B"/><circle cx="481.3" cy="482.7" r="2.7" fill="#43B75B"/><circle cx="491.4" cy="485.7" r="2.7" fill="#43B75B"/><circle cx="501.6" cy="480.4" r="2.7" fill="#43B75B"/><circle cx="511.7" cy="496.4" r="2.7" fill="#43B75B"/><circle cx="521.8" cy="526.8" r="2.7" fill="#43B75B"/><circle cx="532.0" cy="477.8" r="2.7" fill="#43B75B"/><circle cx="542.1" cy="499.9" r="2.7" fill="#43B75B"/><circle cx="552.3" cy="493.4" r="2.7" fill="#43B75B"/><circle cx="562.4" cy="477.0" r="2.7" fill="#43B75B"/><circle cx="572.5" cy="487.6" r="2.7" fill="#43B75B"/><circle cx="582.7" cy="503.9" r="2.7" fill="#43B75B"/><circle cx="592.8" cy="488.0" r="2.7" fill="#43B75B"/><circle cx="602.9" cy="495.2" r="2.7" fill="#43B75B"/><circle cx="613.1" cy="496.0" r="2.7" fill="#43B75B"/><circle cx="623.2" cy="503.6" r="2.7" fill="#43B75B"/><circle cx="633.4" cy="503.0" r="2.7" fill="#43B75B"/><circle cx="643.5" cy="501.2" r="2.7" fill="#43B75B"/><circle cx="653.6" cy="506.9" r="2.7" fill="#43B75B"/><circle cx="663.8" cy="507.5" r="2.7" fill="#43B75B"/><circle cx="673.9" cy="510.0" r="2.7" fill="#43B75B"/><circle cx="400.2" cy="506.5" r="2.7" fill="#43B75B"/><circle cx="410.3" cy="536.5" r="2.7" fill="#43B75B"/><circle cx="420.5" cy="480.6" r="2.7" fill="#43B75B"/><circle cx="430.6" cy="501.5" r="2.7" fill="#43B75B"/><circle cx="440.7" cy="538.5" r="2.7" fill="#43B75B"/><circle cx="450.9" cy="558.0" r="2.7" fill="#43B75B"/><circle cx="461.0" cy="527.0" r="2.7" fill="#43B75B"/><circle cx="471.2" cy="491.8" r="2.7" fill="#43B75B"/><circle cx="481.3" cy="481.6" r="2.7" fill="#43B75B"/><circle cx="491.4" cy="485.7" r="2.7" fill="#43B75B"/><circle cx="501.6" cy="480.4" r="2.7" fill="#43B75B"/><circle cx="511.7" cy="497.1" r="2.7" fill="#43B75B"/><circle cx="521.8" cy="520.0" r="2.7" fill="#43B75B"/><circle cx="532.0" cy="477.8" r="2.7" fill="#43B75B"/><circle cx="542.1" cy="499.7" r="2.7" fill="#43B75B"/><circle cx="552.3" cy="495.3" r="2.7" fill="#43B75B"/><circle cx="562.4" cy="479.3" r="2.7" fill="#43B75B"/><circle cx="572.5" cy="488.2" r="2.7" fill="#43B75B"/><circle cx="582.7" cy="506.0" r="2.7" fill="#43B75B"/><circle cx="592.8" cy="487.7" r="2.7" fill="#43B75B"/><circle cx="602.9" cy="494.1" r="2.7" fill="#43B75B"/><circle cx="613.1" cy="497.8" r="2.7" fill="#43B75B"/><circle cx="623.2" cy="501.6" r="2.7" fill="#43B75B"/><circle cx="633.4" cy="503.0" r="2.7" fill="#43B75B"/><circle cx="643.5" cy="502.5" r="2.7" fill="#43B75B"/><circle cx="653.6" cy="507.5" r="2.7" fill="#43B75B"/><circle cx="663.8" cy="506.7" r="2.7" fill="#43B75B"/><circle cx="673.9" cy="509.9" r="2.7" fill="#43B75B"/><circle cx="400.2" cy="503.6" r="2.7" fill="#43B75B"/><circle cx="410.3" cy="523.0" r="2.7" fill="#43B75B"/><circle cx="420.5" cy="488.0" r="2.7" fill="#43B75B"/><circle cx="430.6" cy="501.5" r="2.7" fill="#43B75B"/><circle cx="440.7" cy="538.5" r="2.7" fill="#43B75B"/><circle cx="450.9" cy="553.6" r="2.7" fill="#43B75B"/><circle cx="461.0" cy="526.9" r="2.7" fill="#43B75B"/><circle cx="471.2" cy="489.0" r="2.7" fill="#43B75B"/><circle cx="481.3" cy="483.0" r="2.7" fill="#43B75B"/><circle cx="491.4" cy="481.2" r="2.7" fill="#43B75B"/><circle cx="501.6" cy="478.9" r="2.7" fill="#43B75B"/><circle cx="511.7" cy="495.4" r="2.7" fill="#43B75B"/><circle cx="521.8" cy="526.8" r="2.7" fill="#43B75B"/><circle cx="532.0" cy="477.8" r="2.7" fill="#43B75B"/><circle cx="542.1" cy="500.5" r="2.7" fill="#43B75B"/><circle cx="552.3" cy="495.3" r="2.7" fill="#43B75B"/><circle cx="562.4" cy="478.8" r="2.7" fill="#43B75B"/><circle cx="572.5" cy="488.2" r="2.7" fill="#43B75B"/><circle cx="582.7" cy="506.2" r="2.7" fill="#43B75B"/><circle cx="592.8" cy="487.7" r="2.7" fill="#43B75B"/><circle cx="602.9" cy="495.2" r="2.7" fill="#43B75B"/><circle cx="613.1" cy="496.2" r="2.7" fill="#43B75B"/><circle cx="623.2" cy="502.6" r="2.7" fill="#43B75B"/><circle cx="633.4" cy="501.2" r="2.7" fill="#43B75B"/><circle cx="643.5" cy="501.6" r="2.7" fill="#43B75B"/><circle cx="653.6" cy="507.5" r="2.7" fill="#43B75B"/><circle cx="663.8" cy="507.3" r="2.7" fill="#43B75B"/><circle cx="673.9" cy="510.1" r="2.7" fill="#43B75B"/><circle cx="400.2" cy="496.8" r="2.7" fill="#43B75B"/><circle cx="410.3" cy="524.1" r="2.7" fill="#43B75B"/><circle cx="420.5" cy="488.0" r="2.7" fill="#43B75B"/><circle cx="430.6" cy="500.9" r="2.7" fill="#43B75B"/><circle cx="440.7" cy="538.5" r="2.7" fill="#43B75B"/><circle cx="450.9" cy="557.2" r="2.7" fill="#43B75B"/><circle cx="461.0" cy="518.7" r="2.7" fill="#43B75B"/><circle cx="471.2" cy="490.5" r="2.7" fill="#43B75B"/><circle cx="481.3" cy="482.0" r="2.7" fill="#43B75B"/><circle cx="491.4" cy="485.7" r="2.7" fill="#43B75B"/><circle cx="501.6" cy="480.4" r="2.7" fill="#43B75B"/><circle cx="511.7" cy="497.1" r="2.7" fill="#43B75B"/><circle cx="521.8" cy="526.8" r="2.7" fill="#43B75B"/><circle cx="532.0" cy="477.8" r="2.7" fill="#43B75B"/><circle cx="542.1" cy="500.5" r="2.7" fill="#43B75B"/><circle cx="552.3" cy="492.8" r="2.7" fill="#43B75B"/><circle cx="562.4" cy="477.9" r="2.7" fill="#43B75B"/><circle cx="572.5" cy="485.8" r="2.7" fill="#43B75B"/><circle cx="582.7" cy="506.5" r="2.7" fill="#43B75B"/><circle cx="592.8" cy="487.9" r="2.7" fill="#43B75B"/><circle cx="602.9" cy="494.5" r="2.7" fill="#43B75B"/><circle cx="613.1" cy="497.7" r="2.7" fill="#43B75B"/><circle cx="623.2" cy="502.0" r="2.7" fill="#43B75B"/><circle cx="633.4" cy="501.5" r="2.7" fill="#43B75B"/><circle cx="643.5" cy="502.5" r="2.7" fill="#43B75B"/><circle cx="653.6" cy="505.7" r="2.7" fill="#43B75B"/><circle cx="663.8" cy="507.5" r="2.7" fill="#43B75B"/><circle cx="673.9" cy="509.4" r="2.7" fill="#43B75B"/><circle cx="400.2" cy="525.0" r="2.7" fill="#43B75B"/><circle cx="410.3" cy="533.0" r="2.7" fill="#43B75B"/><circle cx="420.5" cy="470.0" r="2.7" fill="#43B75B"/><circle cx="430.6" cy="478.0" r="2.7" fill="#43B75B"/><circle cx="440.7" cy="505.0" r="2.7" fill="#43B75B"/><circle cx="450.9" cy="510.0" r="2.7" fill="#43B75B"/><circle cx="461.0" cy="490.0" r="2.7" fill="#43B75B"/><circle cx="471.2" cy="482.0" r="2.7" fill="#43B75B"/><circle cx="481.3" cy="476.0" r="2.7" fill="#43B75B"/><circle cx="491.4" cy="474.0" r="2.7" fill="#43B75B"/><circle cx="501.6" cy="474.0" r="2.7" fill="#43B75B"/><circle cx="511.7" cy="490.0" r="2.7" fill="#43B75B"/><circle cx="521.8" cy="505.0" r="2.7" fill="#43B75B"/><circle cx="532.0" cy="472.0" r="2.7" fill="#43B75B"/><circle cx="542.1" cy="492.0" r="2.7" fill="#43B75B"/><circle cx="552.3" cy="488.0" r="2.7" fill="#43B75B"/><circle cx="562.4" cy="472.0" r="2.7" fill="#43B75B"/><circle cx="572.5" cy="480.0" r="2.7" fill="#43B75B"/><circle cx="582.7" cy="500.0" r="2.7" fill="#43B75B"/><circle cx="592.8" cy="480.0" r="2.7" fill="#43B75B"/><circle cx="602.9" cy="487.0" r="2.7" fill="#43B75B"/><circle cx="613.1" cy="491.0" r="2.7" fill="#43B75B"/><circle cx="623.2" cy="494.0" r="2.7" fill="#43B75B"/><circle cx="633.4" cy="494.0" r="2.7" fill="#43B75B"/><circle cx="643.5" cy="496.0" r="2.7" fill="#43B75B"/><circle cx="653.6" cy="499.0" r="2.7" fill="#43B75B"/><circle cx="663.8" cy="500.0" r="2.7" fill="#43B75B"/><circle cx="673.9" cy="501.0" r="2.7" fill="#43B75B"/><circle cx="400.2" cy="540.7" r="2.7" fill="#43B75B"/><circle cx="410.3" cy="541.0" r="2.7" fill="#43B75B"/><circle cx="420.5" cy="480.0" r="2.7" fill="#43B75B"/><circle cx="430.6" cy="490.0" r="2.7" fill="#43B75B"/><circle cx="440.7" cy="520.0" r="2.7" fill="#43B75B"/><circle cx="450.9" cy="540.0" r="2.7" fill="#43B75B"/><circle cx="461.0" cy="510.0" r="2.7" fill="#43B75B"/><circle cx="471.2" cy="488.0" r="2.7" fill="#43B75B"/><circle cx="481.3" cy="480.0" r="2.7" fill="#43B75B"/><circle cx="491.4" cy="480.0" r="2.7" fill="#43B75B"/><circle cx="501.6" cy="478.0" r="2.7" fill="#43B75B"/><circle cx="511.7" cy="494.0" r="2.7" fill="#43B75B"/><circle cx="521.8" cy="515.0" r="2.7" fill="#43B75B"/><circle cx="532.0" cy="476.0" r="2.7" fill="#43B75B"/><circle cx="542.1" cy="496.0" r="2.7" fill="#43B75B"/><circle cx="552.3" cy="492.0" r="2.7" fill="#43B75B"/><circle cx="562.4" cy="476.0" r="2.7" fill="#43B75B"/><circle cx="572.5" cy="484.0" r="2.7" fill="#43B75B"/><circle cx="582.7" cy="504.0" r="2.7" fill="#43B75B"/><circle cx="592.8" cy="484.0" r="2.7" fill="#43B75B"/><circle cx="602.9" cy="490.0" r="2.7" fill="#43B75B"/><circle cx="613.1" cy="494.0" r="2.7" fill="#43B75B"/><circle cx="623.2" cy="498.0" r="2.7" fill="#43B75B"/><circle cx="633.4" cy="497.0" r="2.7" fill="#43B75B"/><circle cx="643.5" cy="499.0" r="2.7" fill="#43B75B"/><circle cx="653.6" cy="502.0" r="2.7" fill="#43B75B"/><circle cx="663.8" cy="503.0" r="2.7" fill="#43B75B"/><circle cx="673.9" cy="504.0" r="2.7" fill="#43B75B"/><rect x="434.6" y="559.9" width="23.1" height="25.3" fill="none" stroke="#8a8a8a" stroke-width="1.2"/><path d="M457.7,575.8 H467" fill="none" stroke="#8a8a8a" stroke-width="1.2"/><path d="M470,575.8 l-4.5,-2.7 v5.4 z" fill="#8a8a8a"/><text x="472.7" y="578.7" font-size="8" text-anchor="start" font-weight="normal" fill="#DE7634" >C02+C03</text><rect x="626" y="581.2" width="39.700000000000045" height="23.09999999999991" fill="#fff" stroke="#231815" stroke-width="1.3"/><text x="645.9" y="597.0" font-size="16.3" text-anchor="middle" font-weight="bold" fill="#231815" >Cpx</text><rect x="651.0" y="436.6" width="23.3" height="22.8" fill="#231815"/><text x="662.6" y="455.5" font-size="19.8" text-anchor="middle" font-weight="bold" fill="#fff" stroke="#fff" stroke-width="0.45">F</text><rect x="51.5" y="645.1" width="276.7" height="174.10000000000002" fill="none" stroke="#1e1e1e" stroke-width="1.2"/><line x1="51.5" y1="819.2" x2="51.5" y2="816.2" stroke="#1e1e1e" stroke-width="1"/><text transform="translate(51.5,834.1) scale(1,1.08)" font-size="9.2" text-anchor="middle" fill="#231815">0</text><line x1="106.8" y1="819.2" x2="106.8" y2="816.2" stroke="#1e1e1e" stroke-width="1"/><text transform="translate(106.8,834.1) scale(1,1.08)" font-size="9.2" text-anchor="middle" fill="#231815">3</text><line x1="162.2" y1="819.2" x2="162.2" y2="816.2" stroke="#1e1e1e" stroke-width="1"/><text transform="translate(162.2,834.1) scale(1,1.08)" font-size="9.2" text-anchor="middle" fill="#231815">6</text><line x1="217.5" y1="819.2" x2="217.5" y2="816.2" stroke="#1e1e1e" stroke-width="1"/><text transform="translate(217.5,834.1) scale(1,1.08)" font-size="9.2" text-anchor="middle" fill="#231815">9</text><line x1="272.9" y1="819.2" x2="272.9" y2="816.2" stroke="#1e1e1e" stroke-width="1"/><text transform="translate(272.9,834.1) scale(1,1.08)" font-size="9.2" text-anchor="middle" fill="#231815">12</text><line x1="328.2" y1="819.2" x2="328.2" y2="816.2" stroke="#1e1e1e" stroke-width="1"/><text transform="translate(328.2,834.1) scale(1,1.08)" font-size="9.2" text-anchor="middle" fill="#231815">15</text><line x1="51.5" y1="819.2" x2="54.5" y2="819.2" stroke="#1e1e1e" stroke-width="1"/><text transform="translate(43.7,822.2) scale(1,1.08)" font-size="9.2" text-anchor="end" fill="#231815">0</text><line x1="51.5" y1="794.3" x2="54.5" y2="794.3" stroke="#1e1e1e" stroke-width="1"/><text transform="translate(43.7,797.3) scale(1,1.08)" font-size="9.2" text-anchor="end" fill="#231815">4</text><line x1="51.5" y1="769.5" x2="54.5" y2="769.5" stroke="#1e1e1e" stroke-width="1"/><text transform="translate(43.7,772.5) scale(1,1.08)" font-size="9.2" text-anchor="end" fill="#231815">8</text><line x1="51.5" y1="744.6" x2="54.5" y2="744.6" stroke="#1e1e1e" stroke-width="1"/><text transform="translate(43.7,747.6) scale(1,1.08)" font-size="9.2" text-anchor="end" fill="#231815">12</text><line x1="51.5" y1="719.7" x2="54.5" y2="719.7" stroke="#1e1e1e" stroke-width="1"/><text transform="translate(43.7,722.7) scale(1,1.08)" font-size="9.2" text-anchor="end" fill="#231815">16</text><line x1="51.5" y1="694.8" x2="54.5" y2="694.8" stroke="#1e1e1e" stroke-width="1"/><text transform="translate(43.7,697.8) scale(1,1.08)" font-size="9.2" text-anchor="end" fill="#231815">20</text><line x1="51.5" y1="670.0" x2="54.5" y2="670.0" stroke="#1e1e1e" stroke-width="1"/><text transform="translate(43.7,673.0) scale(1,1.08)" font-size="9.2" text-anchor="end" fill="#231815">24</text><line x1="51.5" y1="645.1" x2="54.5" y2="645.1" stroke="#1e1e1e" stroke-width="1"/><text transform="translate(43.7,648.1) scale(1,1.08)" font-size="9.2" text-anchor="end" fill="#231815">28</text><text transform="translate(24,730.3) rotate(-90)" font-size="13.2" text-anchor="middle" fill="#231815">Th/Yb</text><text x="192.2" y="844.8" font-size="12" text-anchor="middle" font-weight="normal" fill="#231815" >Ba/La</text><rect x="48.5" y="664.2" width="6.2" height="6.2" fill="#DE7634"/><rect x="48.8" y="676.3" width="6.2" height="6.2" fill="#DE7634"/><rect x="48.8" y="677.8" width="6.2" height="6.2" fill="#DE7634"/><rect x="48.8" y="683.6" width="6.2" height="6.2" fill="#DE7634"/><rect x="48.5" y="695.3" width="6.2" height="6.2" fill="#DE7634"/><rect x="48.5" y="696.8" width="6.2" height="6.2" fill="#DE7634"/><rect x="48.5" y="719.8" width="6.2" height="6.2" fill="#DE7634"/><rect x="53.5" y="716.9" width="6.2" height="6.2" fill="#DE7634"/><rect x="106.2" y="666.8" width="6.2" height="6.2" fill="#DE7634"/><circle cx="109.3" cy="658.7" r="2.6" fill="#DE7634"/><circle cx="105.5" cy="777.0" r="3.3" fill="#43B75B"/><circle cx="107.2" cy="798.9" r="3.3" fill="#43B75B"/><circle cx="129.5" cy="794.3" r="3.3" fill="#43B75B"/><circle cx="77.4" cy="800.8" r="3.3" fill="#43B75B"/><circle cx="75.9" cy="806.2" r="3.3" fill="#43B75B"/><circle cx="93.9" cy="807.3" r="3.3" fill="#43B75B"/><circle cx="92.2" cy="811.3" r="3.3" fill="#43B75B"/><circle cx="73.6" cy="814.8" r="3.3" fill="#43B75B"/><circle cx="92.5" cy="810.4" r="3.3" fill="#43B75B"/><circle cx="158.9" cy="769.7" r="3.3" fill="#43B75B"/><circle cx="173.3" cy="761.7" r="3.3" fill="#43B75B"/><circle cx="191.9" cy="766.2" r="3.3" fill="#43B75B"/><circle cx="194.8" cy="784.5" r="3.3" fill="#43B75B"/><circle cx="239.1" cy="793.4" r="3.3" fill="#43B75B"/><circle cx="258.7" cy="741.1" r="3.3" fill="#43B75B"/><circle cx="57.5" cy="814.1" r="3.3" fill="#43B75B"/><circle cx="53.5" cy="816.6" r="3.3" fill="#43B75B"/><circle cx="55.7" cy="817.4" r="3.3" fill="#43B75B"/><circle cx="51.7" cy="815.9" r="3.3" fill="#43B75B"/><circle cx="59.0" cy="816.0" r="3.3" fill="#43B75B"/><circle cx="51.3" cy="801.0" r="3.3" fill="#DE7634"/><circle cx="54.2" cy="803.9" r="3.3" fill="#DE7634"/><circle cx="52.0" cy="811.2" r="3.3" fill="#DE7634"/><circle cx="55.0" cy="811.2" r="3.3" fill="#DE7634"/><circle cx="51.3" cy="818.5" r="3.3" fill="#DE7634"/><circle cx="53.5" cy="813.5" r="3.3" fill="#DE7634"/><circle cx="50.5" cy="815.0" r="3.3" fill="#DE7634"/><circle cx="57.5" cy="814.1" r="3.3" fill="#43B75B"/><circle cx="55.7" cy="817.4" r="3.3" fill="#43B75B"/><circle cx="57.5" cy="805.0" r="2.7" fill="none" stroke="#43B75B" stroke-width="1.1"/><circle cx="69.9" cy="807.5" r="2.7" fill="none" stroke="#43B75B" stroke-width="1.1"/><circle cx="62.6" cy="811.5" r="2.7" fill="none" stroke="#DE7634" stroke-width="1.1"/><circle cx="62.6" cy="817.0" r="2.7" fill="none" stroke="#DE7634" stroke-width="1.1"/><circle cx="81.2" cy="811.9" r="2.7" fill="none" stroke="#DE7634" stroke-width="1.1"/><rect x="283.1" y="790.9" width="39.89999999999998" height="23.100000000000023" fill="#fff" stroke="#231815" stroke-width="1.3"/><text x="303.1" y="806.8" font-size="16.3" text-anchor="middle" font-weight="bold" fill="#231815" >Cpx</text><rect x="305.3" y="644.7" width="23.3" height="22.8" fill="#231815"/><text x="316.9" y="663.6" font-size="19.8" text-anchor="middle" font-weight="bold" fill="#fff" stroke="#fff" stroke-width="0.45">G</text><rect x="398.0" y="645.1" width="70.30000000000001" height="168.89999999999998" fill="#dcdcdc"/><line x1="468.3" y1="645.1" x2="468.3" y2="814" stroke="#bdbdbd" stroke-width="1" stroke-dasharray="3,2"/><line x1="468.3" y1="814" x2="672.5" y2="814" stroke="#a8a8a8" stroke-width="1" stroke-dasharray="3.5,2.5"/><rect x="398.0" y="645.1" width="274.5" height="172.19999999999993" fill="none" stroke="#1e1e1e" stroke-width="1.2"/><line x1="398.0" y1="817.3" x2="398.0" y2="814.3" stroke="#1e1e1e" stroke-width="1"/><text transform="translate(398.0,832.2) scale(1,1.08)" font-size="9.2" text-anchor="middle" fill="#231815">0</text><line x1="443.8" y1="817.3" x2="443.8" y2="814.3" stroke="#1e1e1e" stroke-width="1"/><text transform="translate(443.8,832.2) scale(1,1.08)" font-size="9.2" text-anchor="middle" fill="#231815">1000</text><line x1="489.5" y1="817.3" x2="489.5" y2="814.3" stroke="#1e1e1e" stroke-width="1"/><text transform="translate(489.5,832.2) scale(1,1.08)" font-size="9.2" text-anchor="middle" fill="#231815">2000</text><line x1="535.2" y1="817.3" x2="535.2" y2="814.3" stroke="#1e1e1e" stroke-width="1"/><text transform="translate(535.2,832.2) scale(1,1.08)" font-size="9.2" text-anchor="middle" fill="#231815">3000</text><line x1="581.0" y1="817.3" x2="581.0" y2="814.3" stroke="#1e1e1e" stroke-width="1"/><text transform="translate(581.0,832.2) scale(1,1.08)" font-size="9.2" text-anchor="middle" fill="#231815">4000</text><line x1="626.8" y1="817.3" x2="626.8" y2="814.3" stroke="#1e1e1e" stroke-width="1"/><text transform="translate(626.8,832.2) scale(1,1.08)" font-size="9.2" text-anchor="middle" fill="#231815">5000</text><line x1="672.5" y1="817.3" x2="672.5" y2="814.3" stroke="#1e1e1e" stroke-width="1"/><text transform="translate(672.5,832.2) scale(1,1.08)" font-size="9.2" text-anchor="middle" fill="#231815">6000</text><line x1="398.0" y1="817.3" x2="401.0" y2="817.3" stroke="#1e1e1e" stroke-width="1"/><text transform="translate(390.2,820.3) scale(1,1.08)" font-size="9.2" text-anchor="end" fill="#231815">0</text><line x1="398.0" y1="792.8" x2="401.0" y2="792.8" stroke="#1e1e1e" stroke-width="1"/><text transform="translate(390.2,795.8) scale(1,1.08)" font-size="9.2" text-anchor="end" fill="#231815">20</text><line x1="398.0" y1="768.3" x2="401.0" y2="768.3" stroke="#1e1e1e" stroke-width="1"/><text transform="translate(390.2,771.3) scale(1,1.08)" font-size="9.2" text-anchor="end" fill="#231815">40</text><line x1="398.0" y1="743.8" x2="401.0" y2="743.8" stroke="#1e1e1e" stroke-width="1"/><text transform="translate(390.2,746.8) scale(1,1.08)" font-size="9.2" text-anchor="end" fill="#231815">60</text><line x1="398.0" y1="719.3" x2="401.0" y2="719.3" stroke="#1e1e1e" stroke-width="1"/><text transform="translate(390.2,722.3) scale(1,1.08)" font-size="9.2" text-anchor="end" fill="#231815">80</text><line x1="398.0" y1="694.8" x2="401.0" y2="694.8" stroke="#1e1e1e" stroke-width="1"/><text transform="translate(390.2,697.8) scale(1,1.08)" font-size="9.2" text-anchor="end" fill="#231815">100</text><line x1="398.0" y1="670.3" x2="401.0" y2="670.3" stroke="#1e1e1e" stroke-width="1"/><text transform="translate(390.2,673.3) scale(1,1.08)" font-size="9.2" text-anchor="end" fill="#231815">120</text><line x1="398.0" y1="645.8" x2="401.0" y2="645.8" stroke="#1e1e1e" stroke-width="1"/><text transform="translate(390.2,648.8) scale(1,1.08)" font-size="9.2" text-anchor="end" fill="#231815">140</text><text transform="translate(361.2,731.9) rotate(-90)" font-size="12" text-anchor="middle" fill="#231815">(La/Yb)<tspan font-size="7.5" dy="3.5">N</tspan></text><text x="537.2" y="845.5" font-size="12" text-anchor="middle" font-weight="normal" fill="#231815" >Ti/Eu</text><text x="434.3" y="723.7" font-size="9.6" text-anchor="middle" font-weight="normal" fill="#333" >Carbonatitic</text><text x="434.4" y="734.8" font-size="9.6" text-anchor="middle" font-weight="normal" fill="#333" >metasomatism</text><text transform="translate(478.5,675.5) rotate(-90)" font-size="7" text-anchor="middle" fill="#231815">(La/Yb)<tspan font-size="4.5" dy="2">N</tspan><tspan dy="-2"> = 1500</tspan></text><text x="583.2" y="781.7" font-size="9.6" text-anchor="middle" font-weight="normal" fill="#222" >Silicate</text><text x="583.2" y="792.4" font-size="9.6" text-anchor="middle" font-weight="normal" fill="#222" >metasomatism</text><line x1="548.6" y1="803.2" x2="614" y2="803.2" stroke="#111" stroke-width="1.3"/><path d="M621,803.2 l-9,-3.8 v7.6 z" fill="#111"/><text x="650.5" y="812.6" font-size="6.2" text-anchor="middle" font-weight="normal" fill="#231815" >Ti/Eu = 3</text><text x="437.2" y="788.8" font-size="7.8" text-anchor="middle" font-weight="normal" fill="#DE7634" >C04+C05</text><text x="530.5" y="802.6" font-size="8.6" text-anchor="middle" font-weight="normal" fill="#DE7634" >C01</text><text x="597.2" y="711.9" font-size="8.9" text-anchor="middle" font-weight="normal" fill="#DE7634" >C02+C03</text><rect x="640.0" y="671.5" width="6.2" height="6.2" fill="#DE7634"/><rect x="619.8" y="685.5" width="6.2" height="6.2" fill="#DE7634"/><rect x="626.5" y="683.6" width="6.2" height="6.2" fill="#DE7634"/><rect x="621.7" y="689.6" width="6.2" height="6.2" fill="#DE7634"/><rect x="619.8" y="693.6" width="6.2" height="6.2" fill="#DE7634"/><rect x="631.4" y="702.3" width="6.2" height="6.2" fill="#DE7634"/><rect x="632.7" y="707.7" width="6.2" height="6.2" fill="#DE7634"/><rect x="648.9" y="710.4" width="6.2" height="6.2" fill="#DE7634"/><rect x="619.8" y="717.4" width="6.2" height="6.2" fill="#DE7634"/><rect x="629.2" y="717.4" width="6.2" height="6.2" fill="#DE7634"/><rect x="633.3" y="721.4" width="6.2" height="6.2" fill="#DE7634"/><rect x="642.2" y="726.6" width="6.2" height="6.2" fill="#DE7634"/><rect x="512.2" y="805.7" width="6.2" height="6.2" fill="#DE7634"/><rect x="517.9" y="805.7" width="6.2" height="6.2" fill="#DE7634"/><rect x="525.4" y="805.7" width="6.2" height="6.2" fill="#DE7634"/><rect x="530.9" y="805.7" width="6.2" height="6.2" fill="#DE7634"/><rect x="538.9" y="805.7" width="6.2" height="6.2" fill="#DE7634"/><rect x="543.9" y="805.7" width="6.2" height="6.2" fill="#DE7634"/><rect x="549.9" y="805.7" width="6.2" height="6.2" fill="#DE7634"/><rect x="554.4" y="805.7" width="6.2" height="6.2" fill="#DE7634"/><rect x="560.9" y="805.7" width="6.2" height="6.2" fill="#DE7634"/><rect x="564.6" y="805.7" width="6.2" height="6.2" fill="#DE7634"/><circle cx="433.0" cy="811.0" r="3.3" fill="#43B75B"/><circle cx="436.0" cy="813.7" r="3.3" fill="#43B75B"/><circle cx="439.0" cy="811.0" r="3.3" fill="#43B75B"/><circle cx="442.0" cy="813.7" r="3.3" fill="#43B75B"/><circle cx="445.0" cy="811.0" r="3.3" fill="#43B75B"/><circle cx="448.0" cy="813.7" r="3.3" fill="#43B75B"/><circle cx="451.0" cy="811.0" r="3.3" fill="#43B75B"/><circle cx="454.0" cy="813.7" r="3.3" fill="#43B75B"/><circle cx="457.0" cy="811.0" r="3.3" fill="#43B75B"/><circle cx="460.0" cy="813.7" r="3.3" fill="#43B75B"/><circle cx="463.0" cy="811.0" r="3.3" fill="#43B75B"/><circle cx="466.0" cy="813.7" r="3.3" fill="#43B75B"/><circle cx="469.0" cy="811.0" r="3.3" fill="#43B75B"/><circle cx="472.0" cy="813.7" r="3.3" fill="#43B75B"/><circle cx="475.0" cy="811.0" r="3.3" fill="#43B75B"/><circle cx="433.0" cy="797.1" r="3.3" fill="#DE7634"/><circle cx="440.9" cy="797.7" r="3.3" fill="#DE7634"/><circle cx="447.8" cy="799.5" r="3.3" fill="#DE7634"/><circle cx="450.7" cy="801.4" r="3.3" fill="#DE7634"/><circle cx="435.0" cy="805.4" r="3.3" fill="#DE7634"/><circle cx="433.7" cy="808.0" r="3.3" fill="#DE7634"/><circle cx="435.0" cy="809.3" r="3.3" fill="#DE7634"/><circle cx="461.0" cy="799.7" r="2.7" fill="none" stroke="#DE7634" stroke-width="1.1"/><circle cx="454.7" cy="802.7" r="2.7" fill="none" stroke="#DE7634" stroke-width="1.1"/><circle cx="450.1" cy="805.4" r="2.7" fill="none" stroke="#DE7634" stroke-width="1.1"/><circle cx="463.2" cy="807.3" r="2.7" fill="none" stroke="#DE7634" stroke-width="1.1"/><circle cx="458.6" cy="810.0" r="2.7" fill="none" stroke="#DE7634" stroke-width="1.1"/><circle cx="473.1" cy="809.3" r="2.7" fill="none" stroke="#DE7634" stroke-width="1.1"/><circle cx="475.5" cy="808.5" r="2.7" fill="none" stroke="#DE7634" stroke-width="1.1"/><circle cx="485.2" cy="808.9" r="2.7" fill="none" stroke="#DE7634" stroke-width="1.1"/><circle cx="418.9" cy="808.9" r="2.7" fill="none" stroke="#43B75B" stroke-width="1.1"/><circle cx="444.4" cy="809.3" r="2.7" fill="none" stroke="#43B75B" stroke-width="1.1"/><circle cx="481.0" cy="810.9" r="2.7" fill="none" stroke="#43B75B" stroke-width="1.1"/><rect x="627.7" y="774.9" width="39.19999999999993" height="22.100000000000023" fill="#fff" stroke="#231815" stroke-width="1.3"/><text x="647.3" y="790.2" font-size="16.3" text-anchor="middle" font-weight="bold" fill="#231815" >Cpx</text><rect x="649.6" y="644.7" width="23.3" height="22.8" fill="#231815"/><text x="661.2" y="663.6" font-size="19.8" text-anchor="middle" font-weight="bold" fill="#fff" stroke="#fff" stroke-width="0.45">H</text><rect x="51.3" y="853.3" width="276.0" height="174.29999999999995" fill="none" stroke="#1e1e1e" stroke-width="1.2"/><line x1="51.3" y1="1027.6" x2="51.3" y2="1024.6" stroke="#1e1e1e" stroke-width="1"/><text transform="translate(51.3,1042.5) scale(1,1.08)" font-size="9.2" text-anchor="middle" fill="#231815">2</text><line x1="85.8" y1="1027.6" x2="85.8" y2="1024.6" stroke="#1e1e1e" stroke-width="1"/><text transform="translate(85.8,1042.5) scale(1,1.08)" font-size="9.2" text-anchor="middle" fill="#231815">4</text><line x1="120.2" y1="1027.6" x2="120.2" y2="1024.6" stroke="#1e1e1e" stroke-width="1"/><text transform="translate(120.2,1042.5) scale(1,1.08)" font-size="9.2" text-anchor="middle" fill="#231815">6</text><line x1="154.7" y1="1027.6" x2="154.7" y2="1024.6" stroke="#1e1e1e" stroke-width="1"/><text transform="translate(154.7,1042.5) scale(1,1.08)" font-size="9.2" text-anchor="middle" fill="#231815">8</text><line x1="189.1" y1="1027.6" x2="189.1" y2="1024.6" stroke="#1e1e1e" stroke-width="1"/><text transform="translate(189.1,1042.5) scale(1,1.08)" font-size="9.2" text-anchor="middle" fill="#231815">10</text><line x1="223.6" y1="1027.6" x2="223.6" y2="1024.6" stroke="#1e1e1e" stroke-width="1"/><text transform="translate(223.6,1042.5) scale(1,1.08)" font-size="9.2" text-anchor="middle" fill="#231815">12</text><line x1="258.1" y1="1027.6" x2="258.1" y2="1024.6" stroke="#1e1e1e" stroke-width="1"/><text transform="translate(258.1,1042.5) scale(1,1.08)" font-size="9.2" text-anchor="middle" fill="#231815">14</text><line x1="292.5" y1="1027.6" x2="292.5" y2="1024.6" stroke="#1e1e1e" stroke-width="1"/><text transform="translate(292.5,1042.5) scale(1,1.08)" font-size="9.2" text-anchor="middle" fill="#231815">16</text><line x1="327.0" y1="1027.6" x2="327.0" y2="1024.6" stroke="#1e1e1e" stroke-width="1"/><text transform="translate(327.0,1042.5) scale(1,1.08)" font-size="9.2" text-anchor="middle" fill="#231815">18</text><line x1="51.3" y1="1027.6" x2="54.3" y2="1027.6" stroke="#1e1e1e" stroke-width="1"/><text transform="translate(43.5,1030.6) scale(1,1.08)" font-size="9.2" text-anchor="end" fill="#231815">0.712</text><line x1="51.3" y1="992.7" x2="54.3" y2="992.7" stroke="#1e1e1e" stroke-width="1"/><text transform="translate(43.5,995.7) scale(1,1.08)" font-size="9.2" text-anchor="end" fill="#231815">0.714</text><line x1="51.3" y1="957.9" x2="54.3" y2="957.9" stroke="#1e1e1e" stroke-width="1"/><text transform="translate(43.5,960.9) scale(1,1.08)" font-size="9.2" text-anchor="end" fill="#231815">0.716</text><line x1="51.3" y1="923.0" x2="54.3" y2="923.0" stroke="#1e1e1e" stroke-width="1"/><text transform="translate(43.5,926.0) scale(1,1.08)" font-size="9.2" text-anchor="end" fill="#231815">0.718</text><line x1="51.3" y1="888.2" x2="54.3" y2="888.2" stroke="#1e1e1e" stroke-width="1"/><text transform="translate(43.5,891.2) scale(1,1.08)" font-size="9.2" text-anchor="end" fill="#231815">0.720</text><line x1="51.3" y1="853.3" x2="54.3" y2="853.3" stroke="#1e1e1e" stroke-width="1"/><text transform="translate(43.5,856.3) scale(1,1.08)" font-size="9.2" text-anchor="end" fill="#231815">0.722</text><text transform="translate(14,933.8) rotate(-90)" font-size="12.6" text-anchor="middle" fill="#231815"><tspan font-size="8.5" dy="-4.5">87</tspan><tspan dy="4.5">Sr/</tspan><tspan font-size="8.5" dy="-4.5">86</tspan><tspan dy="4.5">Sr</tspan></text><text x="167" y="1058" font-size="11.8" fill="#231815">(La/Yb)<tspan font-size="7.5" dy="3.5">N</tspan></text><line x1="79.4" y1="949.7" x2="168.3" y2="884.3" stroke="#43B75B" stroke-width="1.6" stroke-dasharray="3,2.2"/><line x1="125.5" y1="1008.5" x2="138.1" y2="971.4" stroke="#DE7634" stroke-width="1.4" stroke-dasharray="2.5,2"/><circle cx="155.0" cy="881.9" r="3.3" fill="#43B75B"/><circle cx="148.3" cy="908.8" r="3.3" fill="#43B75B"/><circle cx="143.0" cy="912.9" r="3.3" fill="#43B75B"/><circle cx="117.2" cy="912.3" r="3.3" fill="#43B75B"/><circle cx="113.7" cy="917.6" r="3.3" fill="#43B75B"/><circle cx="121.3" cy="917.0" r="3.3" fill="#43B75B"/><circle cx="106.6" cy="929.7" r="3.3" fill="#43B75B"/><circle cx="96.8" cy="937.4" r="3.3" fill="#43B75B"/><circle cx="101.9" cy="938.1" r="3.3" fill="#43B75B"/><circle cx="90.7" cy="943.0" r="3.3" fill="#43B75B"/><circle cx="83.9" cy="922.5" r="2.7" fill="none" stroke="#43B75B" stroke-width="1.1"/><circle cx="100.9" cy="904.3" r="2.7" fill="none" stroke="#43B75B" stroke-width="1.1"/><circle cx="108.0" cy="904.7" r="2.7" fill="none" stroke="#43B75B" stroke-width="1.1"/><circle cx="121.1" cy="898.6" r="2.7" fill="none" stroke="#43B75B" stroke-width="1.1"/><circle cx="123.4" cy="913.9" r="2.7" fill="none" stroke="#43B75B" stroke-width="1.1"/><circle cx="132.8" cy="930.9" r="2.7" fill="none" stroke="#43B75B" stroke-width="1.1"/><circle cx="124.2" cy="957.3" r="2.7" fill="none" stroke="#43B75B" stroke-width="1.1"/><circle cx="125.0" cy="918.6" r="2.7" fill="none" stroke="#DE7634" stroke-width="1.1"/><circle cx="128.7" cy="929.9" r="2.7" fill="none" stroke="#DE7634" stroke-width="1.1"/><circle cx="120.5" cy="932.3" r="2.7" fill="none" stroke="#DE7634" stroke-width="1.1"/><circle cx="123.0" cy="936.4" r="2.7" fill="none" stroke="#DE7634" stroke-width="1.1"/><circle cx="136.0" cy="931.7" r="2.7" fill="none" stroke="#DE7634" stroke-width="1.1"/><circle cx="142.4" cy="937.4" r="2.7" fill="none" stroke="#DE7634" stroke-width="1.1"/><circle cx="136.8" cy="942.1" r="2.7" fill="none" stroke="#DE7634" stroke-width="1.1"/><circle cx="139.9" cy="950.9" r="2.7" fill="none" stroke="#DE7634" stroke-width="1.1"/><circle cx="146.9" cy="954.4" r="2.7" fill="none" stroke="#DE7634" stroke-width="1.1"/><circle cx="173.7" cy="978.3" r="2.7" fill="none" stroke="#DE7634" stroke-width="1.1"/><circle cx="217.3" cy="965.4" r="2.7" fill="none" stroke="#DE7634" stroke-width="1.1"/><circle cx="266.7" cy="934.9" r="2.7" fill="none" stroke="#DE7634" stroke-width="1.1"/><circle cx="127.3" cy="1002.7" r="3.3" fill="#DE7634"/><circle cx="128.1" cy="997.7" r="3.3" fill="#DE7634"/><circle cx="129.6" cy="993.6" r="3.3" fill="#DE7634"/><circle cx="128.4" cy="990.7" r="3.3" fill="#DE7634"/><circle cx="132.5" cy="988.9" r="3.3" fill="#DE7634"/><circle cx="129.0" cy="987.2" r="3.3" fill="#DE7634"/><circle cx="133.1" cy="986.0" r="3.3" fill="#DE7634"/><circle cx="134.3" cy="981.9" r="3.3" fill="#DE7634"/><circle cx="136.6" cy="981.9" r="3.3" fill="#DE7634"/><circle cx="133.1" cy="979.0" r="3.3" fill="#DE7634"/><circle cx="134.9" cy="978.4" r="3.3" fill="#DE7634"/><circle cx="131.0" cy="991.5" r="3.3" fill="#DE7634"/><circle cx="130.5" cy="995.5" r="3.3" fill="#DE7634"/><text x="168.3" y="905.0" font-size="8.4" text-anchor="start" font-weight="normal" fill="#43B75B" >R<tspan font-size="5" dy="-3">2</tspan><tspan dy="3"> = 0.82</tspan></text><text x="146.9" y="995.5" font-size="8.4" text-anchor="start" font-weight="normal" fill="#DE7634" >R<tspan font-size="5" dy="-3">2</tspan><tspan dy="3"> = 0.77</tspan></text><rect x="284.6" y="995.7" width="39.19999999999999" height="22.799999999999955" fill="#fff" stroke="#231815" stroke-width="1.3"/><text x="304.2" y="1011.4" font-size="16.3" text-anchor="middle" font-weight="bold" fill="#231815" >Cpx</text><rect x="304.4" y="852.9" width="23.3" height="22.8" fill="#231815"/><text x="316.1" y="871.8" font-size="19.8" text-anchor="middle" font-weight="bold" fill="#fff" stroke="#fff" stroke-width="0.45">I</text><rect x="396.8" y="853.2" width="272.49999999999994" height="180.0" fill="none" stroke="#1e1e1e" stroke-width="1.2"/><line x1="396.8" y1="1033.2" x2="396.8" y2="1030.2" stroke="#1e1e1e" stroke-width="1"/><text transform="translate(396.8,1048.1) scale(1,1.08)" font-size="9.2" text-anchor="middle" fill="#231815">0</text><line x1="464.8" y1="1033.2" x2="464.8" y2="1030.2" stroke="#1e1e1e" stroke-width="1"/><text transform="translate(464.8,1048.1) scale(1,1.08)" font-size="9.2" text-anchor="middle" fill="#231815">5</text><line x1="532.8" y1="1033.2" x2="532.8" y2="1030.2" stroke="#1e1e1e" stroke-width="1"/><text transform="translate(532.8,1048.1) scale(1,1.08)" font-size="9.2" text-anchor="middle" fill="#231815">10</text><line x1="600.8" y1="1033.2" x2="600.8" y2="1030.2" stroke="#1e1e1e" stroke-width="1"/><text transform="translate(600.8,1048.1) scale(1,1.08)" font-size="9.2" text-anchor="middle" fill="#231815">15</text><line x1="668.8" y1="1033.2" x2="668.8" y2="1030.2" stroke="#1e1e1e" stroke-width="1"/><text transform="translate(668.8,1048.1) scale(1,1.08)" font-size="9.2" text-anchor="middle" fill="#231815">20</text><line x1="396.8" y1="1033.2" x2="399.8" y2="1033.2" stroke="#1e1e1e" stroke-width="1"/><text transform="translate(389.0,1036.2) scale(1,1.08)" font-size="9.2" text-anchor="end" fill="#231815">0.3</text><line x1="396.8" y1="1003.2" x2="399.8" y2="1003.2" stroke="#1e1e1e" stroke-width="1"/><text transform="translate(389.0,1006.2) scale(1,1.08)" font-size="9.2" text-anchor="end" fill="#231815">0.4</text><line x1="396.8" y1="973.3" x2="399.8" y2="973.3" stroke="#1e1e1e" stroke-width="1"/><text transform="translate(389.0,976.3) scale(1,1.08)" font-size="9.2" text-anchor="end" fill="#231815">0.5</text><line x1="396.8" y1="943.3" x2="399.8" y2="943.3" stroke="#1e1e1e" stroke-width="1"/><text transform="translate(389.0,946.3) scale(1,1.08)" font-size="9.2" text-anchor="end" fill="#231815">0.6</text><line x1="396.8" y1="913.3" x2="399.8" y2="913.3" stroke="#1e1e1e" stroke-width="1"/><text transform="translate(389.0,916.3) scale(1,1.08)" font-size="9.2" text-anchor="end" fill="#231815">0.7</text><line x1="396.8" y1="883.4" x2="399.8" y2="883.4" stroke="#1e1e1e" stroke-width="1"/><text transform="translate(389.0,886.4) scale(1,1.08)" font-size="9.2" text-anchor="end" fill="#231815">0.8</text><line x1="396.8" y1="853.4" x2="399.8" y2="853.4" stroke="#1e1e1e" stroke-width="1"/><text transform="translate(389.0,856.4) scale(1,1.08)" font-size="9.2" text-anchor="end" fill="#231815">0.9</text><text transform="translate(362.1,938.9) rotate(-90)" font-size="13" text-anchor="middle" fill="#231815">Eu<tspan font-size="8" dy="3.5">N</tspan><tspan dy="-3.5">/Eu*</tspan></text><text x="527.4" y="1063.9" font-size="12" fill="#231815">Yb<tspan font-size="8" dy="3.5">N</tspan></text><rect x="400.4" y="868.4" width="6.2" height="6.2" fill="#DE7634"/><rect x="402.4" y="870.9" width="6.2" height="6.2" fill="#DE7634"/><rect x="399.9" y="873.9" width="6.2" height="6.2" fill="#DE7634"/><rect x="402.9" y="875.9" width="6.2" height="6.2" fill="#DE7634"/><rect x="399.4" y="877.9" width="6.2" height="6.2" fill="#DE7634"/><rect x="401.4" y="880.4" width="6.2" height="6.2" fill="#DE7634"/><rect x="398.9" y="882.9" width="6.2" height="6.2" fill="#DE7634"/><rect x="400.9" y="885.4" width="6.2" height="6.2" fill="#DE7634"/><rect x="402.9" y="883.9" width="6.2" height="6.2" fill="#DE7634"/><rect x="399.9" y="888.4" width="6.2" height="6.2" fill="#DE7634"/><rect x="402.4" y="888.9" width="6.2" height="6.2" fill="#DE7634"/><rect x="546.4" y="981.7" width="6.2" height="6.2" fill="#DE7634"/><rect x="574.8" y="968.6" width="6.2" height="6.2" fill="#DE7634"/><rect x="572.4" y="973.7" width="6.2" height="6.2" fill="#DE7634"/><rect x="576.7" y="974.1" width="6.2" height="6.2" fill="#DE7634"/><rect x="584.7" y="971.2" width="6.2" height="6.2" fill="#DE7634"/><rect x="581.9" y="978.4" width="6.2" height="6.2" fill="#DE7634"/><rect x="588.1" y="977.1" width="6.2" height="6.2" fill="#DE7634"/><rect x="605.6" y="966.5" width="6.2" height="6.2" fill="#DE7634"/><rect x="604.1" y="971.2" width="6.2" height="6.2" fill="#DE7634"/><rect x="602.7" y="975.6" width="6.2" height="6.2" fill="#DE7634"/><rect x="611.9" y="971.8" width="6.2" height="6.2" fill="#DE7634"/><circle cx="425.0" cy="890.9" r="3.3" fill="#DE7634"/><circle cx="418.5" cy="897.6" r="3.3" fill="#DE7634"/><circle cx="421.2" cy="900.2" r="3.3" fill="#DE7634"/><circle cx="423.4" cy="902.8" r="3.3" fill="#DE7634"/><circle cx="425.5" cy="905.4" r="3.3" fill="#DE7634"/><circle cx="520.1" cy="966.0" r="3.3" fill="#DE7634"/><circle cx="528.4" cy="975.8" r="3.3" fill="#DE7634"/><circle cx="552.1" cy="978.7" r="3.3" fill="#DE7634"/><circle cx="557.1" cy="984.4" r="3.3" fill="#DE7634"/><circle cx="550.5" cy="982.0" r="3.3" fill="#DE7634"/><circle cx="414.0" cy="943.3" r="3.3" fill="#43B75B"/><circle cx="406.8" cy="981.0" r="3.3" fill="#43B75B"/><circle cx="456.7" cy="926.0" r="3.3" fill="#43B75B"/><circle cx="462.4" cy="935.7" r="3.3" fill="#43B75B"/><circle cx="455.4" cy="952.8" r="3.3" fill="#43B75B"/><circle cx="459.5" cy="952.2" r="3.3" fill="#43B75B"/><circle cx="463.7" cy="954.1" r="3.3" fill="#43B75B"/><circle cx="449.1" cy="960.4" r="3.3" fill="#43B75B"/><circle cx="462.9" cy="963.4" r="3.3" fill="#43B75B"/><circle cx="485.1" cy="915.8" r="3.3" fill="#43B75B"/><circle cx="491.4" cy="921.8" r="3.3" fill="#43B75B"/><circle cx="478.5" cy="928.5" r="3.3" fill="#43B75B"/><circle cx="477.7" cy="938.9" r="3.3" fill="#43B75B"/><circle cx="478.5" cy="948.6" r="3.3" fill="#43B75B"/><circle cx="483.4" cy="948.6" r="3.3" fill="#43B75B"/><circle cx="482.7" cy="956.6" r="3.3" fill="#43B75B"/><circle cx="487.4" cy="955.4" r="3.3" fill="#43B75B"/><circle cx="500.1" cy="949.0" r="3.3" fill="#43B75B"/><circle cx="508.9" cy="932.6" r="3.3" fill="#43B75B"/><circle cx="513.1" cy="945.5" r="3.3" fill="#43B75B"/><circle cx="508.9" cy="981.6" r="3.3" fill="#43B75B"/><circle cx="632.4" cy="899.0" r="3.3" fill="#43B75B"/><circle cx="546.4" cy="949.7" r="3.3" fill="#43B75B"/><circle cx="512.8" cy="945.5" r="3.3" fill="#43B75B"/><rect x="621.4" y="1003.3" width="40.0" height="23.299999999999955" fill="#fff" stroke="#231815" stroke-width="1.3"/><text x="641.4" y="1019.2" font-size="16.3" text-anchor="middle" font-weight="bold" fill="#231815" >Cpx</text><rect x="646.4" y="852.8" width="23.3" height="22.8" fill="#231815"/><text x="658.0" y="871.7" font-size="19.8" text-anchor="middle" font-weight="bold" fill="#fff" stroke="#fff" stroke-width="0.45">J</text></svg></body></html>
